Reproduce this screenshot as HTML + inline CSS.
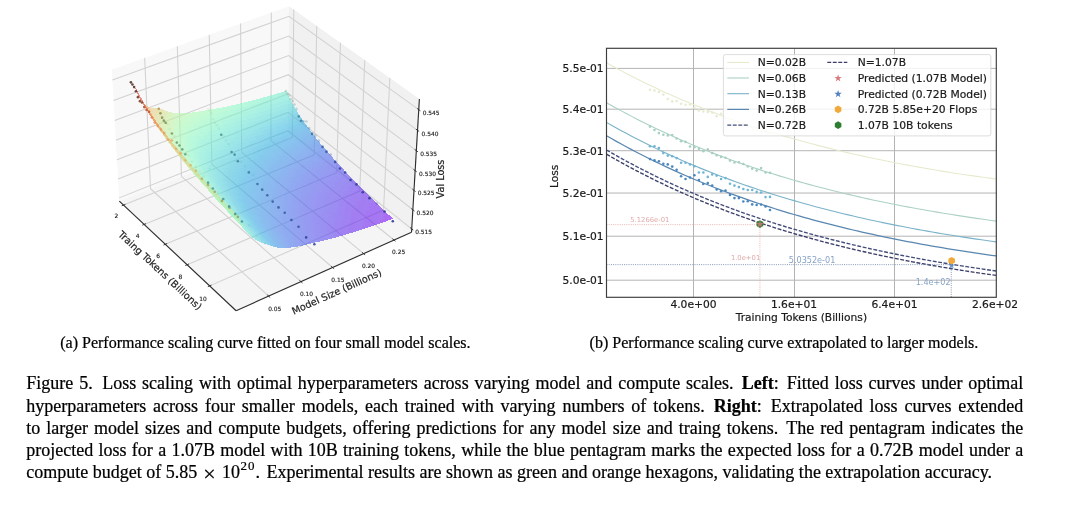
<!DOCTYPE html>
<html lang="en"><head><meta charset="utf-8"><title>Figure 5</title>
<style>
html,body{margin:0;padding:0;background:#fff;}
body{width:1080px;height:506px;position:relative;overflow:hidden;font-family:"Liberation Serif","DejaVu Serif",serif;color:#000;-webkit-text-stroke:0.22px #000;}
svg{position:absolute;left:0;top:0;}
.cap{position:absolute;font-size:16.05px;line-height:20px;white-space:nowrap;}
.main{position:absolute;left:26.3px;top:372.3px;width:997px;font-size:18px;line-height:22.25px;}
.main div{text-align:justify;text-align-last:justify;white-space:nowrap;height:22.25px;}
.main div.last{text-align:left;text-align-last:left;}
.sp{display:inline-block;width:0.12em;}
.spl{display:inline-block;width:0.2em;}
.main sup{font-size:13px;line-height:0;vertical-align:baseline;position:relative;top:-8.6px;letter-spacing:0.9px;margin-left:0.6px;}
.x{display:inline-block;font-size:22px;line-height:0;margin:0 6.3px 0 6px;position:relative;top:2.6px;}
</style></head><body>
<svg width="1080" height="506" viewBox="0 0 1080 506">
<g id="plot3d">
<polygon points="119.31,201.1 236.12,310.75 411.52,232.16 287.87,133.86" fill="#f5f5f5"/>
<polygon points="119.31,201.1 287.87,133.86 289.05,6.16 111.82,69.64" fill="#f8f8f8"/>
<polygon points="287.87,133.86 411.52,232.16 419.38,99.08 289.05,6.16" fill="#f1f1f1"/>
<g fill="none" stroke="#d1d1d1" stroke-width="1.05">
<polyline points="123.57,205.1 292.39,137.46 293.8,9.54"/>
<polyline points="144.14,224.41 314.23,154.82 316.76,25.91"/>
<polyline points="165.32,244.29 336.69,172.68 340.4,42.76"/>
<polyline points="187.14,264.77 359.79,191.04 364.74,60.12"/>
<polyline points="209.63,285.88 383.56,209.94 389.83,78.01"/>
<polyline points="268.69,296.16 150.5,188.66 144.68,57.87"/>
<polyline points="300.98,281.69 181.47,176.31 177.28,46.19"/>
<polyline points="332.61,267.52 211.86,164.18 209.24,34.74"/>
<polyline points="363.6,253.63 241.68,152.29 240.58,23.52"/>
<polyline points="393.98,240.02 270.95,140.61 271.3,12.51"/>
<polyline points="119.13,197.87 287.9,130.72 411.71,228.9"/>
<polyline points="118.05,178.97 288.07,112.31 412.84,209.78"/>
<polyline points="116.96,159.78 288.24,93.65 413.99,190.37"/>
<polyline points="115.85,140.3 288.42,74.71 415.15,170.65"/>
<polyline points="114.72,120.53 288.6,55.51 416.33,150.63"/>
<polyline points="113.57,100.45 288.78,36.02 417.54,130.3"/>
<polyline points="112.41,80.06 288.96,16.25 418.76,109.64"/>
</g>
<filter id="sb" x="-5%" y="-5%" width="110%" height="110%"><feGaussianBlur stdDeviation="0.55"/></filter>
<g id="surf" fill-opacity="0.56" shape-rendering="crispEdges" filter="url(#sb)">
<path d="M283 91.8L285 96L287.9 95.1L285.9 90.9" fill="#73eecf"/>
<path d="M285 96L287.1 99.9L290 99.1L287.9 95.1" fill="#69e8d4"/>
<path d="M287.1 99.9L289.1 103.7L292 102.8L290 99.1" fill="#5ee0d8"/>
<path d="M280.1 92.7L282.1 96.9L285 96L283 91.8" fill="#73eecf"/>
<path d="M289.1 103.7L291.1 107.2L294 106.4L292 102.8" fill="#56d8db"/>
<path d="M282.1 96.9L284.2 100.8L287.1 99.9L285 96" fill="#69e8d4"/>
<path d="M284.2 100.8L286.2 104.6L289.1 103.7L287.1 99.9" fill="#60e1d7"/>
<path d="M291.1 107.2L293.2 110.7L296.1 109.8L294 106.4" fill="#4cd0dd"/>
<path d="M277.2 93.5L279.2 97.7L282.1 96.9L280.1 92.7" fill="#74efcf"/>
<path d="M286.2 104.6L288.2 108.1L291.1 107.2L289.1 103.7" fill="#57dada"/>
<path d="M279.2 97.7L281.3 101.7L284.2 100.8L282.1 96.9" fill="#6ae9d3"/>
<path d="M293.2 110.7L295.2 113.9L298.1 113L296.1 109.8" fill="#45c9e0"/>
<path d="M281.3 101.7L283.3 105.4L286.2 104.6L284.2 100.8" fill="#60e1d7"/>
<path d="M288.2 108.1L290.3 111.5L293.2 110.7L291.1 107.2" fill="#4ed2dd"/>
<path d="M274.3 94.4L276.3 98.6L279.2 97.7L277.2 93.5" fill="#76f0ce"/>
<path d="M295.2 113.9L297.3 117.1L300.2 116.2L298.1 113" fill="#3dc1e2"/>
<path d="M283.3 105.4L285.3 109L288.2 108.1L286.2 104.6" fill="#57dada"/>
<path d="M276.3 98.6L278.4 102.5L281.3 101.7L279.2 97.7" fill="#6cead2"/>
<path d="M290.3 111.5L292.3 114.8L295.2 113.9L293.2 110.7" fill="#47cbdf"/>
<path d="M278.4 102.5L280.4 106.3L283.3 105.4L281.3 101.7" fill="#62e3d6"/>
<path d="M285.3 109L287.4 112.4L290.3 111.5L288.2 108.1" fill="#50d4dc"/>
<path d="M297.3 117.1L299.3 120.2L302.2 119.3L300.2 116.2" fill="#36b9e3"/>
<path d="M271.4 95.2L273.4 99.4L276.3 98.6L274.3 94.4" fill="#76f0ce"/>
<path d="M292.3 114.8L294.4 118L297.3 117.1L295.2 113.9" fill="#3fc3e1"/>
<path d="M280.4 106.3L282.4 109.9L285.3 109L283.3 105.4" fill="#59dcd9"/>
<path d="M273.4 99.4L275.5 103.4L278.4 102.5L276.3 98.6" fill="#6cead2"/>
<path d="M287.4 112.4L289.4 115.7L292.3 114.8L290.3 111.5" fill="#47cbdf"/>
<path d="M299.3 120.2L301.4 123.2L304.3 122.3L302.2 119.3" fill="#30b3e5"/>
<path d="M275.5 103.4L277.5 107.2L280.4 106.3L278.4 102.5" fill="#64e4d6"/>
<path d="M282.4 109.9L284.5 113.3L287.4 112.4L285.3 109" fill="#50d4dc"/>
<path d="M294.4 118L296.4 121.1L299.3 120.2L297.3 117.1" fill="#38bbe3"/>
<path d="M268.5 96.1L270.5 100.3L273.4 99.4L271.4 95.2" fill="#78f1cd"/>
<path d="M289.4 115.7L291.5 118.9L294.4 118L292.3 114.8" fill="#3fc3e1"/>
<path d="M277.5 107.2L279.5 110.7L282.4 109.9L280.4 106.3" fill="#5bddd9"/>
<path d="M270.5 100.3L272.5 104.2L275.5 103.4L273.4 99.4" fill="#6eebd2"/>
<path d="M301.4 123.2L303.4 126.1L306.3 125.2L304.3 122.3" fill="#2face6"/>
<path d="M284.5 113.3L286.5 116.6L289.4 115.7L287.4 112.4" fill="#49cddf"/>
<path d="M296.4 121.1L298.5 124.1L301.4 123.2L299.3 120.2" fill="#30b3e5"/>
<path d="M272.5 104.2L274.6 108L277.5 107.2L275.5 103.4" fill="#64e4d6"/>
<path d="M279.5 110.7L281.6 114.2L284.5 113.3L282.4 109.9" fill="#52d5dc"/>
<path d="M291.5 118.9L293.5 122L296.4 121.1L294.4 118" fill="#3abde3"/>
<path d="M265.5 96.9L267.6 101.1L270.5 100.3L268.5 96.1" fill="#79f2cc"/>
<path d="M286.5 116.6L288.6 119.8L291.5 118.9L289.4 115.7" fill="#41c5e1"/>
<path d="M303.4 126.1L305.5 128.9L308.4 128L306.3 125.2" fill="#31a3e8"/>
<path d="M274.6 108L276.6 111.6L279.5 110.7L277.5 107.2" fill="#5bddd9"/>
<path d="M267.6 101.1L269.6 105.1L272.5 104.2L270.5 100.3" fill="#70ecd1"/>
<path d="M298.5 124.1L300.5 127L303.4 126.1L301.4 123.2" fill="#2face6"/>
<path d="M281.6 114.2L283.6 117.5L286.5 116.6L284.5 113.3" fill="#4bcede"/>
<path d="M293.5 122L295.6 125L298.5 124.1L296.4 121.1" fill="#32b5e4"/>
<path d="M269.6 105.1L271.6 108.9L274.6 108L272.5 104.2" fill="#65e5d5"/>
<path d="M276.6 111.6L278.6 115L281.6 114.2L279.5 110.7" fill="#54d7db"/>
<path d="M288.6 119.8L290.6 122.9L293.5 122L291.5 118.9" fill="#3abde3"/>
<path d="M262.6 97.7L264.6 101.9L267.6 101.1L265.5 96.9" fill="#7bf3cc"/>
<path d="M305.5 128.9L307.6 131.7L310.5 130.8L308.4 128" fill="#329fe8"/>
<path d="M283.6 117.5L285.7 120.7L288.6 119.8L286.5 116.6" fill="#43c7e0"/>
<path d="M300.5 127L302.6 129.9L305.5 128.9L303.4 126.1" fill="#30a6e7"/>
<path d="M271.6 108.9L273.7 112.4L276.6 111.6L274.6 108" fill="#5ddfd8"/>
<path d="M264.6 101.9L266.7 105.9L269.6 105.1L267.6 101.1" fill="#70ecd1"/>
<path d="M295.6 125L297.6 127.9L300.5 127L298.5 124.1" fill="#2eaee6"/>
<path d="M278.6 115L280.7 118.3L283.6 117.5L281.6 114.2" fill="#4bcede"/>
<path d="M290.6 122.9L292.7 125.9L295.6 125L293.5 122" fill="#34b7e4"/>
<path d="M266.7 105.9L268.7 109.7L271.6 108.9L269.6 105.1" fill="#67e7d4"/>
<path d="M285.7 120.7L287.7 123.8L290.6 122.9L288.6 119.8" fill="#3cbfe2"/>
<path d="M273.7 112.4L275.7 115.9L278.6 115L276.6 111.6" fill="#54d7db"/>
<path d="M307.6 131.7L309.7 134.5L312.5 133.5L310.5 130.8" fill="#3498e9"/>
<path d="M259.7 98.5L261.7 102.8L264.6 101.9L262.6 97.7" fill="#7bf3cc"/>
<path d="M302.6 129.9L304.7 132.6L307.6 131.7L305.5 128.9" fill="#329fe8"/>
<path d="M280.7 118.3L282.7 121.5L285.7 120.7L283.6 117.5" fill="#43c7e0"/>
<path d="M297.6 127.9L299.7 130.8L302.6 129.9L300.5 127" fill="#30a8e7"/>
<path d="M268.7 109.7L270.7 113.3L273.7 112.4L271.6 108.9" fill="#5ee0d8"/>
<path d="M261.7 102.8L263.7 106.7L266.7 105.9L264.6 101.9" fill="#71edd0"/>
<path d="M292.7 125.9L294.7 128.8L297.6 127.9L295.6 125" fill="#2eaee6"/>
<path d="M275.7 115.9L277.8 119.2L280.7 118.3L278.6 115" fill="#4cd0dd"/>
<path d="M287.7 123.8L289.8 126.8L292.7 125.9L290.6 122.9" fill="#34b7e4"/>
<path d="M309.7 134.5L311.7 137.1L314.6 136.2L312.5 133.5" fill="#3690ea"/>
<path d="M263.7 106.7L265.8 110.5L268.7 109.7L266.7 105.9" fill="#69e8d4"/>
<path d="M282.7 121.5L284.8 124.6L287.7 123.8L285.7 120.7" fill="#3dc1e2"/>
<path d="M270.7 113.3L272.8 116.7L275.7 115.9L273.7 112.4" fill="#56d8db"/>
<path d="M304.7 132.6L306.8 135.4L309.7 134.5L307.6 131.7" fill="#3498e9"/>
<path d="M299.7 130.8L301.8 133.5L304.7 132.6L302.6 129.9" fill="#32a1e8"/>
<path d="M256.7 99.3L258.7 103.6L261.7 102.8L259.7 98.5" fill="#7df4cb"/>
<path d="M277.8 119.2L279.8 122.4L282.7 121.5L280.7 118.3" fill="#45c9e0"/>
<path d="M294.7 128.8L296.8 131.7L299.7 130.8L297.6 127.9" fill="#30a8e7"/>
<path d="M265.8 110.5L267.8 114.1L270.7 113.3L268.7 109.7" fill="#60e1d7"/>
<path d="M289.8 126.8L291.8 129.7L294.7 128.8L292.7 125.9" fill="#2eb1e5"/>
<path d="M258.7 103.6L260.8 107.5L263.7 106.7L261.7 102.8" fill="#73eecf"/>
<path d="M272.8 116.7L274.8 120L277.8 119.2L275.7 115.9" fill="#4ed2dd"/>
<path d="M284.8 124.6L286.8 127.6L289.8 126.8L287.7 123.8" fill="#36b9e3"/>
<path d="M311.7 137.1L313.8 139.8L316.7 138.8L314.6 136.2" fill="#388beb"/>
<path d="M306.8 135.4L308.8 138.1L311.7 137.1L309.7 134.5" fill="#3693ea"/>
<path d="M260.8 107.5L262.8 111.3L265.8 110.5L263.7 106.7" fill="#69e8d4"/>
<path d="M279.8 122.4L281.9 125.5L284.8 124.6L282.7 121.5" fill="#3dc1e2"/>
<path d="M301.8 133.5L303.9 136.3L306.8 135.4L304.7 132.6" fill="#349ae9"/>
<path d="M267.8 114.1L269.9 117.6L272.8 116.7L270.7 113.3" fill="#57dada"/>
<path d="M296.8 131.7L298.9 134.4L301.8 133.5L299.7 130.8" fill="#32a1e8"/>
<path d="M253.8 100.1L255.8 104.3L258.7 103.6L256.7 99.3" fill="#7ef4ca"/>
<path d="M274.8 120L276.9 123.2L279.8 122.4L277.8 119.2" fill="#47cbdf"/>
<path d="M291.8 129.7L293.9 132.5L296.8 131.7L294.7 128.8" fill="#2faae6"/>
<path d="M262.8 111.3L264.9 114.9L267.8 114.1L265.8 110.5" fill="#60e1d7"/>
<path d="M286.8 127.6L288.9 130.6L291.8 129.7L289.8 126.8" fill="#30b3e5"/>
<path d="M255.8 104.3L257.8 108.3L260.8 107.5L258.7 103.6" fill="#74efcf"/>
<path d="M269.9 117.6L271.9 120.9L274.8 120L272.8 116.7" fill="#50d4dc"/>
<path d="M313.8 139.8L315.9 142.4L318.8 141.4L316.7 138.8" fill="#3a84ec"/>
<path d="M281.9 125.5L283.9 128.5L286.8 127.6L284.8 124.6" fill="#38bbe3"/>
<path d="M308.8 138.1L310.9 140.7L313.8 139.8L311.7 137.1" fill="#388beb"/>
<path d="M303.9 136.3L305.9 139L308.8 138.1L306.8 135.4" fill="#3693ea"/>
<path d="M257.8 108.3L259.9 112.1L262.8 111.3L260.8 107.5" fill="#6ae9d3"/>
<path d="M276.9 123.2L278.9 126.3L281.9 125.5L279.8 122.4" fill="#3fc3e1"/>
<path d="M298.9 134.4L300.9 137.2L303.9 136.3L301.8 133.5" fill="#339ce9"/>
<path d="M264.9 114.9L266.9 118.4L269.9 117.6L267.8 114.1" fill="#59dcd9"/>
<path d="M293.9 132.5L296 135.3L298.9 134.4L296.8 131.7" fill="#31a3e8"/>
<path d="M250.8 100.9L252.8 105.1L255.8 104.3L253.8 100.1" fill="#80f5c9"/>
<path d="M271.9 120.9L273.9 124.1L276.9 123.2L274.8 120" fill="#49cddf"/>
<path d="M288.9 130.6L291 133.4L293.9 132.5L291.8 129.7" fill="#2face6"/>
<path d="M259.9 112.1L261.9 115.7L264.9 114.9L262.8 111.3" fill="#62e3d6"/>
<path d="M283.9 128.5L286 131.4L288.9 130.6L286.8 127.6" fill="#32b5e4"/>
<path d="M252.8 105.1L254.9 109.1L257.8 108.3L255.8 104.3" fill="#76f0ce"/>
<path d="M315.9 142.4L318 144.9L320.9 144L318.8 141.4" fill="#3c7eed"/>
<path d="M266.9 118.4L269 121.7L271.9 120.9L269.9 117.6" fill="#50d4dc"/>
<path d="M310.9 140.7L313 143.3L315.9 142.4L313.8 139.8" fill="#3986ec"/>
<path d="M278.9 126.3L281 129.4L283.9 128.5L281.9 125.5" fill="#3abde3"/>
<path d="M305.9 139L308 141.6L310.9 140.7L308.8 138.1" fill="#378eeb"/>
<path d="M300.9 137.2L303 139.9L305.9 139L303.9 136.3" fill="#3595ea"/>
<path d="M296 135.3L298 138.1L300.9 137.2L298.9 134.4" fill="#339ce9"/>
<path d="M254.9 109.1L256.9 112.9L259.9 112.1L257.8 108.3" fill="#6cead2"/>
<path d="M273.9 124.1L276 127.2L278.9 126.3L276.9 123.2" fill="#41c5e1"/>
<path d="M261.9 115.7L264 119.2L266.9 118.4L264.9 114.9" fill="#5bddd9"/>
<path d="M291 133.4L293 136.2L296 135.3L293.9 132.5" fill="#30a6e7"/>
<path d="M247.8 101.6L249.9 105.9L252.8 105.1L250.8 100.9" fill="#81f6c8"/>
<path d="M286 131.4L288 134.3L291 133.4L288.9 130.6" fill="#2face6"/>
<path d="M269 121.7L271 124.9L273.9 124.1L271.9 120.9" fill="#49cddf"/>
<path d="M256.9 112.9L259 116.5L261.9 115.7L259.9 112.1" fill="#64e4d6"/>
<path d="M281 129.4L283 132.3L286 131.4L283.9 128.5" fill="#32b5e4"/>
<path d="M318 144.9L320.1 147.4L323 146.5L320.9 144" fill="#3e79ed"/>
<path d="M249.9 105.9L251.9 109.9L254.9 109.1L252.8 105.1" fill="#78f1cd"/>
<path d="M313 143.3L315.1 145.8L318 144.9L315.9 142.4" fill="#3b81ec"/>
<path d="M264 119.2L266 122.5L269 121.7L266.9 118.4" fill="#52d5dc"/>
<path d="M308 141.6L310.1 144.2L313 143.3L310.9 140.7" fill="#3989eb"/>
<path d="M276 127.2L278.1 130.2L281 129.4L278.9 126.3" fill="#3abde3"/>
<path d="M303 139.9L305.1 142.5L308 141.6L305.9 139" fill="#3690ea"/>
<path d="M298 138.1L300.1 140.8L303 139.9L300.9 137.2" fill="#3498e9"/>
<path d="M293 136.2L295.1 139L298 138.1L296 135.3" fill="#329fe8"/>
<path d="M271 124.9L273.1 128L276 127.2L273.9 124.1" fill="#43c7e0"/>
<path d="M251.9 109.9L254 113.7L256.9 112.9L254.9 109.1" fill="#6eebd2"/>
<path d="M259 116.5L261 120L264 119.2L261.9 115.7" fill="#5bddd9"/>
<path d="M288 134.3L290.1 137.1L293 136.2L291 133.4" fill="#30a8e7"/>
<path d="M244.9 102.4L246.9 106.6L249.9 105.9L247.8 101.6" fill="#83f6c8"/>
<path d="M283 132.3L285.1 135.2L288 134.3L286 131.4" fill="#2eaee6"/>
<path d="M266 122.5L268.1 125.7L271 124.9L269 121.7" fill="#4bcede"/>
<path d="M278.1 130.2L280.1 133.1L283 132.3L281 129.4" fill="#34b7e4"/>
<path d="M254 113.7L256 117.3L259 116.5L256.9 112.9" fill="#65e5d5"/>
<path d="M320.1 147.4L322.2 149.9L325.1 149L323 146.5" fill="#3f74ee"/>
<path d="M315.1 145.8L317.2 148.4L320.1 147.4L318 144.9" fill="#3e79ed"/>
<path d="M310.1 144.2L312.2 146.8L315.1 145.8L313 143.3" fill="#3b81ec"/>
<path d="M246.9 106.6L248.9 110.6L251.9 109.9L249.9 105.9" fill="#79f2cc"/>
<path d="M305.1 142.5L307.2 145.1L310.1 144.2L308 141.6" fill="#3989eb"/>
<path d="M261 120L263 123.3L266 122.5L264 119.2" fill="#54d7db"/>
<path d="M300.1 140.8L302.2 143.4L305.1 142.5L303 139.9" fill="#3690ea"/>
<path d="M273.1 128L275.1 131L278.1 130.2L276 127.2" fill="#3cbfe2"/>
<path d="M295.1 139L297.2 141.7L300.1 140.8L298 138.1" fill="#3498e9"/>
<path d="M290.1 137.1L292.2 139.9L295.1 139L293 136.2" fill="#32a1e8"/>
<path d="M268.1 125.7L270.1 128.8L273.1 128L271 124.9" fill="#43c7e0"/>
<path d="M248.9 110.6L251 114.4L254 113.7L251.9 109.9" fill="#70ecd1"/>
<path d="M256 117.3L258 120.8L261 120L259 116.5" fill="#5ddfd8"/>
<path d="M285.1 135.2L287.2 138L290.1 137.1L288 134.3" fill="#30a8e7"/>
<path d="M241.9 103.1L243.9 107.4L246.9 106.6L244.9 102.4" fill="#85f7c7"/>
<path d="M280.1 133.1L282.2 136L285.1 135.2L283 132.3" fill="#2eb1e5"/>
<path d="M263 123.3L265.1 126.5L268.1 125.7L266 122.5" fill="#4cd0dd"/>
<path d="M322.2 149.9L324.3 152.4L327.2 151.4L325.1 149" fill="#416fee"/>
<path d="M317.2 148.4L319.3 150.9L322.2 149.9L320.1 147.4" fill="#3f74ee"/>
<path d="M275.1 131L277.2 134L280.1 133.1L278.1 130.2" fill="#36b9e3"/>
<path d="M312.2 146.8L314.3 149.3L317.2 148.4L315.1 145.8" fill="#3d7ced"/>
<path d="M251 114.4L253 118.1L256 117.3L254 113.7" fill="#67e7d4"/>
<path d="M307.2 145.1L309.3 147.7L312.2 146.8L310.1 144.2" fill="#3a84ec"/>
<path d="M243.9 107.4L246 111.4L248.9 110.6L246.9 106.6" fill="#79f2cc"/>
<path d="M302.2 143.4L304.3 146L307.2 145.1L305.1 142.5" fill="#388beb"/>
<path d="M258 120.8L260.1 124.1L263 123.3L261 120" fill="#56d8db"/>
<path d="M297.2 141.7L299.3 144.3L302.2 143.4L300.1 140.8" fill="#3693ea"/>
<path d="M270.1 128.8L272.2 131.9L275.1 131L273.1 128" fill="#3dc1e2"/>
<path d="M292.2 139.9L294.3 142.6L297.2 141.7L295.1 139" fill="#349ae9"/>
<path d="M287.2 138L289.3 140.7L292.2 139.9L290.1 137.1" fill="#32a1e8"/>
<path d="M265.1 126.5L267.1 129.6L270.1 128.8L268.1 125.7" fill="#45c9e0"/>
<path d="M246 111.4L248 115.2L251 114.4L248.9 110.6" fill="#71edd0"/>
<path d="M253 118.1L255.1 121.5L258 120.8L256 117.3" fill="#5ee0d8"/>
<path d="M282.2 136L284.2 138.8L287.2 138L285.1 135.2" fill="#2faae6"/>
<path d="M277.2 134L279.2 136.9L282.2 136L280.1 133.1" fill="#30b3e5"/>
<path d="M238.9 103.8L240.9 108.1L243.9 107.4L241.9 103.1" fill="#86f8c6"/>
<path d="M260.1 124.1L262.1 127.3L265.1 126.5L263 123.3" fill="#4ed2dd"/>
<path d="M324.3 152.4L326.4 154.8L329.3 153.9L327.2 151.4" fill="#4369ee"/>
<path d="M319.3 150.9L321.4 153.3L324.3 152.4L322.2 149.9" fill="#416fee"/>
<path d="M314.3 149.3L316.4 151.8L319.3 150.9L317.2 148.4" fill="#3e77ed"/>
<path d="M309.3 147.7L311.4 150.2L314.3 149.3L312.2 146.8" fill="#3c7eed"/>
<path d="M272.2 131.9L274.2 134.8L277.2 134L275.1 131" fill="#38bbe3"/>
<path d="M304.3 146L306.4 148.6L309.3 147.7L307.2 145.1" fill="#3986ec"/>
<path d="M248 115.2L250 118.8L253 118.1L251 114.4" fill="#69e8d4"/>
<path d="M299.3 144.3L301.4 146.9L304.3 146L302.2 143.4" fill="#378eeb"/>
<path d="M240.9 108.1L243 112.1L246 111.4L243.9 107.4" fill="#7df4cb"/>
<path d="M255.1 121.5L257.1 124.9L260.1 124.1L258 120.8" fill="#57dada"/>
<path d="M294.3 142.6L296.3 145.2L299.3 144.3L297.2 141.7" fill="#3595ea"/>
<path d="M267.1 129.6L269.2 132.7L272.2 131.9L270.1 128.8" fill="#3fc3e1"/>
<path d="M289.3 140.7L291.3 143.4L294.3 142.6L292.2 139.9" fill="#339ce9"/>
<path d="M284.2 138.8L286.3 141.6L289.3 140.7L287.2 138" fill="#31a3e8"/>
<path d="M262.1 127.3L264.2 130.4L267.1 129.6L265.1 126.5" fill="#47cbdf"/>
<path d="M243 112.1L245 115.9L248 115.2L246 111.4" fill="#73eecf"/>
<path d="M279.2 136.9L281.3 139.7L284.2 138.8L282.2 136" fill="#2face6"/>
<path d="M250 118.8L252.1 122.3L255.1 121.5L253 118.1" fill="#60e1d7"/>
<path d="M274.2 134.8L276.3 137.7L279.2 136.9L277.2 134" fill="#32b5e4"/>
<path d="M235.9 104.5L237.9 108.8L240.9 108.1L238.9 103.8" fill="#88f8c5"/>
<path d="M257.1 124.9L259.2 128.1L262.1 127.3L260.1 124.1" fill="#50d4dc"/>
<path d="M321.4 153.3L323.5 155.8L326.4 154.8L324.3 152.4" fill="#426cee"/>
<path d="M326.4 154.8L328.6 157.2L331.5 156.3L329.3 153.9" fill="#4564ef"/>
<path d="M316.4 151.8L318.5 154.3L321.4 153.3L319.3 150.9" fill="#4071ee"/>
<path d="M311.4 150.2L313.5 152.7L316.4 151.8L314.3 149.3" fill="#3e79ed"/>
<path d="M306.4 148.6L308.5 151.1L311.4 150.2L309.3 147.7" fill="#3c7eed"/>
<path d="M269.2 132.7L271.3 135.6L274.2 134.8L272.2 131.9" fill="#3abde3"/>
<path d="M301.4 146.9L303.5 149.5L306.4 148.6L304.3 146" fill="#3986ec"/>
<path d="M245 115.9L247.1 119.5L250 118.8L248 115.2" fill="#6ae9d3"/>
<path d="M296.3 145.2L298.4 147.8L301.4 146.9L299.3 144.3" fill="#378eeb"/>
<path d="M291.3 143.4L293.4 146.1L296.3 145.2L294.3 142.6" fill="#3595ea"/>
<path d="M237.9 108.8L240 112.8L243 112.1L240.9 108.1" fill="#7ef4ca"/>
<path d="M252.1 122.3L254.1 125.6L257.1 124.9L255.1 121.5" fill="#59dcd9"/>
<path d="M264.2 130.4L266.2 133.5L269.2 132.7L267.1 129.6" fill="#41c5e1"/>
<path d="M286.3 141.6L288.4 144.3L291.3 143.4L289.3 140.7" fill="#329fe8"/>
<path d="M281.3 139.7L283.4 142.4L286.3 141.6L284.2 138.8" fill="#30a6e7"/>
<path d="M259.2 128.1L261.2 131.2L264.2 130.4L262.1 127.3" fill="#49cddf"/>
<path d="M276.3 137.7L278.3 140.5L281.3 139.7L279.2 136.9" fill="#2eaee6"/>
<path d="M240 112.8L242 116.6L245 115.9L243 112.1" fill="#74efcf"/>
<path d="M247.1 119.5L249.1 123L252.1 122.3L250 118.8" fill="#62e3d6"/>
<path d="M271.3 135.6L273.3 138.5L276.3 137.7L274.2 134.8" fill="#32b5e4"/>
<path d="M318.5 154.3L320.6 156.7L323.5 155.8L321.4 153.3" fill="#426cee"/>
<path d="M323.5 155.8L325.7 158.2L328.6 157.2L326.4 154.8" fill="#4466ef"/>
<path d="M254.1 125.6L256.2 128.9L259.2 128.1L257.1 124.9" fill="#52d5dc"/>
<path d="M313.5 152.7L315.6 155.2L318.5 154.3L316.4 151.8" fill="#3f74ee"/>
<path d="M328.6 157.2L330.7 159.6L333.6 158.7L331.5 156.3" fill="#475eef"/>
<path d="M232.9 105.2L234.9 109.5L237.9 108.8L235.9 104.5" fill="#89f9c4"/>
<path d="M308.5 151.1L310.6 153.6L313.5 152.7L311.4 150.2" fill="#3e79ed"/>
<path d="M303.5 149.5L305.5 152L308.5 151.1L306.4 148.6" fill="#3b81ec"/>
<path d="M298.4 147.8L300.5 150.4L303.5 149.5L301.4 146.9" fill="#3989eb"/>
<path d="M266.2 133.5L268.3 136.4L271.3 135.6L269.2 132.7" fill="#3abde3"/>
<path d="M293.4 146.1L295.5 148.7L298.4 147.8L296.3 145.2" fill="#3690ea"/>
<path d="M242 116.6L244.1 120.2L247.1 119.5L245 115.9" fill="#6cead2"/>
<path d="M288.4 144.3L290.5 147L293.4 146.1L291.3 143.4" fill="#3498e9"/>
<path d="M234.9 109.5L237 113.5L240 112.8L237.9 108.8" fill="#80f5c9"/>
<path d="M249.1 123L251.2 126.4L254.1 125.6L252.1 122.3" fill="#5bddd9"/>
<path d="M261.2 131.2L263.3 134.3L266.2 133.5L264.2 130.4" fill="#43c7e0"/>
<path d="M283.4 142.4L285.4 145.2L288.4 144.3L286.3 141.6" fill="#329fe8"/>
<path d="M278.3 140.5L280.4 143.3L283.4 142.4L281.3 139.7" fill="#30a8e7"/>
<path d="M256.2 128.9L258.2 132L261.2 131.2L259.2 128.1" fill="#4bcede"/>
<path d="M273.3 138.5L275.4 141.3L278.3 140.5L276.3 137.7" fill="#2eb1e5"/>
<path d="M237 113.5L239 117.3L242 116.6L240 112.8" fill="#76f0ce"/>
<path d="M244.1 120.2L246.1 123.7L249.1 123L247.1 119.5" fill="#64e4d6"/>
<path d="M268.3 136.4L270.4 139.3L273.3 138.5L271.3 135.6" fill="#34b7e4"/>
<path d="M320.6 156.7L322.7 159.1L325.7 158.2L323.5 155.8" fill="#4466ef"/>
<path d="M315.6 155.2L317.7 157.6L320.6 156.7L318.5 154.3" fill="#416fee"/>
<path d="M325.7 158.2L327.8 160.6L330.7 159.6L328.6 157.2" fill="#4661ef"/>
<path d="M310.6 153.6L312.7 156.1L315.6 155.2L313.5 152.7" fill="#3f74ee"/>
<path d="M330.7 159.6L332.8 162L335.7 161L333.6 158.7" fill="#485bef"/>
<path d="M305.5 152L307.6 154.6L310.6 153.6L308.5 151.1" fill="#3d7ced"/>
<path d="M251.2 126.4L253.2 129.6L256.2 128.9L254.1 125.6" fill="#54d7db"/>
<path d="M300.5 150.4L302.6 152.9L305.5 152L303.5 149.5" fill="#3a84ec"/>
<path d="M229.9 105.8L231.9 110.1L234.9 109.5L232.9 105.2" fill="#8bf9c3"/>
<path d="M295.5 148.7L297.6 151.3L300.5 150.4L298.4 147.8" fill="#388beb"/>
<path d="M263.3 134.3L265.3 137.2L268.3 136.4L266.2 133.5" fill="#3cbfe2"/>
<path d="M290.5 147L292.6 149.6L295.5 148.7L293.4 146.1" fill="#3693ea"/>
<path d="M239 117.3L241.1 120.9L244.1 120.2L242 116.6" fill="#6eebd2"/>
<path d="M285.4 145.2L287.5 147.8L290.5 147L288.4 144.3" fill="#349ae9"/>
<path d="M246.1 123.7L248.2 127.1L251.2 126.4L249.1 123" fill="#5ddfd8"/>
<path d="M231.9 110.1L234 114.1L237 113.5L234.9 109.5" fill="#81f6c8"/>
<path d="M258.2 132L260.3 135L263.3 134.3L261.2 131.2" fill="#45c9e0"/>
<path d="M280.4 143.3L282.5 146L285.4 145.2L283.4 142.4" fill="#32a1e8"/>
<path d="M275.4 141.3L277.5 144.1L280.4 143.3L278.3 140.5" fill="#2faae6"/>
<path d="M253.2 129.6L255.3 132.7L258.2 132L256.2 128.9" fill="#4cd0dd"/>
<path d="M270.4 139.3L272.4 142.2L275.4 141.3L273.3 138.5" fill="#2eb1e5"/>
<path d="M234 114.1L236 118L239 117.3L237 113.5" fill="#78f1cd"/>
<path d="M241.1 120.9L243.1 124.4L246.1 123.7L244.1 120.2" fill="#65e5d5"/>
<path d="M317.7 157.6L319.8 160.1L322.7 159.1L320.6 156.7" fill="#4369ee"/>
<path d="M312.7 156.1L314.8 158.6L317.7 157.6L315.6 155.2" fill="#416fee"/>
<path d="M322.7 159.1L324.9 161.5L327.8 160.6L325.7 158.2" fill="#4564ef"/>
<path d="M265.3 137.2L267.4 140.1L270.4 139.3L268.3 136.4" fill="#36b9e3"/>
<path d="M307.6 154.6L309.8 157L312.7 156.1L310.6 153.6" fill="#3e77ed"/>
<path d="M327.8 160.6L329.9 163L332.8 162L330.7 159.6" fill="#485bef"/>
<path d="M302.6 152.9L304.7 155.5L307.6 154.6L305.5 152" fill="#3c7eed"/>
<path d="M332.8 162L334.9 164.3L337.8 163.4L335.7 161" fill="#4a56f0"/>
<path d="M297.6 151.3L299.7 153.8L302.6 152.9L300.5 150.4" fill="#3986ec"/>
<path d="M248.2 127.1L250.2 130.3L253.2 129.6L251.2 126.4" fill="#56d8db"/>
<path d="M292.6 149.6L294.6 152.2L297.6 151.3L295.5 148.7" fill="#378eeb"/>
<path d="M226.9 106.5L228.9 110.8L231.9 110.1L229.9 105.8" fill="#8cf9c2"/>
<path d="M260.3 135L262.4 138L265.3 137.2L263.3 134.3" fill="#3dc1e2"/>
<path d="M287.5 147.8L289.6 150.4L292.6 149.6L290.5 147" fill="#3595ea"/>
<path d="M282.5 146L284.6 148.7L287.5 147.8L285.4 145.2" fill="#339ce9"/>
<path d="M236 118L238.1 121.6L241.1 120.9L239 117.3" fill="#70ecd1"/>
<path d="M277.5 144.1L279.5 146.8L282.5 146L280.4 143.3" fill="#31a3e8"/>
<path d="M255.3 132.7L257.3 135.8L260.3 135L258.2 132" fill="#47cbdf"/>
<path d="M243.1 124.4L245.2 127.8L248.2 127.1L246.1 123.7" fill="#5ee0d8"/>
<path d="M228.9 110.8L231 114.8L234 114.1L231.9 110.1" fill="#83f6c8"/>
<path d="M272.4 142.2L274.5 144.9L277.5 144.1L275.4 141.3" fill="#2face6"/>
<path d="M250.2 130.3L252.3 133.5L255.3 132.7L253.2 129.6" fill="#4ed2dd"/>
<path d="M267.4 140.1L269.5 142.9L272.4 142.2L270.4 139.3" fill="#30b3e5"/>
<path d="M238.1 121.6L240.1 125.1L243.1 124.4L241.1 120.9" fill="#69e8d4"/>
<path d="M231 114.8L233 118.6L236 118L234 114.1" fill="#7bf3cc"/>
<path d="M314.8 158.6L316.9 161L319.8 160.1L317.7 157.6" fill="#426cee"/>
<path d="M319.8 160.1L322 162.5L324.9 161.5L322.7 159.1" fill="#4564ef"/>
<path d="M309.8 157L311.9 159.5L314.8 158.6L312.7 156.1" fill="#4071ee"/>
<path d="M324.9 161.5L327 163.9L329.9 163L327.8 160.6" fill="#475eef"/>
<path d="M304.7 155.5L306.8 157.9L309.8 157L307.6 154.6" fill="#3e79ed"/>
<path d="M329.9 163L332 165.3L334.9 164.3L332.8 162" fill="#4959ef"/>
<path d="M262.4 138L264.4 140.9L267.4 140.1L265.3 137.2" fill="#38bbe3"/>
<path d="M299.7 153.8L301.8 156.4L304.7 155.5L302.6 152.9" fill="#3b81ec"/>
<path d="M334.9 164.3L337.1 166.7L340 165.7L337.8 163.4" fill="#4c50f0"/>
<path d="M294.6 152.2L296.7 154.7L299.7 153.8L297.6 151.3" fill="#3986ec"/>
<path d="M289.6 150.4L291.7 153L294.6 152.2L292.6 149.6" fill="#378eeb"/>
<path d="M245.2 127.8L247.2 131L250.2 130.3L248.2 127.1" fill="#57dada"/>
<path d="M284.6 148.7L286.7 151.3L289.6 150.4L287.5 147.8" fill="#3595ea"/>
<path d="M223.9 107.1L225.9 111.4L228.9 110.8L226.9 106.5" fill="#8ffac1"/>
<path d="M257.3 135.8L259.4 138.7L262.4 138L260.3 135" fill="#3fc3e1"/>
<path d="M279.5 146.8L281.6 149.5L284.6 148.7L282.5 146" fill="#329fe8"/>
<path d="M233 118.6L235.1 122.3L238.1 121.6L236 118" fill="#73eecf"/>
<path d="M274.5 144.9L276.6 147.6L279.5 146.8L277.5 144.1" fill="#30a6e7"/>
<path d="M252.3 133.5L254.3 136.5L257.3 135.8L255.3 132.7" fill="#49cddf"/>
<path d="M240.1 125.1L242.2 128.5L245.2 127.8L243.1 124.4" fill="#60e1d7"/>
<path d="M225.9 111.4L228 115.4L231 114.8L228.9 110.8" fill="#85f7c7"/>
<path d="M269.5 142.9L271.5 145.7L274.5 144.9L272.4 142.2" fill="#2eaee6"/>
<path d="M264.4 140.9L266.5 143.7L269.5 142.9L267.4 140.1" fill="#32b5e4"/>
<path d="M247.2 131L249.3 134.2L252.3 133.5L250.2 130.3" fill="#50d4dc"/>
<path d="M311.9 159.5L314 161.9L316.9 161L314.8 158.6" fill="#426cee"/>
<path d="M316.9 161L319 163.4L322 162.5L319.8 160.1" fill="#4466ef"/>
<path d="M306.8 157.9L308.9 160.4L311.9 159.5L309.8 157" fill="#3f74ee"/>
<path d="M322 162.5L324.1 164.9L327 163.9L324.9 161.5" fill="#475eef"/>
<path d="M301.8 156.4L303.9 158.8L306.8 157.9L304.7 155.5" fill="#3d7ced"/>
<path d="M327 163.9L329.1 166.3L332 165.3L329.9 163" fill="#4959ef"/>
<path d="M235.1 122.3L237.1 125.7L240.1 125.1L238.1 121.6" fill="#6ae9d3"/>
<path d="M296.7 154.7L298.8 157.2L301.8 156.4L299.7 153.8" fill="#3b81ec"/>
<path d="M228 115.4L230 119.2L233 118.6L231 114.8" fill="#7df4cb"/>
<path d="M332 165.3L334.2 167.6L337.1 166.7L334.9 164.3" fill="#4b53f0"/>
<path d="M259.4 138.7L261.4 141.6L264.4 140.9L262.4 138" fill="#3abde3"/>
<path d="M337.1 166.7L339.2 169L342.1 168L340 165.7" fill="#4d4df0"/>
<path d="M291.7 153L293.8 155.6L296.7 154.7L294.6 152.2" fill="#3989eb"/>
<path d="M286.7 151.3L288.7 153.9L291.7 153L289.6 150.4" fill="#3690ea"/>
<path d="M242.2 128.5L244.2 131.7L247.2 131L245.2 127.8" fill="#59dcd9"/>
<path d="M281.6 149.5L283.7 152.1L286.7 151.3L284.6 148.7" fill="#3498e9"/>
<path d="M254.3 136.5L256.4 139.5L259.4 138.7L257.3 135.8" fill="#41c5e1"/>
<path d="M220.8 107.7L222.9 112L225.9 111.4L223.9 107.1" fill="#91fac0"/>
<path d="M276.6 147.6L278.6 150.3L281.6 149.5L279.5 146.8" fill="#32a1e8"/>
<path d="M271.5 145.7L273.6 148.5L276.6 147.6L274.5 144.9" fill="#30a8e7"/>
<path d="M230 119.2L232 122.9L235.1 122.3L233 118.6" fill="#74efcf"/>
<path d="M249.3 134.2L251.3 137.2L254.3 136.5L252.3 133.5" fill="#4bcede"/>
<path d="M237.1 125.7L239.2 129.1L242.2 128.5L240.1 125.1" fill="#64e4d6"/>
<path d="M222.9 112L224.9 116L228 115.4L225.9 111.4" fill="#88f8c5"/>
<path d="M266.5 143.7L268.5 146.5L271.5 145.7L269.5 142.9" fill="#2eb1e5"/>
<path d="M261.4 141.6L263.5 144.5L266.5 143.7L264.4 140.9" fill="#34b7e4"/>
<path d="M244.2 131.7L246.3 134.8L249.3 134.2L247.2 131" fill="#54d7db"/>
<path d="M314 161.9L316.1 164.3L319 163.4L316.9 161" fill="#4369ee"/>
<path d="M308.9 160.4L311 162.8L314 161.9L311.9 159.5" fill="#416fee"/>
<path d="M319 163.4L321.2 165.8L324.1 164.9L322 162.5" fill="#4661ef"/>
<path d="M303.9 158.8L306 161.3L308.9 160.4L306.8 157.9" fill="#3e77ed"/>
<path d="M324.1 164.9L326.2 167.2L329.1 166.3L327 163.9" fill="#485bef"/>
<path d="M298.8 157.2L300.9 159.7L303.9 158.8L301.8 156.4" fill="#3d7ced"/>
<path d="M329.1 166.3L331.3 168.6L334.2 167.6L332 165.3" fill="#4a56f0"/>
<path d="M293.8 155.6L295.9 158.1L298.8 157.2L296.7 154.7" fill="#3a84ec"/>
<path d="M334.2 167.6L336.3 170L339.2 169L337.1 166.7" fill="#4d4df0"/>
<path d="M232 122.9L234.1 126.4L237.1 125.7L235.1 122.3" fill="#6cead2"/>
<path d="M288.7 153.9L290.8 156.4L293.8 155.6L291.7 153" fill="#388beb"/>
<path d="M256.4 139.5L258.4 142.4L261.4 141.6L259.4 138.7" fill="#3cbfe2"/>
<path d="M224.9 116L227 119.8L230 119.2L228 115.4" fill="#7ef4ca"/>
<path d="M339.2 169L341.4 171.3L344.3 170.3L342.1 168" fill="#5048f0"/>
<path d="M283.7 152.1L285.8 154.7L288.7 153.9L286.7 151.3" fill="#3693ea"/>
<path d="M278.6 150.3L280.7 153L283.7 152.1L281.6 149.5" fill="#349ae9"/>
<path d="M239.2 129.1L241.2 132.4L244.2 131.7L242.2 128.5" fill="#5ddfd8"/>
<path d="M251.3 137.2L253.4 140.2L256.4 139.5L254.3 136.5" fill="#45c9e0"/>
<path d="M273.6 148.5L275.7 151.1L278.6 150.3L276.6 147.6" fill="#32a1e8"/>
<path d="M217.8 108.2L219.8 112.5L222.9 112L220.8 107.7" fill="#92fbbf"/>
<path d="M268.5 146.5L270.6 149.2L273.6 148.5L271.5 145.7" fill="#2faae6"/>
<path d="M227 119.8L229 123.5L232 122.9L230 119.2" fill="#76f0ce"/>
<path d="M246.3 134.8L248.3 137.9L251.3 137.2L249.3 134.2" fill="#4cd0dd"/>
<path d="M234.1 126.4L236.1 129.7L239.2 129.1L237.1 125.7" fill="#65e5d5"/>
<path d="M263.5 144.5L265.6 147.3L268.5 146.5L266.5 143.7" fill="#30b3e5"/>
<path d="M219.8 112.5L221.9 116.6L224.9 116L222.9 112" fill="#89f9c4"/>
<path d="M258.4 142.4L260.5 145.2L263.5 144.5L261.4 141.6" fill="#36b9e3"/>
<path d="M311 162.8L313.2 165.2L316.1 164.3L314 161.9" fill="#4369ee"/>
<path d="M306 161.3L308.1 163.7L311 162.8L308.9 160.4" fill="#4071ee"/>
<path d="M316.1 164.3L318.2 166.7L321.2 165.8L319 163.4" fill="#4564ef"/>
<path d="M300.9 159.7L303 162.2L306 161.3L303.9 158.8" fill="#3e77ed"/>
<path d="M321.2 165.8L323.3 168.2L326.2 167.2L324.1 164.9" fill="#475eef"/>
<path d="M295.9 158.1L298 160.6L300.9 159.7L298.8 157.2" fill="#3c7eed"/>
<path d="M241.2 132.4L243.3 135.5L246.3 134.8L244.2 131.7" fill="#56d8db"/>
<path d="M326.2 167.2L328.3 169.6L331.3 168.6L329.1 166.3" fill="#4a56f0"/>
<path d="M331.3 168.6L333.4 170.9L336.3 170L334.2 167.6" fill="#4c50f0"/>
<path d="M290.8 156.4L292.9 159L295.9 158.1L293.8 155.6" fill="#3986ec"/>
<path d="M336.3 170L338.5 172.3L341.4 171.3L339.2 169" fill="#4f4af0"/>
<path d="M285.8 154.7L287.9 157.3L290.8 156.4L288.7 153.9" fill="#378eeb"/>
<path d="M341.4 171.3L343.5 173.6L346.4 172.6L344.3 170.3" fill="#5145f0"/>
<path d="M253.4 140.2L255.4 143.1L258.4 142.4L256.4 139.5" fill="#3fc3e1"/>
<path d="M229 123.5L231.1 127L234.1 126.4L232 122.9" fill="#6eebd2"/>
<path d="M280.7 153L282.8 155.6L285.8 154.7L283.7 152.1" fill="#3595ea"/>
<path d="M221.9 116.6L223.9 120.4L227 119.8L224.9 116" fill="#81f6c8"/>
<path d="M275.7 151.1L277.8 153.8L280.7 153L278.6 150.3" fill="#339ce9"/>
<path d="M236.1 129.7L238.2 133L241.2 132.4L239.2 129.1" fill="#5ee0d8"/>
<path d="M248.3 137.9L250.4 140.9L253.4 140.2L251.3 137.2" fill="#47cbdf"/>
<path d="M270.6 149.2L272.7 151.9L275.7 151.1L273.6 148.5" fill="#31a3e8"/>
<path d="M214.7 108.8L216.8 113.1L219.8 112.5L217.8 108.2" fill="#95fbbd"/>
<path d="M265.6 147.3L267.6 150L270.6 149.2L268.5 146.5" fill="#2face6"/>
<path d="M223.9 120.4L226 124.1L229 123.5L227 119.8" fill="#79f2cc"/>
<path d="M243.3 135.5L245.3 138.6L248.3 137.9L246.3 134.8" fill="#4ed2dd"/>
<path d="M260.5 145.2L262.6 148L265.6 147.3L263.5 144.5" fill="#32b5e4"/>
<path d="M231.1 127L233.1 130.4L236.1 129.7L234.1 126.4" fill="#67e7d4"/>
<path d="M216.8 113.1L218.9 117.1L221.9 116.6L219.8 112.5" fill="#8cf9c2"/>
<path d="M308.1 163.7L310.2 166.2L313.2 165.2L311 162.8" fill="#426cee"/>
<path d="M313.2 165.2L315.3 167.6L318.2 166.7L316.1 164.3" fill="#4466ef"/>
<path d="M303 162.2L305.2 164.6L308.1 163.7L306 161.3" fill="#3f74ee"/>
<path d="M318.2 166.7L320.4 169.1L323.3 168.2L321.2 165.8" fill="#475eef"/>
<path d="M298 160.6L300.1 163.1L303 162.2L300.9 159.7" fill="#3e79ed"/>
<path d="M323.3 168.2L325.4 170.5L328.3 169.6L326.2 167.2" fill="#4959ef"/>
<path d="M255.4 143.1L257.5 145.9L260.5 145.2L258.4 142.4" fill="#3abde3"/>
<path d="M292.9 159L295 161.5L298 160.6L295.9 158.1" fill="#3b81ec"/>
<path d="M328.3 169.6L330.5 171.9L333.4 170.9L331.3 168.6" fill="#4b53f0"/>
<path d="M287.9 157.3L290 159.8L292.9 159L290.8 156.4" fill="#3989eb"/>
<path d="M238.2 133L240.2 136.2L243.3 135.5L241.2 132.4" fill="#57dada"/>
<path d="M333.4 170.9L335.6 173.2L338.5 172.3L336.3 170" fill="#4d4df0"/>
<path d="M282.8 155.6L284.9 158.1L287.9 157.3L285.8 154.7" fill="#3690ea"/>
<path d="M338.5 172.3L340.6 174.6L343.5 173.6L341.4 171.3" fill="#5048f0"/>
<path d="M343.5 173.6L345.7 175.9L348.6 174.9L346.4 172.6" fill="#5242f1"/>
<path d="M277.8 153.8L279.8 156.4L282.8 155.6L280.7 153" fill="#3498e9"/>
<path d="M250.4 140.9L252.4 143.8L255.4 143.1L253.4 140.2" fill="#41c5e1"/>
<path d="M226 124.1L228 127.6L231.1 127L229 123.5" fill="#71edd0"/>
<path d="M218.9 117.1L220.9 121L223.9 120.4L221.9 116.6" fill="#83f6c8"/>
<path d="M272.7 151.9L274.8 154.6L277.8 153.8L275.7 151.1" fill="#329fe8"/>
<path d="M233.1 130.4L235.2 133.6L238.2 133L236.1 129.7" fill="#60e1d7"/>
<path d="M267.6 150L269.7 152.7L272.7 151.9L270.6 149.2" fill="#30a6e7"/>
<path d="M245.3 138.6L247.4 141.6L250.4 140.9L248.3 137.9" fill="#49cddf"/>
<path d="M262.6 148L264.6 150.8L267.6 150L265.6 147.3" fill="#2eaee6"/>
<path d="M211.7 109.3L213.8 113.6L216.8 113.1L214.7 108.8" fill="#97fbbc"/>
<path d="M240.2 136.2L242.3 139.2L245.3 138.6L243.3 135.5" fill="#52d5dc"/>
<path d="M220.9 121L222.9 124.6L226 124.1L223.9 120.4" fill="#7bf3cc"/>
<path d="M257.5 145.9L259.6 148.7L262.6 148L260.5 145.2" fill="#34b7e4"/>
<path d="M228 127.6L230.1 131L233.1 130.4L231.1 127" fill="#6ae9d3"/>
<path d="M305.2 164.6L307.3 167.1L310.2 166.2L308.1 163.7" fill="#416fee"/>
<path d="M310.2 166.2L312.4 168.5L315.3 167.6L313.2 165.2" fill="#4466ef"/>
<path d="M300.1 163.1L302.2 165.5L305.2 164.6L303 162.2" fill="#3f74ee"/>
<path d="M315.3 167.6L317.4 170L320.4 169.1L318.2 166.7" fill="#4661ef"/>
<path d="M320.4 169.1L322.5 171.4L325.4 170.5L323.3 168.2" fill="#485bef"/>
<path d="M295 161.5L297.1 163.9L300.1 163.1L298 160.6" fill="#3d7ced"/>
<path d="M213.8 113.6L215.8 117.6L218.9 117.1L216.8 113.1" fill="#8efac2"/>
<path d="M325.4 170.5L327.6 172.8L330.5 171.9L328.3 169.6" fill="#4b53f0"/>
<path d="M290 159.8L292.1 162.3L295 161.5L292.9 159" fill="#3a84ec"/>
<path d="M252.4 143.8L254.5 146.7L257.5 145.9L255.4 143.1" fill="#3cbfe2"/>
<path d="M330.5 171.9L332.6 174.2L335.6 173.2L333.4 170.9" fill="#4d4df0"/>
<path d="M284.9 158.1L287 160.7L290 159.8L287.9 157.3" fill="#388beb"/>
<path d="M335.6 173.2L337.7 175.5L340.6 174.6L338.5 172.3" fill="#5048f0"/>
<path d="M279.8 156.4L281.9 158.9L284.9 158.1L282.8 155.6" fill="#3693ea"/>
<path d="M235.2 133.6L237.2 136.8L240.2 136.2L238.2 133" fill="#59dcd9"/>
<path d="M340.6 174.6L342.8 176.9L345.7 175.9L343.5 173.6" fill="#5242f1"/>
<path d="M274.8 154.6L276.9 157.2L279.8 156.4L277.8 153.8" fill="#349ae9"/>
<path d="M345.7 175.9L347.9 178.1L350.8 177.2L348.6 174.9" fill="#543cf1"/>
<path d="M247.4 141.6L249.4 144.5L252.4 143.8L250.4 140.9" fill="#43c7e0"/>
<path d="M269.7 152.7L271.8 155.3L274.8 154.6L272.7 151.9" fill="#32a1e8"/>
<path d="M222.9 124.6L225 128.1L228 127.6L226 124.1" fill="#73eecf"/>
<path d="M215.8 117.6L217.9 121.5L220.9 121L218.9 117.1" fill="#86f8c6"/>
<path d="M264.6 150.8L266.7 153.4L269.7 152.7L267.6 150" fill="#2faae6"/>
<path d="M230.1 131L232.1 134.2L235.2 133.6L233.1 130.4" fill="#64e4d6"/>
<path d="M242.3 139.2L244.4 142.2L247.4 141.6L245.3 138.6" fill="#4bcede"/>
<path d="M259.6 148.7L261.6 151.5L264.6 150.8L262.6 148" fill="#2eb1e5"/>
<path d="M208.6 109.8L210.7 114.1L213.8 113.6L211.7 109.3" fill="#9afcba"/>
<path d="M254.5 146.7L256.6 149.4L259.6 148.7L257.5 145.9" fill="#36b9e3"/>
<path d="M237.2 136.8L239.3 139.9L242.3 139.2L240.2 136.2" fill="#54d7db"/>
<path d="M217.9 121.5L219.9 125.2L222.9 124.6L220.9 121" fill="#7ef4ca"/>
<path d="M307.3 167.1L309.4 169.4L312.4 168.5L310.2 166.2" fill="#4369ee"/>
<path d="M302.2 165.5L304.3 167.9L307.3 167.1L305.2 164.6" fill="#4071ee"/>
<path d="M312.4 168.5L314.5 170.9L317.4 170L315.3 167.6" fill="#4564ef"/>
<path d="M297.1 163.9L299.3 166.4L302.2 165.5L300.1 163.1" fill="#3e77ed"/>
<path d="M317.4 170L319.6 172.4L322.5 171.4L320.4 169.1" fill="#485bef"/>
<path d="M292.1 162.3L294.2 164.8L297.1 163.9L295 161.5" fill="#3c7eed"/>
<path d="M225 128.1L227 131.5L230.1 131L228 127.6" fill="#6cead2"/>
<path d="M322.5 171.4L324.6 173.8L327.6 172.8L325.4 170.5" fill="#4a56f0"/>
<path d="M287 160.7L289.1 163.2L292.1 162.3L290 159.8" fill="#3986ec"/>
<path d="M327.6 172.8L329.7 175.2L332.6 174.2L330.5 171.9" fill="#4c50f0"/>
<path d="M332.6 174.2L334.8 176.5L337.7 175.5L335.6 173.2" fill="#4f4af0"/>
<path d="M281.9 158.9L284 161.5L287 160.7L284.9 158.1" fill="#378eeb"/>
<path d="M249.4 144.5L251.5 147.3L254.5 146.7L252.4 143.8" fill="#3dc1e2"/>
<path d="M210.7 114.1L212.7 118.1L215.8 117.6L213.8 113.6" fill="#91fac0"/>
<path d="M337.7 175.5L339.9 177.8L342.8 176.9L340.6 174.6" fill="#5145f0"/>
<path d="M276.9 157.2L279 159.7L281.9 158.9L279.8 156.4" fill="#3595ea"/>
<path d="M342.8 176.9L345 179.1L347.9 178.1L345.7 175.9" fill="#533ff1"/>
<path d="M232.1 134.2L234.2 137.4L237.2 136.8L235.2 133.6" fill="#5ddfd8"/>
<path d="M271.8 155.3L273.9 157.9L276.9 157.2L274.8 154.6" fill="#339ce9"/>
<path d="M347.9 178.1L350 180.4L353 179.4L350.8 177.2" fill="#5639f1"/>
<path d="M244.4 142.2L246.4 145.1L249.4 144.5L247.4 141.6" fill="#45c9e0"/>
<path d="M266.7 153.4L268.8 156.1L271.8 155.3L269.7 152.7" fill="#31a3e8"/>
<path d="M219.9 125.2L222 128.7L225 128.1L222.9 124.6" fill="#76f0ce"/>
<path d="M212.7 118.1L214.8 122L217.9 121.5L215.8 117.6" fill="#88f8c5"/>
<path d="M261.6 151.5L263.7 154.2L266.7 153.4L264.6 150.8" fill="#2face6"/>
<path d="M227 131.5L229.1 134.8L232.1 134.2L230.1 131" fill="#65e5d5"/>
<path d="M239.3 139.9L241.3 142.8L244.4 142.2L242.3 139.2" fill="#4ed2dd"/>
<path d="M256.6 149.4L258.6 152.2L261.6 151.5L259.6 148.7" fill="#30b3e5"/>
<path d="M205.6 110.3L207.6 114.6L210.7 114.1L208.6 109.8" fill="#9dfcb8"/>
<path d="M304.3 167.9L306.5 170.3L309.4 169.4L307.3 167.1" fill="#426cee"/>
<path d="M309.4 169.4L311.5 171.8L314.5 170.9L312.4 168.5" fill="#4564ef"/>
<path d="M299.3 166.4L301.4 168.8L304.3 167.9L302.2 165.5" fill="#4071ee"/>
<path d="M251.5 147.3L253.6 150.1L256.6 149.4L254.5 146.7" fill="#38bbe3"/>
<path d="M314.5 170.9L316.6 173.3L319.6 172.4L317.4 170" fill="#475eef"/>
<path d="M294.2 164.8L296.3 167.2L299.3 166.4L297.1 163.9" fill="#3e79ed"/>
<path d="M234.2 137.4L236.2 140.5L239.3 139.9L237.2 136.8" fill="#56d8db"/>
<path d="M319.6 172.4L321.7 174.7L324.6 173.8L322.5 171.4" fill="#4959ef"/>
<path d="M289.1 163.2L291.2 165.6L294.2 164.8L292.1 162.3" fill="#3b81ec"/>
<path d="M324.6 173.8L326.8 176.1L329.7 175.2L327.6 172.8" fill="#4b53f0"/>
<path d="M214.8 122L216.8 125.7L219.9 125.2L217.9 121.5" fill="#80f5c9"/>
<path d="M284 161.5L286.1 164L289.1 163.2L287 160.7" fill="#3989eb"/>
<path d="M329.7 175.2L331.9 177.5L334.8 176.5L332.6 174.2" fill="#4d4df0"/>
<path d="M222 128.7L224 132.1L227 131.5L225 128.1" fill="#70ecd1"/>
<path d="M279 159.7L281 162.3L284 161.5L281.9 158.9" fill="#3690ea"/>
<path d="M334.8 176.5L337 178.8L339.9 177.8L337.7 175.5" fill="#5145f0"/>
<path d="M246.4 145.1L248.5 148L251.5 147.3L249.4 144.5" fill="#3fc3e1"/>
<path d="M339.9 177.8L342 180.1L345 179.1L342.8 176.9" fill="#533ff1"/>
<path d="M273.9 157.9L276 160.5L279 159.7L276.9 157.2" fill="#3498e9"/>
<path d="M207.6 114.6L209.7 118.7L212.7 118.1L210.7 114.1" fill="#92fbbf"/>
<path d="M345 179.1L347.1 181.4L350 180.4L347.9 178.1" fill="#543cf1"/>
<path d="M268.8 156.1L270.9 158.7L273.9 157.9L271.8 155.3" fill="#329fe8"/>
<path d="M229.1 134.8L231.2 138L234.2 137.4L232.1 134.2" fill="#5ee0d8"/>
<path d="M350 180.4L352.2 182.6L355.1 181.7L353 179.4" fill="#5737f1"/>
<path d="M241.3 142.8L243.4 145.8L246.4 145.1L244.4 142.2" fill="#49cddf"/>
<path d="M263.7 154.2L265.8 156.8L268.8 156.1L266.7 153.4" fill="#30a6e7"/>
<path d="M216.8 125.7L218.9 129.2L222 128.7L219.9 125.2" fill="#79f2cc"/>
<path d="M258.6 152.2L260.7 154.9L263.7 154.2L261.6 151.5" fill="#2eaee6"/>
<path d="M209.7 118.7L211.7 122.5L214.8 122L212.7 118.1" fill="#8bf9c3"/>
<path d="M236.2 140.5L238.3 143.5L241.3 142.8L239.3 139.9" fill="#50d4dc"/>
<path d="M224 132.1L226.1 135.3L229.1 134.8L227 131.5" fill="#69e8d4"/>
<path d="M253.6 150.1L255.6 152.9L258.6 152.2L256.6 149.4" fill="#34b7e4"/>
<path d="M301.4 168.8L303.5 171.2L306.5 170.3L304.3 167.9" fill="#416fee"/>
<path d="M306.5 170.3L308.6 172.7L311.5 171.8L309.4 169.4" fill="#4466ef"/>
<path d="M296.3 167.2L298.4 169.7L301.4 168.8L299.3 166.4" fill="#3f74ee"/>
<path d="M311.5 171.8L313.7 174.2L316.6 173.3L314.5 170.9" fill="#4661ef"/>
<path d="M316.6 173.3L318.8 175.6L321.7 174.7L319.6 172.4" fill="#485bef"/>
<path d="M291.2 165.6L293.3 168.1L296.3 167.2L294.2 164.8" fill="#3d7ced"/>
<path d="M202.5 110.9L204.6 115.2L207.6 114.6L205.6 110.3" fill="#9efcb7"/>
<path d="M321.7 174.7L323.8 177L326.8 176.1L324.6 173.8" fill="#4b53f0"/>
<path d="M286.1 164L288.2 166.5L291.2 165.6L289.1 163.2" fill="#3a84ec"/>
<path d="M248.5 148L250.5 150.8L253.6 150.1L251.5 147.3" fill="#3cbfe2"/>
<path d="M326.8 176.1L328.9 178.4L331.9 177.5L329.7 175.2" fill="#4d4df0"/>
<path d="M231.2 138L233.2 141L236.2 140.5L234.2 137.4" fill="#59dcd9"/>
<path d="M281 162.3L283.1 164.8L286.1 164L284 161.5" fill="#388beb"/>
<path d="M331.9 177.5L334 179.8L337 178.8L334.8 176.5" fill="#5048f0"/>
<path d="M211.7 122.5L213.8 126.2L216.8 125.7L214.8 122" fill="#83f6c8"/>
<path d="M276 160.5L278.1 163.1L281 162.3L279 159.7" fill="#3693ea"/>
<path d="M337 178.8L339.1 181.1L342 180.1L339.9 177.8" fill="#5242f1"/>
<path d="M218.9 129.2L220.9 132.6L224 132.1L222 128.7" fill="#71edd0"/>
<path d="M270.9 158.7L273 161.3L276 160.5L273.9 157.9" fill="#349ae9"/>
<path d="M342 180.1L344.2 182.4L347.1 181.4L345 179.1" fill="#543cf1"/>
<path d="M243.4 145.8L245.5 148.6L248.5 148L246.4 145.1" fill="#43c7e0"/>
<path d="M204.6 115.2L206.6 119.3L209.7 118.7L207.6 114.6" fill="#95fbbd"/>
<path d="M347.1 181.4L349.3 183.6L352.2 182.6L350 180.4" fill="#5737f1"/>
<path d="M265.8 156.8L267.9 159.4L270.9 158.7L268.8 156.1" fill="#32a1e8"/>
<path d="M352.2 182.6L354.4 184.9L357.3 183.9L355.1 181.7" fill="#5931f1"/>
<path d="M226.1 135.3L228.1 138.5L231.2 138L229.1 134.8" fill="#62e3d6"/>
<path d="M260.7 154.9L262.8 157.5L265.8 156.8L263.7 154.2" fill="#2faae6"/>
<path d="M238.3 143.5L240.4 146.4L243.4 145.8L241.3 142.8" fill="#4bcede"/>
<path d="M255.6 152.9L257.7 155.6L260.7 154.9L258.6 152.2" fill="#2eb1e5"/>
<path d="M213.8 126.2L215.8 129.7L218.9 129.2L216.8 125.7" fill="#7bf3cc"/>
<path d="M206.6 119.3L208.7 123.1L211.7 122.5L209.7 118.7" fill="#8cf9c2"/>
<path d="M233.2 141L235.3 144L238.3 143.5L236.2 140.5" fill="#54d7db"/>
<path d="M220.9 132.6L223 135.8L226.1 135.3L224 132.1" fill="#6ae9d3"/>
<path d="M250.5 150.8L252.6 153.5L255.6 152.9L253.6 150.1" fill="#36b9e3"/>
<path d="M303.5 171.2L305.6 173.6L308.6 172.7L306.5 170.3" fill="#4369ee"/>
<path d="M298.4 169.7L300.5 172.1L303.5 171.2L301.4 168.8" fill="#4071ee"/>
<path d="M308.6 172.7L310.7 175.1L313.7 174.2L311.5 171.8" fill="#4564ef"/>
<path d="M293.3 168.1L295.4 170.5L298.4 169.7L296.3 167.2" fill="#3e77ed"/>
<path d="M313.7 174.2L315.8 176.5L318.8 175.6L316.6 173.3" fill="#485bef"/>
<path d="M288.2 166.5L290.3 168.9L293.3 168.1L291.2 165.6" fill="#3c7eed"/>
<path d="M318.8 175.6L320.9 178L323.8 177L321.7 174.7" fill="#4a56f0"/>
<path d="M323.8 177L326 179.3L328.9 178.4L326.8 176.1" fill="#4c50f0"/>
<path d="M283.1 164.8L285.3 167.3L288.2 166.5L286.1 164" fill="#3986ec"/>
<path d="M199.4 111.4L201.5 115.7L204.6 115.2L202.5 110.9" fill="#a0fbb6"/>
<path d="M328.9 178.4L331.1 180.7L334 179.8L331.9 177.5" fill="#4f4af0"/>
<path d="M245.5 148.6L247.5 151.4L250.5 150.8L248.5 148" fill="#3dc1e2"/>
<path d="M278.1 163.1L280.2 165.6L283.1 164.8L281 162.3" fill="#378eeb"/>
<path d="M334 179.8L336.2 182L339.1 181.1L337 178.8" fill="#5145f0"/>
<path d="M228.1 138.5L230.2 141.6L233.2 141L231.2 138" fill="#5bddd9"/>
<path d="M273 161.3L275.1 163.8L278.1 163.1L276 160.5" fill="#3595ea"/>
<path d="M339.1 181.1L341.3 183.3L344.2 182.4L342 180.1" fill="#533ff1"/>
<path d="M208.7 123.1L210.7 126.8L213.8 126.2L211.7 122.5" fill="#85f7c7"/>
<path d="M267.9 159.4L270 162L273 161.3L270.9 158.7" fill="#339ce9"/>
<path d="M344.2 182.4L346.4 184.6L349.3 183.6L347.1 181.4" fill="#5639f1"/>
<path d="M215.8 129.7L217.9 133.1L220.9 132.6L218.9 129.2" fill="#74efcf"/>
<path d="M240.4 146.4L242.4 149.2L245.5 148.6L243.4 145.8" fill="#45c9e0"/>
<path d="M349.3 183.6L351.5 185.9L354.4 184.9L352.2 182.6" fill="#5834f1"/>
<path d="M201.5 115.7L203.5 119.8L206.6 119.3L204.6 115.2" fill="#97fbbc"/>
<path d="M262.8 157.5L264.9 160.2L267.9 159.4L265.8 156.8" fill="#31a3e8"/>
<path d="M354.4 184.9L356.6 187.1L359.5 186.1L357.3 183.9" fill="#5b2ef1"/>
<path d="M223 135.8L225 139L228.1 138.5L226.1 135.3" fill="#64e4d6"/>
<path d="M257.7 155.6L259.8 158.2L262.8 157.5L260.7 154.9" fill="#2face6"/>
<path d="M235.3 144L237.3 147L240.4 146.4L238.3 143.5" fill="#4cd0dd"/>
<path d="M252.6 153.5L254.7 156.3L257.7 155.6L255.6 152.9" fill="#30b3e5"/>
<path d="M210.7 126.8L212.8 130.3L215.8 129.7L213.8 126.2" fill="#7ef4ca"/>
<path d="M203.5 119.8L205.6 123.7L208.7 123.1L206.6 119.3" fill="#8ffac1"/>
<path d="M300.5 172.1L302.7 174.5L305.6 173.6L303.5 171.2" fill="#426cee"/>
<path d="M230.2 141.6L232.2 144.6L235.3 144L233.2 141" fill="#56d8db"/>
<path d="M305.6 173.6L307.7 176L310.7 175.1L308.6 172.7" fill="#4564ef"/>
<path d="M295.4 170.5L297.6 172.9L300.5 172.1L298.4 169.7" fill="#4071ee"/>
<path d="M247.5 151.4L249.6 154.2L252.6 153.5L250.5 150.8" fill="#38bbe3"/>
<path d="M310.7 175.1L312.8 177.4L315.8 176.5L313.7 174.2" fill="#475eef"/>
<path d="M290.3 168.9L292.5 171.4L295.4 170.5L293.3 168.1" fill="#3e79ed"/>
<path d="M217.9 133.1L219.9 136.4L223 135.8L220.9 132.6" fill="#6eebd2"/>
<path d="M315.8 176.5L317.9 178.9L320.9 178L318.8 175.6" fill="#4959ef"/>
<path d="M285.3 167.3L287.4 169.7L290.3 168.9L288.2 166.5" fill="#3b81ec"/>
<path d="M320.9 178L323 180.3L326 179.3L323.8 177" fill="#4b53f0"/>
<path d="M280.2 165.6L282.3 168.1L285.3 167.3L283.1 164.8" fill="#3989eb"/>
<path d="M326 179.3L328.1 181.6L331.1 180.7L328.9 178.4" fill="#4d4df0"/>
<path d="M331.1 180.7L333.3 183L336.2 182L334 179.8" fill="#5145f0"/>
<path d="M275.1 163.8L277.2 166.4L280.2 165.6L278.1 163.1" fill="#3690ea"/>
<path d="M196.3 111.9L198.4 116.3L201.5 115.7L199.4 111.4" fill="#a3fbb4"/>
<path d="M242.4 149.2L244.5 152.1L247.5 151.4L245.5 148.6" fill="#3fc3e1"/>
<path d="M336.2 182L338.4 184.3L341.3 183.3L339.1 181.1" fill="#533ff1"/>
<path d="M270 162L272.1 164.6L275.1 163.8L273 161.3" fill="#3498e9"/>
<path d="M341.3 183.3L343.5 185.6L346.4 184.6L344.2 182.4" fill="#543cf1"/>
<path d="M225 139L227.1 142.1L230.2 141.6L228.1 138.5" fill="#5ee0d8"/>
<path d="M205.6 123.7L207.6 127.4L210.7 126.8L208.7 123.1" fill="#88f8c5"/>
<path d="M264.9 160.2L267 162.8L270 162L267.9 159.4" fill="#329fe8"/>
<path d="M346.4 184.6L348.6 186.9L351.5 185.9L349.3 183.6" fill="#5737f1"/>
<path d="M212.8 130.3L214.8 133.7L217.9 133.1L215.8 129.7" fill="#76f0ce"/>
<path d="M237.3 147L239.4 149.8L242.4 149.2L240.4 146.4" fill="#49cddf"/>
<path d="M351.5 185.9L353.7 188.1L356.6 187.1L354.4 184.9" fill="#5931f1"/>
<path d="M259.8 158.2L261.9 160.9L264.9 160.2L262.8 157.5" fill="#30a6e7"/>
<path d="M198.4 116.3L200.4 120.4L203.5 119.8L201.5 115.7" fill="#9afcba"/>
<path d="M356.6 187.1L358.8 189.3L361.7 188.3L359.5 186.1" fill="#5c2bf1"/>
<path d="M254.7 156.3L256.8 158.9L259.8 158.2L257.7 155.6" fill="#2eaee6"/>
<path d="M219.9 136.4L222 139.6L225 139L223 135.8" fill="#67e7d4"/>
<path d="M232.2 144.6L234.3 147.5L237.3 147L235.3 144" fill="#50d4dc"/>
<path d="M249.6 154.2L251.7 156.9L254.7 156.3L252.6 153.5" fill="#34b7e4"/>
<path d="M207.6 127.4L209.7 130.9L212.8 130.3L210.7 126.8" fill="#80f5c9"/>
<path d="M200.4 120.4L202.5 124.2L205.6 123.7L203.5 119.8" fill="#91fac0"/>
<path d="M302.7 174.5L304.8 176.9L307.7 176L305.6 173.6" fill="#4466ef"/>
<path d="M297.6 172.9L299.7 175.3L302.7 174.5L300.5 172.1" fill="#416fee"/>
<path d="M307.7 176L309.9 178.3L312.8 177.4L310.7 175.1" fill="#4661ef"/>
<path d="M292.5 171.4L294.6 173.8L297.6 172.9L295.4 170.5" fill="#3f74ee"/>
<path d="M312.8 177.4L315 179.8L317.9 178.9L315.8 176.5" fill="#485bef"/>
<path d="M287.4 169.7L289.5 172.2L292.5 171.4L290.3 168.9" fill="#3d7ced"/>
<path d="M317.9 178.9L320.1 181.2L323 180.3L320.9 178" fill="#4b53f0"/>
<path d="M244.5 152.1L246.6 154.8L249.6 154.2L247.5 151.4" fill="#3cbfe2"/>
<path d="M282.3 168.1L284.4 170.5L287.4 169.7L285.3 167.3" fill="#3a84ec"/>
<path d="M227.1 142.1L229.2 145.1L232.2 144.6L230.2 141.6" fill="#59dcd9"/>
<path d="M323 180.3L325.2 182.6L328.1 181.6L326 179.3" fill="#4d4df0"/>
<path d="M214.8 133.7L216.9 137L219.9 136.4L217.9 133.1" fill="#70ecd1"/>
<path d="M277.2 166.4L279.3 168.8L282.3 168.1L280.2 165.6" fill="#388beb"/>
<path d="M328.1 181.6L330.3 183.9L333.3 183L331.1 180.7" fill="#5048f0"/>
<path d="M333.3 183L335.4 185.3L338.4 184.3L336.2 182" fill="#5242f1"/>
<path d="M272.1 164.6L274.2 167.1L277.2 166.4L275.1 163.8" fill="#3693ea"/>
<path d="M338.4 184.3L340.5 186.6L343.5 185.6L341.3 183.3" fill="#543cf1"/>
<path d="M239.4 149.8L241.4 152.7L244.5 152.1L242.4 149.2" fill="#43c7e0"/>
<path d="M193.2 112.4L195.3 116.7L198.4 116.3L196.3 111.9" fill="#a6fbb2"/>
<path d="M267 162.8L269.1 165.3L272.1 164.6L270 162" fill="#349ae9"/>
<path d="M343.5 185.6L345.6 187.8L348.6 186.9L346.4 184.6" fill="#5737f1"/>
<path d="M222 139.6L224 142.7L227.1 142.1L225 139" fill="#62e3d6"/>
<path d="M261.9 160.9L264 163.5L267 162.8L264.9 160.2" fill="#32a1e8"/>
<path d="M348.6 186.9L350.8 189.1L353.7 188.1L351.5 185.9" fill="#5931f1"/>
<path d="M202.5 124.2L204.6 127.9L207.6 127.4L205.6 123.7" fill="#89f9c4"/>
<path d="M209.7 130.9L211.7 134.3L214.8 133.7L212.8 130.3" fill="#79f2cc"/>
<path d="M353.7 188.1L355.9 190.3L358.8 189.3L356.6 187.1" fill="#5b2ef1"/>
<path d="M234.3 147.5L236.3 150.4L239.4 149.8L237.3 147" fill="#4bcede"/>
<path d="M256.8 158.9L258.8 161.6L261.9 160.9L259.8 158.2" fill="#2faae6"/>
<path d="M195.3 116.7L197.4 120.8L200.4 120.4L198.4 116.3" fill="#9bfcb9"/>
<path d="M358.8 189.3L361 191.6L363.9 190.5L361.7 188.3" fill="#5d28f1"/>
<path d="M251.7 156.9L253.7 159.6L256.8 158.9L254.7 156.3" fill="#2eb1e5"/>
<path d="M216.9 137L218.9 140.2L222 139.6L219.9 136.4" fill="#69e8d4"/>
<path d="M229.2 145.1L231.2 148.1L234.3 147.5L232.2 144.6" fill="#54d7db"/>
<path d="M246.6 154.8L248.6 157.5L251.7 156.9L249.6 154.2" fill="#36b9e3"/>
<path d="M299.7 175.3L301.8 177.7L304.8 176.9L302.7 174.5" fill="#4369ee"/>
<path d="M304.8 176.9L306.9 179.2L309.9 178.3L307.7 176" fill="#4564ef"/>
<path d="M294.6 173.8L296.7 176.2L299.7 175.3L297.6 172.9" fill="#4071ee"/>
<path d="M309.9 178.3L312 180.7L315 179.8L312.8 177.4" fill="#485bef"/>
<path d="M289.5 172.2L291.6 174.6L294.6 173.8L292.5 171.4" fill="#3e77ed"/>
<path d="M204.6 127.9L206.6 131.5L209.7 130.9L207.6 127.4" fill="#83f6c8"/>
<path d="M315 179.8L317.1 182.1L320.1 181.2L317.9 178.9" fill="#4a56f0"/>
<path d="M284.4 170.5L286.5 173L289.5 172.2L287.4 169.7" fill="#3c7eed"/>
<path d="M320.1 181.2L322.2 183.5L325.2 182.6L323 180.3" fill="#4c50f0"/>
<path d="M197.4 120.8L199.4 124.7L202.5 124.2L200.4 120.4" fill="#94fbbe"/>
<path d="M279.3 168.8L281.4 171.3L284.4 170.5L282.3 168.1" fill="#3986ec"/>
<path d="M325.2 182.6L327.4 184.9L330.3 183.9L328.1 181.6" fill="#4f4af0"/>
<path d="M241.4 152.7L243.5 155.4L246.6 154.8L244.5 152.1" fill="#3dc1e2"/>
<path d="M274.2 167.1L276.3 169.6L279.3 168.8L277.2 166.4" fill="#378eeb"/>
<path d="M224 142.7L226.1 145.7L229.2 145.1L227.1 142.1" fill="#5bddd9"/>
<path d="M211.7 134.3L213.8 137.6L216.9 137L214.8 133.7" fill="#73eecf"/>
<path d="M330.3 183.9L332.5 186.2L335.4 185.3L333.3 183" fill="#5145f0"/>
<path d="M269.1 165.3L271.2 167.8L274.2 167.1L272.1 164.6" fill="#3595ea"/>
<path d="M335.4 185.3L337.6 187.5L340.5 186.6L338.4 184.3" fill="#533ff1"/>
<path d="M340.5 186.6L342.7 188.8L345.6 187.8L343.5 185.6" fill="#5639f1"/>
<path d="M264 163.5L266 166L269.1 165.3L267 162.8" fill="#339ce9"/>
<path d="M236.3 150.4L238.4 153.2L241.4 152.7L239.4 149.8" fill="#45c9e0"/>
<path d="M345.6 187.8L347.8 190.1L350.8 189.1L348.6 186.9" fill="#5834f1"/>
<path d="M190.1 112.8L192.2 117.1L195.3 116.7L193.2 112.4" fill="#a7fbb1"/>
<path d="M258.8 161.6L260.9 164.1L264 163.5L261.9 160.9" fill="#30a6e7"/>
<path d="M218.9 140.2L221 143.3L224 142.7L222 139.6" fill="#64e4d6"/>
<path d="M350.8 189.1L352.9 191.3L355.9 190.3L353.7 188.1" fill="#5b2ef1"/>
<path d="M199.4 124.7L201.5 128.4L204.6 127.9L202.5 124.2" fill="#8cf9c2"/>
<path d="M206.6 131.5L208.7 134.9L211.7 134.3L209.7 130.9" fill="#7bf3cc"/>
<path d="M355.9 190.3L358.1 192.6L361 191.6L358.8 189.3" fill="#5c2bf1"/>
<path d="M253.7 159.6L255.8 162.2L258.8 161.6L256.8 158.9" fill="#2face6"/>
<path d="M231.2 148.1L233.3 150.9L236.3 150.4L234.3 147.5" fill="#4ed2dd"/>
<path d="M361 191.6L363.2 193.8L366.1 192.7L363.9 190.5" fill="#5f25f1"/>
<path d="M192.2 117.1L194.2 121.2L197.4 120.8L195.3 116.7" fill="#9efcb7"/>
<path d="M248.6 157.5L250.7 160.2L253.7 159.6L251.7 156.9" fill="#32b5e4"/>
<path d="M213.8 137.6L215.8 140.8L218.9 140.2L216.9 137" fill="#6cead2"/>
<path d="M226.1 145.7L228.2 148.7L231.2 148.1L229.2 145.1" fill="#56d8db"/>
<path d="M296.7 176.2L298.8 178.6L301.8 177.7L299.7 175.3" fill="#426cee"/>
<path d="M301.8 177.7L303.9 180.1L306.9 179.2L304.8 176.9" fill="#4466ef"/>
<path d="M291.6 174.6L293.7 177L296.7 176.2L294.6 173.8" fill="#3f74ee"/>
<path d="M306.9 179.2L309.1 181.6L312 180.7L309.9 178.3" fill="#475eef"/>
<path d="M243.5 155.4L245.6 158.1L248.6 157.5L246.6 154.8" fill="#3abde3"/>
<path d="M312 180.7L314.2 183L317.1 182.1L315 179.8" fill="#4959ef"/>
<path d="M286.5 173L288.6 175.4L291.6 174.6L289.5 172.2" fill="#3e79ed"/>
<path d="M317.1 182.1L319.3 184.4L322.2 183.5L320.1 181.2" fill="#4b53f0"/>
<path d="M281.4 171.3L283.5 173.8L286.5 173L284.4 170.5" fill="#3b81ec"/>
<path d="M322.2 183.5L324.4 185.8L327.4 184.9L325.2 182.6" fill="#4d4df0"/>
<path d="M201.5 128.4L203.5 132L206.6 131.5L204.6 127.9" fill="#85f7c7"/>
<path d="M276.3 169.6L278.4 172.1L281.4 171.3L279.3 168.8" fill="#3989eb"/>
<path d="M327.4 184.9L329.5 187.2L332.5 186.2L330.3 183.9" fill="#5048f0"/>
<path d="M194.2 121.2L196.3 125.1L199.4 124.7L197.4 120.8" fill="#97fbbc"/>
<path d="M271.2 167.8L273.3 170.3L276.3 169.6L274.2 167.1" fill="#3690ea"/>
<path d="M332.5 186.2L334.6 188.5L337.6 187.5L335.4 185.3" fill="#5242f1"/>
<path d="M238.4 153.2L240.5 156L243.5 155.4L241.4 152.7" fill="#41c5e1"/>
<path d="M221 143.3L223 146.3L226.1 145.7L224 142.7" fill="#5ee0d8"/>
<path d="M208.7 134.9L210.7 138.2L213.8 137.6L211.7 134.3" fill="#74efcf"/>
<path d="M266 166L268.1 168.6L271.2 167.8L269.1 165.3" fill="#3498e9"/>
<path d="M337.6 187.5L339.8 189.8L342.7 188.8L340.5 186.6" fill="#543cf1"/>
<path d="M342.7 188.8L344.9 191.1L347.8 190.1L345.6 187.8" fill="#5737f1"/>
<path d="M260.9 164.1L263 166.7L266 166L264 163.5" fill="#32a1e8"/>
<path d="M347.8 190.1L350 192.3L352.9 191.3L350.8 189.1" fill="#5931f1"/>
<path d="M233.3 150.9L235.3 153.8L238.4 153.2L236.3 150.4" fill="#49cddf"/>
<path d="M255.8 162.2L257.9 164.8L260.9 164.1L258.8 161.6" fill="#30a8e7"/>
<path d="M352.9 191.3L355.1 193.6L358.1 192.6L355.9 190.3" fill="#5c2bf1"/>
<path d="M215.8 140.8L217.9 143.9L221 143.3L218.9 140.2" fill="#65e5d5"/>
<path d="M187 113.1L189.1 117.5L192.2 117.1L190.1 112.8" fill="#aafaaf"/>
<path d="M358.1 192.6L360.3 194.8L363.2 193.8L361 191.6" fill="#5f25f1"/>
<path d="M196.3 125.1L198.4 128.8L201.5 128.4L199.4 124.7" fill="#8ffac1"/>
<path d="M250.7 160.2L252.8 162.8L255.8 162.2L253.7 159.6" fill="#2eb1e5"/>
<path d="M203.5 132L205.6 135.4L208.7 134.9L206.6 131.5" fill="#7ef4ca"/>
<path d="M228.2 148.7L230.2 151.5L233.3 150.9L231.2 148.1" fill="#50d4dc"/>
<path d="M363.2 193.8L365.4 196L368.3 194.9L366.1 192.7" fill="#6022f1"/>
<path d="M245.6 158.1L247.7 160.8L250.7 160.2L248.6 157.5" fill="#34b7e4"/>
<path d="M189.1 117.5L191.1 121.5L194.2 121.2L192.2 117.1" fill="#a1fbb5"/>
<path d="M210.7 138.2L212.8 141.4L215.8 140.8L213.8 137.6" fill="#6eebd2"/>
<path d="M298.8 178.6L301 180.9L303.9 180.1L301.8 177.7" fill="#4369ee"/>
<path d="M293.7 177L295.8 179.4L298.8 178.6L296.7 176.2" fill="#416fee"/>
<path d="M303.9 180.1L306.1 182.4L309.1 181.6L306.9 179.2" fill="#4661ef"/>
<path d="M288.6 175.4L290.7 177.8L293.7 177L291.6 174.6" fill="#3e77ed"/>
<path d="M309.1 181.6L311.2 183.9L314.2 183L312 180.7" fill="#485bef"/>
<path d="M223 146.3L225.1 149.3L228.2 148.7L226.1 145.7" fill="#59dcd9"/>
<path d="M314.2 183L316.3 185.3L319.3 184.4L317.1 182.1" fill="#4a56f0"/>
<path d="M283.5 173.8L285.6 176.2L288.6 175.4L286.5 173" fill="#3c7eed"/>
<path d="M319.3 184.4L321.4 186.7L324.4 185.8L322.2 183.5" fill="#4d4df0"/>
<path d="M278.4 172.1L280.5 174.5L283.5 173.8L281.4 171.3" fill="#3a84ec"/>
<path d="M240.5 156L242.5 158.7L245.6 158.1L243.5 155.4" fill="#3cbfe2"/>
<path d="M324.4 185.8L326.6 188.1L329.5 187.2L327.4 184.9" fill="#5048f0"/>
<path d="M273.3 170.3L275.4 172.8L278.4 172.1L276.3 169.6" fill="#388beb"/>
<path d="M329.5 187.2L331.7 189.4L334.6 188.5L332.5 186.2" fill="#5242f1"/>
<path d="M198.4 128.8L200.4 132.4L203.5 132L201.5 128.4" fill="#88f8c5"/>
<path d="M268.1 168.6L270.2 171.1L273.3 170.3L271.2 167.8" fill="#3693ea"/>
<path d="M334.6 188.5L336.8 190.7L339.8 189.8L337.6 187.5" fill="#543cf1"/>
<path d="M235.3 153.8L237.4 156.5L240.5 156L238.4 153.2" fill="#43c7e0"/>
<path d="M217.9 143.9L220 146.9L223 146.3L221 143.3" fill="#60e1d7"/>
<path d="M263 166.7L265.1 169.2L268.1 168.6L266 166" fill="#339ce9"/>
<path d="M191.1 121.5L193.2 125.4L196.3 125.1L194.2 121.2" fill="#9afcba"/>
<path d="M339.8 189.8L342 192L344.9 191.1L342.7 188.8" fill="#5737f1"/>
<path d="M205.6 135.4L207.6 138.7L210.7 138.2L208.7 134.9" fill="#78f1cd"/>
<path d="M344.9 191.1L347.1 193.3L350 192.3L347.8 190.1" fill="#5834f1"/>
<path d="M257.9 164.8L260 167.4L263 166.7L260.9 164.1" fill="#31a3e8"/>
<path d="M350 192.3L352.2 194.5L355.1 193.6L352.9 191.3" fill="#5b2ef1"/>
<path d="M230.2 151.5L232.3 154.4L235.3 153.8L233.3 150.9" fill="#4bcede"/>
<path d="M252.8 162.8L254.9 165.4L257.9 164.8L255.8 162.2" fill="#2faae6"/>
<path d="M355.1 193.6L357.4 195.8L360.3 194.8L358.1 192.6" fill="#5d28f1"/>
<path d="M212.8 141.4L214.8 144.5L217.9 143.9L215.8 140.8" fill="#69e8d4"/>
<path d="M360.3 194.8L362.5 197L365.4 196L363.2 193.8" fill="#6022f1"/>
<path d="M183.9 113.3L185.9 117.6L189.1 117.5L187 113.1" fill="#aef9ac"/>
<path d="M247.7 160.8L249.7 163.5L252.8 162.8L250.7 160.2" fill="#30b3e5"/>
<path d="M225.1 149.3L227.2 152.2L230.2 151.5L228.2 148.7" fill="#54d7db"/>
<path d="M200.4 132.4L202.5 135.8L205.6 135.4L203.5 132" fill="#81f6c8"/>
<path d="M193.2 125.4L195.2 129.1L198.4 128.8L196.3 125.1" fill="#92fbbf"/>
<path d="M365.4 196L367.6 198.2L370.5 197.1L368.3 194.9" fill="#6120f1"/>
<path d="M242.5 158.7L244.6 161.4L247.7 160.8L245.6 158.1" fill="#38bbe3"/>
<path d="M295.8 179.4L298 181.8L301 180.9L298.8 178.6" fill="#426cee"/>
<path d="M301 180.9L303.1 183.3L306.1 182.4L303.9 180.1" fill="#4564ef"/>
<path d="M290.7 177.8L292.8 180.2L295.8 179.4L293.7 177" fill="#4071ee"/>
<path d="M306.1 182.4L308.2 184.8L311.2 183.9L309.1 181.6" fill="#475eef"/>
<path d="M285.6 176.2L287.7 178.6L290.7 177.8L288.6 175.4" fill="#3e79ed"/>
<path d="M311.2 183.9L313.4 186.2L316.3 185.3L314.2 183" fill="#4959ef"/>
<path d="M207.6 138.7L209.7 141.9L212.8 141.4L210.7 138.2" fill="#71edd0"/>
<path d="M316.3 185.3L318.5 187.6L321.4 186.7L319.3 184.4" fill="#4c50f0"/>
<path d="M280.5 174.5L282.6 177L285.6 176.2L283.5 173.8" fill="#3b81ec"/>
<path d="M220 146.9L222 149.9L225.1 149.3L223 146.3" fill="#5bddd9"/>
<path d="M321.4 186.7L323.6 189L326.6 188.1L324.4 185.8" fill="#4f4af0"/>
<path d="M185.9 117.6L188 121.7L191.1 121.5L189.1 117.5" fill="#a4fbb3"/>
<path d="M275.4 172.8L277.5 175.3L280.5 174.5L278.4 172.1" fill="#3989eb"/>
<path d="M326.6 188.1L328.7 190.4L331.7 189.4L329.5 187.2" fill="#5145f0"/>
<path d="M237.4 156.5L239.5 159.3L242.5 158.7L240.5 156" fill="#3fc3e1"/>
<path d="M270.2 171.1L272.3 173.5L275.4 172.8L273.3 170.3" fill="#3690ea"/>
<path d="M331.7 189.4L333.9 191.7L336.8 190.7L334.6 188.5" fill="#533ff1"/>
<path d="M265.1 169.2L267.2 171.8L270.2 171.1L268.1 168.6" fill="#3498e9"/>
<path d="M336.8 190.7L339 193L342 192L339.8 189.8" fill="#5639f1"/>
<path d="M195.2 129.1L197.3 132.7L200.4 132.4L198.4 128.8" fill="#8bf9c3"/>
<path d="M342 192L344.1 194.3L347.1 193.3L344.9 191.1" fill="#5834f1"/>
<path d="M260 167.4L262.1 169.9L265.1 169.2L263 166.7" fill="#329fe8"/>
<path d="M214.8 144.5L216.9 147.5L220 146.9L217.9 143.9" fill="#64e4d6"/>
<path d="M232.3 154.4L234.4 157.1L237.4 156.5L235.3 153.8" fill="#47cbdf"/>
<path d="M202.5 135.8L204.5 139.1L207.6 138.7L205.6 135.4" fill="#7bf3cc"/>
<path d="M347.1 193.3L349.3 195.5L352.2 194.5L350 192.3" fill="#5b2ef1"/>
<path d="M188 121.7L190.1 125.6L193.2 125.4L191.1 121.5" fill="#9dfcb8"/>
<path d="M254.9 165.4L257 168L260 167.4L257.9 164.8" fill="#30a6e7"/>
<path d="M352.2 194.5L354.4 196.8L357.4 195.8L355.1 193.6" fill="#5c2bf1"/>
<path d="M227.2 152.2L229.2 155L232.3 154.4L230.2 151.5" fill="#4ed2dd"/>
<path d="M249.7 163.5L251.8 166.1L254.9 165.4L252.8 162.8" fill="#2eaee6"/>
<path d="M357.4 195.8L359.6 198L362.5 197L360.3 194.8" fill="#5f25f1"/>
<path d="M209.7 141.9L211.7 145L214.8 144.5L212.8 141.4" fill="#6cead2"/>
<path d="M362.5 197L364.7 199.2L367.6 198.2L365.4 196" fill="#6120f1"/>
<path d="M244.6 161.4L246.7 164L249.7 163.5L247.7 160.8" fill="#34b7e4"/>
<path d="M222 149.9L224.1 152.8L227.2 152.2L225.1 149.3" fill="#56d8db"/>
<path d="M367.6 198.2L369.8 200.4L372.8 199.3L370.5 197.1" fill="#631df1"/>
<path d="M197.3 132.7L199.4 136.1L202.5 135.8L200.4 132.4" fill="#85f7c7"/>
<path d="M298 181.8L300.1 184.1L303.1 183.3L301 180.9" fill="#4466ef"/>
<path d="M292.8 180.2L295 182.6L298 181.8L295.8 179.4" fill="#416fee"/>
<path d="M303.1 183.3L305.2 185.6L308.2 184.8L306.1 182.4" fill="#4661ef"/>
<path d="M180.7 113.3L182.8 117.7L185.9 117.6L183.9 113.3" fill="#b1f8aa"/>
<path d="M287.7 178.6L289.8 181L292.8 180.2L290.7 177.8" fill="#3f74ee"/>
<path d="M308.2 184.8L310.4 187.1L313.4 186.2L311.2 183.9" fill="#4959ef"/>
<path d="M190.1 125.6L192.1 129.3L195.2 129.1L193.2 125.4" fill="#95fbbd"/>
<path d="M282.6 177L284.7 179.4L287.7 178.6L285.6 176.2" fill="#3d7ced"/>
<path d="M313.4 186.2L315.5 188.5L318.5 187.6L316.3 185.3" fill="#4b53f0"/>
<path d="M239.5 159.3L241.6 161.9L244.6 161.4L242.5 158.7" fill="#3abde3"/>
<path d="M318.5 187.6L320.6 189.9L323.6 189L321.4 186.7" fill="#4d4df0"/>
<path d="M277.5 175.3L279.6 177.7L282.6 177L280.5 174.5" fill="#3a84ec"/>
<path d="M323.6 189L325.8 191.3L328.7 190.4L326.6 188.1" fill="#5048f0"/>
<path d="M204.5 139.1L206.6 142.3L209.7 141.9L207.6 138.7" fill="#74efcf"/>
<path d="M272.3 173.5L274.5 176L277.5 175.3L275.4 172.8" fill="#388beb"/>
<path d="M216.9 147.5L218.9 150.4L222 149.9L220 146.9" fill="#5ee0d8"/>
<path d="M328.7 190.4L330.9 192.6L333.9 191.7L331.7 189.4" fill="#5242f1"/>
<path d="M267.2 171.8L269.3 174.2L272.3 173.5L270.2 171.1" fill="#3693ea"/>
<path d="M234.4 157.1L236.4 159.9L239.5 159.3L237.4 156.5" fill="#41c5e1"/>
<path d="M333.9 191.7L336.1 193.9L339 193L336.8 190.7" fill="#543cf1"/>
<path d="M182.8 117.7L184.9 121.8L188 121.7L185.9 117.6" fill="#a9fab0"/>
<path d="M262.1 169.9L264.2 172.4L267.2 171.8L265.1 169.2" fill="#349ae9"/>
<path d="M339 193L341.2 195.2L344.1 194.3L342 192" fill="#5737f1"/>
<path d="M344.1 194.3L346.3 196.5L349.3 195.5L347.1 193.3" fill="#5931f1"/>
<path d="M257 168L259.1 170.6L262.1 169.9L260 167.4" fill="#32a1e8"/>
<path d="M229.2 155L231.3 157.8L234.4 157.1L232.3 154.4" fill="#49cddf"/>
<path d="M211.7 145L213.8 148L216.9 147.5L214.8 144.5" fill="#65e5d5"/>
<path d="M349.3 195.5L351.5 197.7L354.4 196.8L352.2 194.5" fill="#5c2bf1"/>
<path d="M192.1 129.3L194.2 132.9L197.3 132.7L195.2 129.1" fill="#8efac2"/>
<path d="M251.8 166.1L253.9 168.6L257 168L254.9 165.4" fill="#2faae6"/>
<path d="M199.4 136.1L201.4 139.4L204.5 139.1L202.5 135.8" fill="#7ef4ca"/>
<path d="M354.4 196.8L356.6 199L359.6 198L357.4 195.8" fill="#5d28f1"/>
<path d="M224.1 152.8L226.1 155.6L229.2 155L227.2 152.2" fill="#50d4dc"/>
<path d="M184.9 121.8L186.9 125.7L190.1 125.6L188 121.7" fill="#a0fbb6"/>
<path d="M359.6 198L361.8 200.2L364.7 199.2L362.5 197" fill="#6022f1"/>
<path d="M246.7 164L248.8 166.6L251.8 166.1L249.7 163.5" fill="#2eb1e5"/>
<path d="M206.6 142.3L208.6 145.4L211.7 145L209.7 141.9" fill="#6eebd2"/>
<path d="M364.7 199.2L366.9 201.4L369.8 200.4L367.6 198.2" fill="#631df1"/>
<path d="M241.6 161.9L243.6 164.6L246.7 164L244.6 161.4" fill="#36b9e3"/>
<path d="M218.9 150.4L221 153.3L224.1 152.8L222 149.9" fill="#59dcd9"/>
<path d="M295 182.6L297.1 184.9L300.1 184.1L298 181.8" fill="#4369ee"/>
<path d="M300.1 184.1L302.3 186.5L305.2 185.6L303.1 183.3" fill="#4564ef"/>
<path d="M289.8 181L292 183.4L295 182.6L292.8 180.2" fill="#4071ee"/>
<path d="M305.2 185.6L307.4 187.9L310.4 187.1L308.2 184.8" fill="#485bef"/>
<path d="M369.8 200.4L372.1 202.5L375 201.5L372.8 199.3" fill="#641af1"/>
<path d="M284.7 179.4L286.8 181.8L289.8 181L287.7 178.6" fill="#3e77ed"/>
<path d="M310.4 187.1L312.5 189.4L315.5 188.5L313.4 186.2" fill="#4a56f0"/>
<path d="M279.6 177.7L281.7 180.1L284.7 179.4L282.6 177" fill="#3c7eed"/>
<path d="M315.5 188.5L317.7 190.8L320.6 189.9L318.5 187.6" fill="#4c50f0"/>
<path d="M320.6 189.9L322.8 192.2L325.8 191.3L323.6 189" fill="#4f4af0"/>
<path d="M274.5 176L276.6 178.4L279.6 177.7L277.5 175.3" fill="#3986ec"/>
<path d="M236.4 159.9L238.5 162.6L241.6 161.9L239.5 159.3" fill="#3dc1e2"/>
<path d="M194.2 132.9L196.2 136.3L199.4 136.1L197.3 132.7" fill="#88f8c5"/>
<path d="M325.8 191.3L328 193.5L330.9 192.6L328.7 190.4" fill="#5145f0"/>
<path d="M269.3 174.2L271.4 176.7L274.5 176L272.3 173.5" fill="#378eeb"/>
<path d="M186.9 125.7L189 129.4L192.1 129.3L190.1 125.6" fill="#98fbbb"/>
<path d="M330.9 192.6L333.1 194.9L336.1 193.9L333.9 191.7" fill="#533ff1"/>
<path d="M213.8 148L215.8 151L218.9 150.4L216.9 147.5" fill="#60e1d7"/>
<path d="M177.6 113.1L179.6 117.5L182.8 117.7L180.7 113.3" fill="#b5f6a6"/>
<path d="M264.2 172.4L266.3 174.9L269.3 174.2L267.2 171.8" fill="#3595ea"/>
<path d="M201.4 139.4L203.5 142.6L206.6 142.3L204.5 139.1" fill="#78f1cd"/>
<path d="M336.1 193.9L338.2 196.2L341.2 195.2L339 193" fill="#5639f1"/>
<path d="M231.3 157.8L233.4 160.5L236.4 159.9L234.4 157.1" fill="#45c9e0"/>
<path d="M259.1 170.6L261.2 173.1L264.2 172.4L262.1 169.9" fill="#339ce9"/>
<path d="M341.2 195.2L343.4 197.5L346.3 196.5L344.1 194.3" fill="#5834f1"/>
<path d="M346.3 196.5L348.5 198.7L351.5 197.7L349.3 195.5" fill="#5b2ef1"/>
<path d="M253.9 168.6L256 171.2L259.1 170.6L257 168" fill="#30a6e7"/>
<path d="M226.1 155.6L228.2 158.4L231.3 157.8L229.2 155" fill="#4cd0dd"/>
<path d="M351.5 197.7L353.7 200L356.6 199L354.4 196.8" fill="#5d28f1"/>
<path d="M208.6 145.4L210.7 148.4L213.8 148L211.7 145" fill="#69e8d4"/>
<path d="M179.6 117.5L181.7 121.6L184.9 121.8L182.8 117.7" fill="#adf9ad"/>
<path d="M248.8 166.6L250.9 169.2L253.9 168.6L251.8 166.1" fill="#2face6"/>
<path d="M356.6 199L358.8 201.2L361.8 200.2L359.6 198" fill="#5f25f1"/>
<path d="M189 129.4L191 133L194.2 132.9L192.1 129.3" fill="#92fbbf"/>
<path d="M221 153.3L223.1 156.2L226.1 155.6L224.1 152.8" fill="#54d7db"/>
<path d="M196.2 136.3L198.3 139.6L201.4 139.4L199.4 136.1" fill="#81f6c8"/>
<path d="M361.8 200.2L364 202.4L366.9 201.4L364.7 199.2" fill="#6120f1"/>
<path d="M243.6 164.6L245.7 167.2L248.8 166.6L246.7 164" fill="#32b5e4"/>
<path d="M366.9 201.4L369.2 203.6L372.1 202.5L369.8 200.4" fill="#641af1"/>
<path d="M297.1 184.9L299.3 187.3L302.3 186.5L300.1 184.1" fill="#4466ef"/>
<path d="M292 183.4L294.1 185.7L297.1 184.9L295 182.6" fill="#426cee"/>
<path d="M302.3 186.5L304.4 188.8L307.4 187.9L305.2 185.6" fill="#475eef"/>
<path d="M203.5 142.6L205.5 145.8L208.6 145.4L206.6 142.3" fill="#71edd0"/>
<path d="M286.8 181.8L289 184.1L292 183.4L289.8 181" fill="#3f74ee"/>
<path d="M307.4 187.9L309.5 190.3L312.5 189.4L310.4 187.1" fill="#4959ef"/>
<path d="M238.5 162.6L240.6 165.2L243.6 164.6L241.6 161.9" fill="#3abde3"/>
<path d="M181.7 121.6L183.8 125.5L186.9 125.7L184.9 121.8" fill="#a4fbb3"/>
<path d="M281.7 180.1L283.8 182.5L286.8 181.8L284.7 179.4" fill="#3d7ced"/>
<path d="M312.5 189.4L314.7 191.7L317.7 190.8L315.5 188.5" fill="#4b53f0"/>
<path d="M215.8 151L217.9 153.9L221 153.3L218.9 150.4" fill="#5bddd9"/>
<path d="M372.1 202.5L374.3 204.7L377.2 203.7L375 201.5" fill="#6517f1"/>
<path d="M317.7 190.8L319.8 193.1L322.8 192.2L320.6 189.9" fill="#4d4df0"/>
<path d="M276.6 178.4L278.7 180.9L281.7 180.1L279.6 177.7" fill="#3b81ec"/>
<path d="M322.8 192.2L325 194.5L328 193.5L325.8 191.3" fill="#5048f0"/>
<path d="M271.4 176.7L273.5 179.1L276.6 178.4L274.5 176" fill="#3989eb"/>
<path d="M233.4 160.5L235.4 163.2L238.5 162.6L236.4 159.9" fill="#3fc3e1"/>
<path d="M328 193.5L330.1 195.8L333.1 194.9L330.9 192.6" fill="#533ff1"/>
<path d="M266.3 174.9L268.4 177.4L271.4 176.7L269.3 174.2" fill="#3690ea"/>
<path d="M333.1 194.9L335.3 197.1L338.2 196.2L336.1 193.9" fill="#543cf1"/>
<path d="M261.2 173.1L263.3 175.6L266.3 174.9L264.2 172.4" fill="#349ae9"/>
<path d="M338.2 196.2L340.4 198.4L343.4 197.5L341.2 195.2" fill="#5737f1"/>
<path d="M210.7 148.4L212.7 151.4L215.8 151L213.8 148" fill="#64e4d6"/>
<path d="M191 133L193.1 136.4L196.2 136.3L194.2 132.9" fill="#8bf9c3"/>
<path d="M228.2 158.4L230.3 161.1L233.4 160.5L231.3 157.8" fill="#47cbdf"/>
<path d="M343.4 197.5L345.6 199.7L348.5 198.7L346.3 196.5" fill="#5931f1"/>
<path d="M256 171.2L258.1 173.7L261.2 173.1L259.1 170.6" fill="#32a1e8"/>
<path d="M198.3 139.6L200.3 142.9L203.5 142.6L201.4 139.4" fill="#7bf3cc"/>
<path d="M183.8 125.5L185.8 129.2L189 129.4L186.9 125.7" fill="#9dfcb8"/>
<path d="M348.5 198.7L350.7 200.9L353.7 200L351.5 197.7" fill="#5c2bf1"/>
<path d="M250.9 169.2L253 171.8L256 171.2L253.9 168.6" fill="#30a8e7"/>
<path d="M223.1 156.2L225.1 159L228.2 158.4L226.1 155.6" fill="#4ed2dd"/>
<path d="M174.4 112.8L176.5 117.2L179.6 117.5L177.6 113.1" fill="#bbf3a2"/>
<path d="M353.7 200L355.9 202.2L358.8 201.2L356.6 199" fill="#5f25f1"/>
<path d="M205.5 145.8L207.6 148.8L210.7 148.4L208.6 145.4" fill="#6cead2"/>
<path d="M245.7 167.2L247.8 169.8L250.9 169.2L248.8 166.6" fill="#2eb1e5"/>
<path d="M358.8 201.2L361.1 203.4L364 202.4L361.8 200.2" fill="#6022f1"/>
<path d="M217.9 153.9L220 156.7L223.1 156.2L221 153.3" fill="#57dada"/>
<path d="M364 202.4L366.2 204.6L369.2 203.6L366.9 201.4" fill="#631df1"/>
<path d="M240.6 165.2L242.7 167.8L245.7 167.2L243.6 164.6" fill="#36b9e3"/>
<path d="M176.5 117.2L178.5 121.3L181.7 121.6L179.6 117.5" fill="#b1f8aa"/>
<path d="M294.1 185.7L296.3 188.1L299.3 187.3L297.1 184.9" fill="#4369ee"/>
<path d="M299.3 187.3L301.4 189.6L304.4 188.8L302.3 186.5" fill="#4661ef"/>
<path d="M289 184.1L291.1 186.5L294.1 185.7L292 183.4" fill="#416fee"/>
<path d="M369.2 203.6L371.4 205.7L374.3 204.7L372.1 202.5" fill="#6517f1"/>
<path d="M193.1 136.4L195.1 139.7L198.3 139.6L196.2 136.3" fill="#85f7c7"/>
<path d="M304.4 188.8L306.6 191.1L309.5 190.3L307.4 187.9" fill="#485bef"/>
<path d="M283.8 182.5L286 184.9L289 184.1L286.8 181.8" fill="#3e77ed"/>
<path d="M309.5 190.3L311.7 192.6L314.7 191.7L312.5 189.4" fill="#4a56f0"/>
<path d="M185.8 129.2L187.9 132.8L191 133L189 129.4" fill="#97fbbc"/>
<path d="M314.7 191.7L316.9 194L319.8 193.1L317.7 190.8" fill="#4c50f0"/>
<path d="M278.7 180.9L280.8 183.3L283.8 182.5L281.7 180.1" fill="#3c7eed"/>
<path d="M235.4 163.2L237.5 165.8L240.6 165.2L238.5 162.6" fill="#3cbfe2"/>
<path d="M319.8 193.1L322 195.4L325 194.5L322.8 192.2" fill="#5048f0"/>
<path d="M273.5 179.1L275.7 181.6L278.7 180.9L276.6 178.4" fill="#3986ec"/>
<path d="M374.3 204.7L376.6 206.9L379.5 205.9L377.2 203.7" fill="#6714f1"/>
<path d="M212.7 151.4L214.8 154.3L217.9 153.9L215.8 151" fill="#5ee0d8"/>
<path d="M200.3 142.9L202.4 146L205.5 145.8L203.5 142.6" fill="#76f0ce"/>
<path d="M325 194.5L327.2 196.7L330.1 195.8L328 193.5" fill="#5242f1"/>
<path d="M268.4 177.4L270.5 179.8L273.5 179.1L271.4 176.7" fill="#378eeb"/>
<path d="M330.1 195.8L332.3 198.1L335.3 197.1L333.1 194.9" fill="#543cf1"/>
<path d="M230.3 161.1L232.4 163.8L235.4 163.2L233.4 160.5" fill="#43c7e0"/>
<path d="M263.3 175.6L265.4 178L268.4 177.4L266.3 174.9" fill="#3595ea"/>
<path d="M335.3 197.1L337.5 199.4L340.4 198.4L338.2 196.2" fill="#5737f1"/>
<path d="M178.5 121.3L180.6 125.2L183.8 125.5L181.7 121.6" fill="#aafaaf"/>
<path d="M258.1 173.7L260.2 176.2L263.3 175.6L261.2 173.1" fill="#339ce9"/>
<path d="M340.4 198.4L342.6 200.7L345.6 199.7L343.4 197.5" fill="#5834f1"/>
<path d="M225.1 159L227.2 161.7L230.3 161.1L228.2 158.4" fill="#4bcede"/>
<path d="M207.6 148.8L209.6 151.8L212.7 151.4L210.7 148.4" fill="#67e7d4"/>
<path d="M345.6 199.7L347.8 201.9L350.7 200.9L348.5 198.7" fill="#5b2ef1"/>
<path d="M253 171.8L255.1 174.3L258.1 173.7L256 171.2" fill="#31a3e8"/>
<path d="M350.7 200.9L353 203.2L355.9 202.2L353.7 200" fill="#5d28f1"/>
<path d="M187.9 132.8L189.9 136.2L193.1 136.4L191 133" fill="#8ffac1"/>
<path d="M247.8 169.8L249.9 172.3L253 171.8L250.9 169.2" fill="#2face6"/>
<path d="M195.1 139.7L197.2 142.9L200.3 142.9L198.3 139.6" fill="#80f5c9"/>
<path d="M220 156.7L222 159.5L225.1 159L223.1 156.2" fill="#52d5dc"/>
<path d="M355.9 202.2L358.1 204.4L361.1 203.4L358.8 201.2" fill="#6022f1"/>
<path d="M361.1 203.4L363.3 205.6L366.2 204.6L364 202.4" fill="#6120f1"/>
<path d="M242.7 167.8L244.7 170.4L247.8 169.8L245.7 167.2" fill="#30b3e5"/>
<path d="M180.6 125.2L182.7 128.9L185.8 129.2L183.8 125.5" fill="#a3fbb4"/>
<path d="M202.4 146L204.4 149L207.6 148.8L205.5 145.8" fill="#70ecd1"/>
<path d="M366.2 204.6L368.5 206.8L371.4 205.7L369.2 203.6" fill="#641af1"/>
<path d="M214.8 154.3L216.9 157.2L220 156.7L217.9 153.9" fill="#59dcd9"/>
<path d="M237.5 165.8L239.6 168.5L242.7 167.8L240.6 165.2" fill="#38bbe3"/>
<path d="M296.3 188.1L298.4 190.4L301.4 189.6L299.3 187.3" fill="#4564ef"/>
<path d="M291.1 186.5L293.2 188.9L296.3 188.1L294.1 185.7" fill="#426cee"/>
<path d="M301.4 189.6L303.6 191.9L306.6 191.1L304.4 188.8" fill="#475eef"/>
<path d="M171.2 112.3L173.3 116.6L176.5 117.2L174.4 112.8" fill="#bff19e"/>
<path d="M306.6 191.1L308.7 193.4L311.7 192.6L309.5 190.3" fill="#4959ef"/>
<path d="M286 184.9L288.1 187.3L291.1 186.5L289 184.1" fill="#3f74ee"/>
<path d="M311.7 192.6L313.9 194.8L316.9 194L314.7 191.7" fill="#4c50f0"/>
<path d="M280.8 183.3L282.9 185.6L286 184.9L283.8 182.5" fill="#3e79ed"/>
<path d="M371.4 205.7L373.6 207.9L376.6 206.9L374.3 204.7" fill="#6714f1"/>
<path d="M316.9 194L319 196.3L322 195.4L319.8 193.1" fill="#4f4af0"/>
<path d="M275.7 181.6L277.8 184L280.8 183.3L278.7 180.9" fill="#3b81ec"/>
<path d="M232.4 163.8L234.4 166.5L237.5 165.8L235.4 163.2" fill="#3fc3e1"/>
<path d="M322 195.4L324.2 197.6L327.2 196.7L325 194.5" fill="#5145f0"/>
<path d="M270.5 179.8L272.6 182.3L275.7 181.6L273.5 179.1" fill="#3989eb"/>
<path d="M376.6 206.9L378.8 209.1L381.7 208L379.5 205.9" fill="#6811f1"/>
<path d="M327.2 196.7L329.3 199L332.3 198.1L330.1 195.8" fill="#533ff1"/>
<path d="M265.4 178L267.5 180.5L270.5 179.8L268.4 177.4" fill="#3690ea"/>
<path d="M189.9 136.2L192 139.6L195.1 139.7L193.1 136.4" fill="#89f9c4"/>
<path d="M332.3 198.1L334.5 200.3L337.5 199.4L335.3 197.1" fill="#5639f1"/>
<path d="M209.6 151.8L211.7 154.7L214.8 154.3L212.7 151.4" fill="#62e3d6"/>
<path d="M227.2 161.7L229.3 164.4L232.4 163.8L230.3 161.1" fill="#45c9e0"/>
<path d="M260.2 176.2L262.3 178.7L265.4 178L263.3 175.6" fill="#3498e9"/>
<path d="M173.3 116.6L175.4 120.8L178.5 121.3L176.5 117.2" fill="#b7f5a5"/>
<path d="M337.5 199.4L339.7 201.6L342.6 200.7L340.4 198.4" fill="#5834f1"/>
<path d="M197.2 142.9L199.3 146L202.4 146L200.3 142.9" fill="#79f2cc"/>
<path d="M182.7 128.9L184.7 132.5L187.9 132.8L185.8 129.2" fill="#9bfcb9"/>
<path d="M342.6 200.7L344.8 202.9L347.8 201.9L345.6 199.7" fill="#5b2ef1"/>
<path d="M255.1 174.3L257.2 176.8L260.2 176.2L258.1 173.7" fill="#32a1e8"/>
<path d="M222 159.5L224.1 162.2L227.2 161.7L225.1 159" fill="#4cd0dd"/>
<path d="M347.8 201.9L350 204.1L353 203.2L350.7 200.9" fill="#5c2bf1"/>
<path d="M249.9 172.3L252 174.9L255.1 174.3L253 171.8" fill="#30a8e7"/>
<path d="M353 203.2L355.2 205.4L358.1 204.4L355.9 202.2" fill="#5f25f1"/>
<path d="M204.4 149L206.5 152L209.6 151.8L207.6 148.8" fill="#6ae9d3"/>
<path d="M244.7 170.4L246.8 173L249.9 172.3L247.8 169.8" fill="#2eaee6"/>
<path d="M175.4 120.8L177.4 124.7L180.6 125.2L178.5 121.3" fill="#b0f8ab"/>
<path d="M358.1 204.4L360.3 206.6L363.3 205.6L361.1 203.4" fill="#6120f1"/>
<path d="M216.9 157.2L218.9 160L222 159.5L220 156.7" fill="#56d8db"/>
<path d="M239.6 168.5L241.7 171.1L244.7 170.4L242.7 167.8" fill="#34b7e4"/>
<path d="M363.3 205.6L365.5 207.8L368.5 206.8L366.2 204.6" fill="#631df1"/>
<path d="M192 139.6L194.1 142.8L197.2 142.9L195.1 139.7" fill="#85f7c7"/>
<path d="M184.7 132.5L186.8 135.9L189.9 136.2L187.9 132.8" fill="#95fbbd"/>
<path d="M298.4 190.4L300.6 192.7L303.6 191.9L301.4 189.6" fill="#4661ef"/>
<path d="M293.2 188.9L295.4 191.2L298.4 190.4L296.3 188.1" fill="#4369ee"/>
<path d="M368.5 206.8L370.7 209L373.6 207.9L371.4 205.7" fill="#6517f1"/>
<path d="M303.6 191.9L305.7 194.2L308.7 193.4L306.6 191.1" fill="#485bef"/>
<path d="M288.1 187.3L290.2 189.6L293.2 188.9L291.1 186.5" fill="#416fee"/>
<path d="M234.4 166.5L236.5 169.1L239.6 168.5L237.5 165.8" fill="#3abde3"/>
<path d="M308.7 193.4L310.9 195.7L313.9 194.8L311.7 192.6" fill="#4b53f0"/>
<path d="M282.9 185.6L285.1 188L288.1 187.3L286 184.9" fill="#3e77ed"/>
<path d="M313.9 194.8L316 197.1L319 196.3L316.9 194" fill="#4d4df0"/>
<path d="M277.8 184L279.9 186.4L282.9 185.6L280.8 183.3" fill="#3c7eed"/>
<path d="M211.7 154.7L213.7 157.5L216.9 157.2L214.8 154.3" fill="#5ddfd8"/>
<path d="M199.3 146L201.3 149.1L204.4 149L202.4 146" fill="#74efcf"/>
<path d="M319 196.3L321.2 198.5L324.2 197.6L322 195.4" fill="#5048f0"/>
<path d="M373.6 207.9L375.9 210.1L378.8 209.1L376.6 206.9" fill="#6811f1"/>
<path d="M272.6 182.3L274.7 184.7L277.8 184L275.7 181.6" fill="#3a84ec"/>
<path d="M324.2 197.6L326.4 199.9L329.3 199L327.2 196.7" fill="#5242f1"/>
<path d="M229.3 164.4L231.3 167.1L234.4 166.5L232.4 163.8" fill="#41c5e1"/>
<path d="M267.5 180.5L269.6 182.9L272.6 182.3L270.5 179.8" fill="#388beb"/>
<path d="M177.4 124.7L179.5 128.4L182.7 128.9L180.6 125.2" fill="#a9fab0"/>
<path d="M329.3 199L331.5 201.2L334.5 200.3L332.3 198.1" fill="#543cf1"/>
<path d="M378.8 209.1L381.1 211.3L384 210.2L381.7 208" fill="#690ef1"/>
<path d="M262.3 178.7L264.4 181.1L267.5 180.5L265.4 178" fill="#3595ea"/>
<path d="M334.5 200.3L336.7 202.6L339.7 201.6L337.5 199.4" fill="#5737f1"/>
<path d="M224.1 162.2L226.2 164.9L229.3 164.4L227.2 161.7" fill="#49cddf"/>
<path d="M339.7 201.6L341.9 203.8L344.8 202.9L342.6 200.7" fill="#5931f1"/>
<path d="M257.2 176.8L259.3 179.3L262.3 178.7L260.2 176.2" fill="#339ce9"/>
<path d="M206.5 152L208.6 154.9L211.7 154.7L209.6 151.8" fill="#65e5d5"/>
<path d="M168 111.5L170.1 115.9L173.3 116.6L171.2 112.3" fill="#c6ec98"/>
<path d="M344.8 202.9L347 205.1L350 204.1L347.8 201.9" fill="#5c2bf1"/>
<path d="M252 174.9L254.1 177.4L257.2 176.8L255.1 174.3" fill="#31a3e8"/>
<path d="M350 204.1L352.2 206.4L355.2 205.4L353 203.2" fill="#5d28f1"/>
<path d="M186.8 135.9L188.8 139.3L192 139.6L189.9 136.2" fill="#8ffac1"/>
<path d="M218.9 160L221 162.7L224.1 162.2L222 159.5" fill="#50d4dc"/>
<path d="M194.1 142.8L196.1 145.9L199.3 146L197.2 142.9" fill="#7ef4ca"/>
<path d="M246.8 173L248.9 175.5L252 174.9L249.9 172.3" fill="#2face6"/>
<path d="M355.2 205.4L357.4 207.6L360.3 206.6L358.1 204.4" fill="#6022f1"/>
<path d="M179.5 128.4L181.5 132L184.7 132.5L182.7 128.9" fill="#a1fbb5"/>
<path d="M241.7 171.1L243.8 173.6L246.8 173L244.7 170.4" fill="#30b3e5"/>
<path d="M170.1 115.9L172.2 120.1L175.4 120.8L173.3 116.6" fill="#bef19f"/>
<path d="M360.3 206.6L362.6 208.8L365.5 207.8L363.3 205.6" fill="#631df1"/>
<path d="M201.3 149.1L203.4 152.1L206.5 152L204.4 149" fill="#70ecd1"/>
<path d="M213.7 157.5L215.8 160.3L218.9 160L216.9 157.2" fill="#59dcd9"/>
<path d="M236.5 169.1L238.6 171.7L241.7 171.1L239.6 168.5" fill="#36b9e3"/>
<path d="M365.5 207.8L367.8 210L370.7 209L368.5 206.8" fill="#641af1"/>
<path d="M295.4 191.2L297.5 193.5L300.6 192.7L298.4 190.4" fill="#4564ef"/>
<path d="M300.6 192.7L302.7 195.1L305.7 194.2L303.6 191.9" fill="#475eef"/>
<path d="M290.2 189.6L292.4 192L295.4 191.2L293.2 188.9" fill="#426cee"/>
<path d="M305.7 194.2L307.9 196.5L310.9 195.7L308.7 193.4" fill="#4a56f0"/>
<path d="M285.1 188L287.2 190.4L290.2 189.6L288.1 187.3" fill="#4071ee"/>
<path d="M310.9 195.7L313 198L316 197.1L313.9 194.8" fill="#4c50f0"/>
<path d="M370.7 209L372.9 211.1L375.9 210.1L373.6 207.9" fill="#6714f1"/>
<path d="M279.9 186.4L282 188.7L285.1 188L282.9 185.6" fill="#3e79ed"/>
<path d="M231.3 167.1L233.4 169.7L236.5 169.1L234.4 166.5" fill="#3dc1e2"/>
<path d="M316 197.1L318.2 199.4L321.2 198.5L319 196.3" fill="#4f4af0"/>
<path d="M274.7 184.7L276.9 187.1L279.9 186.4L277.8 184" fill="#3b81ec"/>
<path d="M321.2 198.5L323.4 200.8L326.4 199.9L324.2 197.6" fill="#5145f0"/>
<path d="M269.6 182.9L271.7 185.3L274.7 184.7L272.6 182.3" fill="#3989eb"/>
<path d="M375.9 210.1L378.1 212.3L381.1 211.3L378.8 209.1" fill="#6811f1"/>
<path d="M172.2 120.1L174.2 124L177.4 124.7L175.4 120.8" fill="#b5f6a6"/>
<path d="M326.4 199.9L328.6 202.2L331.5 201.2L329.3 199" fill="#533ff1"/>
<path d="M208.6 154.9L210.6 157.8L213.7 157.5L211.7 154.7" fill="#62e3d6"/>
<path d="M264.4 181.1L266.5 183.6L269.6 182.9L267.5 180.5" fill="#3690ea"/>
<path d="M226.2 164.9L228.2 167.6L231.3 167.1L229.3 164.4" fill="#45c9e0"/>
<path d="M188.8 139.3L190.9 142.5L194.1 142.8L192 139.6" fill="#89f9c4"/>
<path d="M331.5 201.2L333.7 203.5L336.7 202.6L334.5 200.3" fill="#5639f1"/>
<path d="M381.1 211.3L383.3 213.4L386.2 212.4L384 210.2" fill="#6b0cf1"/>
<path d="M259.3 179.3L261.4 181.7L264.4 181.1L262.3 178.7" fill="#3498e9"/>
<path d="M181.5 132L183.6 135.5L186.8 135.9L184.7 132.5" fill="#9bfcb9"/>
<path d="M336.7 202.6L338.9 204.8L341.9 203.8L339.7 201.6" fill="#5834f1"/>
<path d="M196.1 145.9L198.2 149L201.3 149.1L199.3 146" fill="#79f2cc"/>
<path d="M341.9 203.8L344.1 206.1L347 205.1L344.8 202.9" fill="#5b2ef1"/>
<path d="M254.1 177.4L256.2 179.8L259.3 179.3L257.2 176.8" fill="#329fe8"/>
<path d="M221 162.7L223.1 165.4L226.2 164.9L224.1 162.2" fill="#4cd0dd"/>
<path d="M347 205.1L349.3 207.3L352.2 206.4L350 204.1" fill="#5d28f1"/>
<path d="M248.9 175.5L251 178L254.1 177.4L252 174.9" fill="#30a8e7"/>
<path d="M352.2 206.4L354.4 208.6L357.4 207.6L355.2 205.4" fill="#5f25f1"/>
<path d="M203.4 152.1L205.4 155L208.6 154.9L206.5 152" fill="#6ae9d3"/>
<path d="M174.2 124L176.3 127.7L179.5 128.4L177.4 124.7" fill="#aef9ac"/>
<path d="M243.8 173.6L245.9 176.1L248.9 175.5L246.8 173" fill="#2eaee6"/>
<path d="M215.8 160.3L217.9 163.1L221 162.7L218.9 160" fill="#54d7db"/>
<path d="M357.4 207.6L359.6 209.8L362.6 208.8L360.3 206.6" fill="#6120f1"/>
<path d="M238.6 171.7L240.7 174.2L243.8 173.6L241.7 171.1" fill="#32b5e4"/>
<path d="M362.6 208.8L364.8 211L367.8 210L365.5 207.8" fill="#641af1"/>
<path d="M190.9 142.5L192.9 145.6L196.1 145.9L194.1 142.8" fill="#85f7c7"/>
<path d="M233.4 169.7L235.5 172.3L238.6 171.7L236.5 169.1" fill="#3abde3"/>
<path d="M183.6 135.5L185.7 138.8L188.8 139.3L186.8 135.9" fill="#95fbbd"/>
<path d="M367.8 210L370 212.2L372.9 211.1L370.7 209" fill="#6517f1"/>
<path d="M297.5 193.5L299.7 195.8L302.7 195.1L300.6 192.7" fill="#4661ef"/>
<path d="M292.4 192L294.5 194.3L297.5 193.5L295.4 191.2" fill="#4466ef"/>
<path d="M302.7 195.1L304.9 197.4L307.9 196.5L305.7 194.2" fill="#485bef"/>
<path d="M287.2 190.4L289.4 192.7L292.4 192L290.2 189.6" fill="#416fee"/>
<path d="M164.8 110.3L166.8 114.7L170.1 115.9L168 111.5" fill="#cde692"/>
<path d="M307.9 196.5L310 198.8L313 198L310.9 195.7" fill="#4b53f0"/>
<path d="M282 188.7L284.2 191.1L287.2 190.4L285.1 188" fill="#3e77ed"/>
<path d="M210.6 157.8L212.7 160.6L215.8 160.3L213.7 157.5" fill="#5ddfd8"/>
<path d="M313 198L315.2 200.3L318.2 199.4L316 197.1" fill="#4d4df0"/>
<path d="M276.9 187.1L279 189.4L282 188.7L279.9 186.4" fill="#3d7ced"/>
<path d="M318.2 199.4L320.4 201.7L323.4 200.8L321.2 198.5" fill="#5048f0"/>
<path d="M372.9 211.1L375.2 213.3L378.1 212.3L375.9 210.1" fill="#6811f1"/>
<path d="M198.2 149L200.2 152L203.4 152.1L201.3 149.1" fill="#74efcf"/>
<path d="M228.2 167.6L230.3 170.2L233.4 169.7L231.3 167.1" fill="#41c5e1"/>
<path d="M271.7 185.3L273.8 187.7L276.9 187.1L274.7 184.7" fill="#3a84ec"/>
<path d="M323.4 200.8L325.6 203.1L328.6 202.2L326.4 199.9" fill="#5242f1"/>
<path d="M176.3 127.7L178.3 131.3L181.5 132L179.5 128.4" fill="#a7fbb1"/>
<path d="M266.5 183.6L268.7 186L271.7 185.3L269.6 182.9" fill="#388beb"/>
<path d="M328.6 202.2L330.8 204.4L333.7 203.5L331.5 201.2" fill="#543cf1"/>
<path d="M378.1 212.3L380.4 214.5L383.3 213.4L381.1 211.3" fill="#690ef1"/>
<path d="M261.4 181.7L263.5 184.2L266.5 183.6L264.4 181.1" fill="#3693ea"/>
<path d="M333.7 203.5L335.9 205.7L338.9 204.8L336.7 202.6" fill="#5737f1"/>
<path d="M223.1 165.4L225.1 168.1L228.2 167.6L226.2 164.9" fill="#49cddf"/>
<path d="M166.8 114.7L168.9 118.8L172.2 120.1L170.1 115.9" fill="#c4ed99"/>
<path d="M383.3 213.4L385.6 215.6L388.5 214.5L386.2 212.4" fill="#6c09f1"/>
<path d="M338.9 204.8L341.1 207L344.1 206.1L341.9 203.8" fill="#5931f1"/>
<path d="M256.2 179.8L258.3 182.3L261.4 181.7L259.3 179.3" fill="#339ce9"/>
<path d="M205.4 155L207.5 157.8L210.6 157.8L208.6 154.9" fill="#65e5d5"/>
<path d="M344.1 206.1L346.3 208.3L349.3 207.3L347 205.1" fill="#5c2bf1"/>
<path d="M251 178L253.1 180.5L256.2 179.8L254.1 177.4" fill="#31a3e8"/>
<path d="M349.3 207.3L351.5 209.5L354.4 208.6L352.2 206.4" fill="#5f25f1"/>
<path d="M217.9 163.1L220 165.8L223.1 165.4L221 162.7" fill="#50d4dc"/>
<path d="M245.9 176.1L248 178.7L251 178L248.9 175.5" fill="#2faae6"/>
<path d="M185.7 138.8L187.7 142L190.9 142.5L188.8 139.3" fill="#8ffac1"/>
<path d="M354.4 208.6L356.7 210.8L359.6 209.8L357.4 207.6" fill="#6022f1"/>
<path d="M192.9 145.6L195 148.7L198.2 149L196.1 145.9" fill="#7ef4ca"/>
<path d="M240.7 174.2L242.8 176.8L245.9 176.1L243.8 173.6" fill="#30b3e5"/>
<path d="M168.9 118.8L171 122.8L174.2 124L172.2 120.1" fill="#bcf2a1"/>
<path d="M178.3 131.3L180.4 134.8L183.6 135.5L181.5 132" fill="#a1fbb5"/>
<path d="M359.6 209.8L361.9 212L364.8 211L362.6 208.8" fill="#631df1"/>
<path d="M235.5 172.3L237.6 174.9L240.7 174.2L238.6 171.7" fill="#36b9e3"/>
<path d="M212.7 160.6L214.8 163.3L217.9 163.1L215.8 160.3" fill="#57dada"/>
<path d="M200.2 152L202.3 154.9L205.4 155L203.4 152.1" fill="#70ecd1"/>
<path d="M364.8 211L367.1 213.2L370 212.2L367.8 210" fill="#6517f1"/>
<path d="M294.5 194.3L296.7 196.6L299.7 195.8L297.5 193.5" fill="#4564ef"/>
<path d="M299.7 195.8L301.9 198.2L304.9 197.4L302.7 195.1" fill="#475eef"/>
<path d="M289.4 192.7L291.5 195.1L294.5 194.3L292.4 192" fill="#426cee"/>
<path d="M304.9 197.4L307 199.7L310 198.8L307.9 196.5" fill="#4a56f0"/>
<path d="M284.2 191.1L286.3 193.4L289.4 192.7L287.2 190.4" fill="#4071ee"/>
<path d="M230.3 170.2L232.4 172.8L235.5 172.3L233.4 169.7" fill="#3dc1e2"/>
<path d="M370 212.2L372.2 214.3L375.2 213.3L372.9 211.1" fill="#6714f1"/>
<path d="M310 198.8L312.2 201.1L315.2 200.3L313 198" fill="#4c50f0"/>
<path d="M279 189.4L281.1 191.8L284.2 191.1L282 188.7" fill="#3e79ed"/>
<path d="M315.2 200.3L317.4 202.5L320.4 201.7L318.2 199.4" fill="#4f4af0"/>
<path d="M273.8 187.7L276 190.1L279 189.4L276.9 187.1" fill="#3b81ec"/>
<path d="M320.4 201.7L322.6 203.9L325.6 203.1L323.4 200.8" fill="#5145f0"/>
<path d="M375.2 213.3L377.4 215.5L380.4 214.5L378.1 212.3" fill="#690ef1"/>
<path d="M268.7 186L270.8 188.4L273.8 187.7L271.7 185.3" fill="#3989eb"/>
<path d="M325.6 203.1L327.8 205.3L330.8 204.4L328.6 202.2" fill="#533ff1"/>
<path d="M225.1 168.1L227.2 170.7L230.3 170.2L228.2 167.6" fill="#43c7e0"/>
<path d="M171 122.8L173.1 126.5L176.3 127.7L174.2 124" fill="#b5f6a6"/>
<path d="M207.5 157.8L209.6 160.6L212.7 160.6L210.6 157.8" fill="#60e1d7"/>
<path d="M330.8 204.4L333 206.6L335.9 205.7L333.7 203.5" fill="#5639f1"/>
<path d="M263.5 184.2L265.6 186.6L268.7 186L266.5 183.6" fill="#3690ea"/>
<path d="M380.4 214.5L382.6 216.6L385.6 215.6L383.3 213.4" fill="#6b0cf1"/>
<path d="M187.7 142L189.8 145.2L192.9 145.6L190.9 142.5" fill="#89f9c4"/>
<path d="M335.9 205.7L338.1 208L341.1 207L338.9 204.8" fill="#5834f1"/>
<path d="M258.3 182.3L260.4 184.8L263.5 184.2L261.4 181.7" fill="#3498e9"/>
<path d="M180.4 134.8L182.5 138.1L185.7 138.8L183.6 135.5" fill="#9bfcb9"/>
<path d="M341.1 207L343.3 209.2L346.3 208.3L344.1 206.1" fill="#5b2ef1"/>
<path d="M195 148.7L197.1 151.7L200.2 152L198.2 149" fill="#79f2cc"/>
<path d="M385.6 215.6L387.8 217.8L390.8 216.7L388.5 214.5" fill="#6e06f1"/>
<path d="M220 165.8L222 168.5L225.1 168.1L223.1 165.4" fill="#4cd0dd"/>
<path d="M253.1 180.5L255.2 183L258.3 182.3L256.2 179.8" fill="#329fe8"/>
<path d="M346.3 208.3L348.5 210.5L351.5 209.5L349.3 207.3" fill="#5d28f1"/>
<path d="M248 178.7L250.1 181.1L253.1 180.5L251 178" fill="#30a6e7"/>
<path d="M351.5 209.5L353.7 211.7L356.7 210.8L354.4 208.6" fill="#6022f1"/>
<path d="M242.8 176.8L244.9 179.3L248 178.7L245.9 176.1" fill="#2eaee6"/>
<path d="M161.5 108.9L163.6 113.3L166.8 114.7L164.8 110.3" fill="#d5de8a"/>
<path d="M202.3 154.9L204.3 157.7L207.5 157.8L205.4 155" fill="#6ae9d3"/>
<path d="M356.7 210.8L358.9 213L361.9 212L359.6 209.8" fill="#6120f1"/>
<path d="M214.8 163.3L216.8 166L220 165.8L217.9 163.1" fill="#54d7db"/>
<path d="M173.1 126.5L175.1 130.1L178.3 131.3L176.3 127.7" fill="#aef9ac"/>
<path d="M237.6 174.9L239.7 177.4L242.8 176.8L240.7 174.2" fill="#32b5e4"/>
<path d="M361.9 212L364.1 214.2L367.1 213.2L364.8 211" fill="#641af1"/>
<path d="M232.4 172.8L234.5 175.4L237.6 174.9L235.5 172.3" fill="#3abde3"/>
<path d="M367.1 213.2L369.3 215.4L372.2 214.3L370 212.2" fill="#6714f1"/>
<path d="M296.7 196.6L298.8 198.9L301.9 198.2L299.7 195.8" fill="#4661ef"/>
<path d="M291.5 195.1L293.7 197.4L296.7 196.6L294.5 194.3" fill="#4466ef"/>
<path d="M163.6 113.3L165.7 117.4L168.9 118.8L166.8 114.7" fill="#cde692"/>
<path d="M301.9 198.2L304 200.5L307 199.7L304.9 197.4" fill="#4959ef"/>
<path d="M286.3 193.4L288.5 195.8L291.5 195.1L289.4 192.7" fill="#416fee"/>
<path d="M307 199.7L309.2 201.9L312.2 201.1L310 198.8" fill="#4b53f0"/>
<path d="M189.8 145.2L191.8 148.2L195 148.7L192.9 145.6" fill="#85f7c7"/>
<path d="M281.1 191.8L283.3 194.2L286.3 193.4L284.2 191.1" fill="#3e77ed"/>
<path d="M312.2 201.1L314.4 203.4L317.4 202.5L315.2 200.3" fill="#4d4df0"/>
<path d="M182.5 138.1L184.5 141.3L187.7 142L185.7 138.8" fill="#95fbbd"/>
<path d="M209.6 160.6L211.6 163.4L214.8 163.3L212.7 160.6" fill="#5ddfd8"/>
<path d="M372.2 214.3L374.5 216.5L377.4 215.5L375.2 213.3" fill="#6811f1"/>
<path d="M276 190.1L278.1 192.5L281.1 191.8L279 189.4" fill="#3d7ced"/>
<path d="M317.4 202.5L319.6 204.8L322.6 203.9L320.4 201.7" fill="#5048f0"/>
<path d="M227.2 170.7L229.3 173.3L232.4 172.8L230.3 170.2" fill="#3fc3e1"/>
<path d="M270.8 188.4L272.9 190.8L276 190.1L273.8 187.7" fill="#3a84ec"/>
<path d="M322.6 203.9L324.8 206.2L327.8 205.3L325.6 203.1" fill="#5242f1"/>
<path d="M197.1 151.7L199.1 154.6L202.3 154.9L200.2 152" fill="#74efcf"/>
<path d="M327.8 205.3L330 207.5L333 206.6L330.8 204.4" fill="#543cf1"/>
<path d="M377.4 215.5L379.7 217.7L382.6 216.6L380.4 214.5" fill="#6b0cf1"/>
<path d="M265.6 186.6L267.7 189L270.8 188.4L268.7 186" fill="#388beb"/>
<path d="M333 206.6L335.2 208.9L338.1 208L335.9 205.7" fill="#5737f1"/>
<path d="M260.4 184.8L262.5 187.2L265.6 186.6L263.5 184.2" fill="#3693ea"/>
<path d="M222 168.5L224.1 171.1L227.2 170.7L225.1 168.1" fill="#47cbdf"/>
<path d="M175.1 130.1L177.2 133.5L180.4 134.8L178.3 131.3" fill="#a9fab0"/>
<path d="M382.6 216.6L384.9 218.8L387.8 217.8L385.6 215.6" fill="#6c09f1"/>
<path d="M338.1 208L340.4 210.2L343.3 209.2L341.1 207" fill="#5931f1"/>
<path d="M165.7 117.4L167.7 121.4L171 122.8L168.9 118.8" fill="#c4ed99"/>
<path d="M255.2 183L257.4 185.4L260.4 184.8L258.3 182.3" fill="#339ce9"/>
<path d="M343.3 209.2L345.5 211.5L348.5 210.5L346.3 208.3" fill="#5c2bf1"/>
<path d="M204.3 157.7L206.4 160.5L209.6 160.6L207.5 157.8" fill="#65e5d5"/>
<path d="M250.1 181.1L252.2 183.6L255.2 183L253.1 180.5" fill="#31a3e8"/>
<path d="M387.8 217.8L390.1 219.9L393 218.9L390.8 216.7" fill="#6e06f1"/>
<path d="M348.5 210.5L350.7 212.7L353.7 211.7L351.5 209.5" fill="#5f25f1"/>
<path d="M244.9 179.3L247 181.8L250.1 181.1L248 178.7" fill="#2faae6"/>
<path d="M216.8 166L218.9 168.7L222 168.5L220 165.8" fill="#50d4dc"/>
<path d="M353.7 211.7L355.9 213.9L358.9 213L356.7 210.8" fill="#6120f1"/>
<path d="M239.7 177.4L241.8 179.9L244.9 179.3L242.8 176.8" fill="#2eb1e5"/>
<path d="M184.5 141.3L186.6 144.5L189.8 145.2L187.7 142" fill="#91fac0"/>
<path d="M358.9 213L361.1 215.2L364.1 214.2L361.9 212" fill="#631df1"/>
<path d="M191.8 148.2L193.9 151.2L197.1 151.7L195 148.7" fill="#80f5c9"/>
<path d="M234.5 175.4L236.6 178L239.7 177.4L237.6 174.9" fill="#36b9e3"/>
<path d="M167.7 121.4L169.8 125.1L173.1 126.5L171 122.8" fill="#bef19f"/>
<path d="M364.1 214.2L366.3 216.4L369.3 215.4L367.1 213.2" fill="#6517f1"/>
<path d="M211.6 163.4L213.7 166.1L216.8 166L214.8 163.3" fill="#59dcd9"/>
<path d="M177.2 133.5L179.2 136.9L182.5 138.1L180.4 134.8" fill="#a3fbb4"/>
<path d="M199.1 154.6L201.2 157.4L204.3 157.7L202.3 154.9" fill="#71edd0"/>
<path d="M293.7 197.4L295.8 199.7L298.8 198.9L296.7 196.6" fill="#4564ef"/>
<path d="M298.8 198.9L301 201.2L304 200.5L301.9 198.2" fill="#475eef"/>
<path d="M229.3 173.3L231.4 175.9L234.5 175.4L232.4 172.8" fill="#3cbfe2"/>
<path d="M288.5 195.8L290.6 198.1L293.7 197.4L291.5 195.1" fill="#426cee"/>
<path d="M369.3 215.4L371.6 217.5L374.5 216.5L372.2 214.3" fill="#6714f1"/>
<path d="M304 200.5L306.2 202.7L309.2 201.9L307 199.7" fill="#4a56f0"/>
<path d="M283.3 194.2L285.4 196.5L288.5 195.8L286.3 193.4" fill="#4071ee"/>
<path d="M309.2 201.9L311.4 204.2L314.4 203.4L312.2 201.1" fill="#4c50f0"/>
<path d="M278.1 192.5L280.2 194.8L283.3 194.2L281.1 191.8" fill="#3e79ed"/>
<path d="M314.4 203.4L316.6 205.7L319.6 204.8L317.4 202.5" fill="#4f4af0"/>
<path d="M319.6 204.8L321.8 207.1L324.8 206.2L322.6 203.9" fill="#5145f0"/>
<path d="M272.9 190.8L275 193.1L278.1 192.5L276 190.1" fill="#3b81ec"/>
<path d="M374.5 216.5L376.8 218.7L379.7 217.7L377.4 215.5" fill="#690ef1"/>
<path d="M324.8 206.2L327 208.4L330 207.5L327.8 205.3" fill="#533ff1"/>
<path d="M267.7 189L269.9 191.4L272.9 190.8L270.8 188.4" fill="#3989eb"/>
<path d="M224.1 171.1L226.2 173.7L229.3 173.3L227.2 170.7" fill="#43c7e0"/>
<path d="M330 207.5L332.2 209.8L335.2 208.9L333 206.6" fill="#5639f1"/>
<path d="M158.3 108L160.3 112.4L163.6 113.3L161.5 108.9" fill="#dbd784"/>
<path d="M379.7 217.7L382 219.8L384.9 218.8L382.6 216.6" fill="#6b0cf1"/>
<path d="M262.5 187.2L264.7 189.6L267.7 189L265.6 186.6" fill="#3690ea"/>
<path d="M335.2 208.9L337.4 211.1L340.4 210.2L338.1 208" fill="#5834f1"/>
<path d="M206.4 160.5L208.5 163.3L211.6 163.4L209.6 160.6" fill="#62e3d6"/>
<path d="M257.4 185.4L259.5 187.8L262.5 187.2L260.4 184.8" fill="#3498e9"/>
<path d="M169.8 125.1L171.9 128.7L175.1 130.1L173.1 126.5" fill="#b7f5a5"/>
<path d="M340.4 210.2L342.6 212.4L345.5 211.5L343.3 209.2" fill="#5b2ef1"/>
<path d="M384.9 218.8L387.2 221L390.1 219.9L387.8 217.8" fill="#6e06f1"/>
<path d="M252.2 183.6L254.3 186.1L257.4 185.4L255.2 183" fill="#329fe8"/>
<path d="M218.9 168.7L221 171.4L224.1 171.1L222 168.5" fill="#4cd0dd"/>
<path d="M186.6 144.5L188.6 147.5L191.8 148.2L189.8 145.2" fill="#8bf9c3"/>
<path d="M345.5 211.5L347.8 213.7L350.7 212.7L348.5 210.5" fill="#5d28f1"/>
<path d="M247 181.8L249.1 184.3L252.2 183.6L250.1 181.1" fill="#30a6e7"/>
<path d="M193.9 151.2L195.9 154.1L199.1 154.6L197.1 151.7" fill="#7bf3cc"/>
<path d="M160.3 112.4L162.4 116.5L165.7 117.4L163.6 113.3" fill="#d3df8c"/>
<path d="M350.7 212.7L353 214.9L355.9 213.9L353.7 211.7" fill="#6022f1"/>
<path d="M179.2 136.9L181.3 140.1L184.5 141.3L182.5 138.1" fill="#9dfcb8"/>
<path d="M241.8 179.9L243.9 182.4L247 181.8L244.9 179.3" fill="#2face6"/>
<path d="M355.9 213.9L358.2 216.2L361.1 215.2L358.9 213" fill="#6120f1"/>
<path d="M236.6 178L238.7 180.5L241.8 179.9L239.7 177.4" fill="#32b5e4"/>
<path d="M213.7 166.1L215.8 168.8L218.9 168.7L216.8 166" fill="#54d7db"/>
<path d="M201.2 157.4L203.3 160.3L206.4 160.5L204.3 157.7" fill="#6cead2"/>
<path d="M361.1 215.2L363.4 217.4L366.3 216.4L364.1 214.2" fill="#641af1"/>
<path d="M231.4 175.9L233.5 178.4L236.6 178L234.5 175.4" fill="#38bbe3"/>
<path d="M366.3 216.4L368.6 218.5L371.6 217.5L369.3 215.4" fill="#6714f1"/>
<path d="M171.9 128.7L173.9 132.2L177.2 133.5L175.1 130.1" fill="#b1f8aa"/>
<path d="M295.8 199.7L298 202L301 201.2L298.8 198.9" fill="#4661ef"/>
<path d="M162.4 116.5L164.5 120.4L167.7 121.4L165.7 117.4" fill="#cde692"/>
<path d="M301 201.2L303.2 203.5L306.2 202.7L304 200.5" fill="#4959ef"/>
<path d="M290.6 198.1L292.8 200.4L295.8 199.7L293.7 197.4" fill="#4466ef"/>
<path d="M306.2 202.7L308.4 205L311.4 204.2L309.2 201.9" fill="#4b53f0"/>
<path d="M285.4 196.5L287.6 198.8L290.6 198.1L288.5 195.8" fill="#416fee"/>
<path d="M311.4 204.2L313.6 206.5L316.6 205.7L314.4 203.4" fill="#4d4df0"/>
<path d="M280.2 194.8L282.4 197.2L285.4 196.5L283.3 194.2" fill="#3e77ed"/>
<path d="M371.6 217.5L373.8 219.7L376.8 218.7L374.5 216.5" fill="#6811f1"/>
<path d="M316.6 205.7L318.8 207.9L321.8 207.1L319.6 204.8" fill="#5048f0"/>
<path d="M275 193.1L277.2 195.5L280.2 194.8L278.1 192.5" fill="#3c7eed"/>
<path d="M226.2 173.7L228.3 176.3L231.4 175.9L229.3 173.3" fill="#3fc3e1"/>
<path d="M321.8 207.1L324 209.3L327 208.4L324.8 206.2" fill="#5242f1"/>
<path d="M208.5 163.3L210.6 166L213.7 166.1L211.6 163.4" fill="#5ee0d8"/>
<path d="M269.9 191.4L272 193.8L275 193.1L272.9 190.8" fill="#3a84ec"/>
<path d="M376.8 218.7L379 220.9L382 219.8L379.7 217.7" fill="#6b0cf1"/>
<path d="M327 208.4L329.2 210.7L332.2 209.8L330 207.5" fill="#543cf1"/>
<path d="M188.6 147.5L190.7 150.5L193.9 151.2L191.8 148.2" fill="#86f8c6"/>
<path d="M264.7 189.6L266.8 192L269.9 191.4L267.7 189" fill="#388beb"/>
<path d="M332.2 209.8L334.4 212L337.4 211.1L335.2 208.9" fill="#5737f1"/>
<path d="M181.3 140.1L183.4 143.3L186.6 144.5L184.5 141.3" fill="#98fbbb"/>
<path d="M259.5 187.8L261.6 190.2L264.7 189.6L262.5 187.2" fill="#3595ea"/>
<path d="M382 219.8L384.2 222L387.2 221L384.9 218.8" fill="#6c09f1"/>
<path d="M195.9 154.1L198 157L201.2 157.4L199.1 154.6" fill="#76f0ce"/>
<path d="M337.4 211.1L339.6 213.3L342.6 212.4L340.4 210.2" fill="#5931f1"/>
<path d="M221 171.4L223.1 174L226.2 173.7L224.1 171.1" fill="#49cddf"/>
<path d="M254.3 186.1L256.4 188.5L259.5 187.8L257.4 185.4" fill="#339ce9"/>
<path d="M342.6 212.4L344.8 214.6L347.8 213.7L345.5 211.5" fill="#5c2bf1"/>
<path d="M249.1 184.3L251.2 186.7L254.3 186.1L252.2 183.6" fill="#31a3e8"/>
<path d="M164.5 120.4L166.6 124.2L169.8 125.1L167.7 121.4" fill="#c6ec98"/>
<path d="M347.8 213.7L350 215.9L353 214.9L350.7 212.7" fill="#5f25f1"/>
<path d="M155.1 108.5L157.1 112.6L160.3 112.4L158.3 108" fill="#e1d07f"/>
<path d="M243.9 182.4L246 184.9L249.1 184.3L247 181.8" fill="#2faae6"/>
<path d="M173.9 132.2L176 135.5L179.2 136.9L177.2 133.5" fill="#abfaae"/>
<path d="M203.3 160.3L205.3 163L208.5 163.3L206.4 160.5" fill="#67e7d4"/>
<path d="M353 214.9L355.2 217.1L358.2 216.2L355.9 213.9" fill="#6120f1"/>
<path d="M215.8 168.8L217.9 171.5L221 171.4L218.9 168.7" fill="#50d4dc"/>
<path d="M238.7 180.5L240.8 183L243.9 182.4L241.8 179.9" fill="#2eb1e5"/>
<path d="M358.2 216.2L360.4 218.3L363.4 217.4L361.1 215.2" fill="#631df1"/>
<path d="M233.5 178.4L235.6 181L238.7 180.5L236.6 178" fill="#36b9e3"/>
<path d="M363.4 217.4L365.6 219.6L368.6 218.5L366.3 216.4" fill="#6517f1"/>
<path d="M157.1 112.6L159.2 116.6L162.4 116.5L160.3 112.4" fill="#d9da87"/>
<path d="M190.7 150.5L192.8 153.5L195.9 154.1L193.9 151.2" fill="#81f6c8"/>
<path d="M368.6 218.5L370.9 220.7L373.8 219.7L371.6 217.5" fill="#6811f1"/>
<path d="M298 202L300.1 204.3L303.2 203.5L301 201.2" fill="#475eef"/>
<path d="M292.8 200.4L294.9 202.7L298 202L295.8 199.7" fill="#4564ef"/>
<path d="M166.6 124.2L168.6 127.8L171.9 128.7L169.8 125.1" fill="#bff19e"/>
<path d="M183.4 143.3L185.4 146.4L188.6 147.5L186.6 144.5" fill="#94fbbe"/>
<path d="M303.2 203.5L305.3 205.8L308.4 205L306.2 202.7" fill="#4a56f0"/>
<path d="M228.3 176.3L230.4 178.8L233.5 178.4L231.4 175.9" fill="#3cbfe2"/>
<path d="M287.6 198.8L289.7 201.1L292.8 200.4L290.6 198.1" fill="#426cee"/>
<path d="M210.6 166L212.6 168.7L215.8 168.8L213.7 166.1" fill="#59dcd9"/>
<path d="M308.4 205L310.6 207.3L313.6 206.5L311.4 204.2" fill="#4c50f0"/>
<path d="M282.4 197.2L284.5 199.5L287.6 198.8L285.4 196.5" fill="#4071ee"/>
<path d="M313.6 206.5L315.8 208.8L318.8 207.9L316.6 205.7" fill="#4f4af0"/>
<path d="M277.2 195.5L279.3 197.8L282.4 197.2L280.2 194.8" fill="#3e79ed"/>
<path d="M318.8 207.9L321 210.2L324 209.3L321.8 207.1" fill="#5145f0"/>
<path d="M373.8 219.7L376.1 221.9L379 220.9L376.8 218.7" fill="#690ef1"/>
<path d="M272 193.8L274.1 196.1L277.2 195.5L275 193.1" fill="#3b81ec"/>
<path d="M198 157L200.1 159.8L203.3 160.3L201.2 157.4" fill="#73eecf"/>
<path d="M324 209.3L326.2 211.6L329.2 210.7L327 208.4" fill="#543cf1"/>
<path d="M266.8 192L268.9 194.4L272 193.8L269.9 191.4" fill="#3989eb"/>
<path d="M329.2 210.7L331.4 212.9L334.4 212L332.2 209.8" fill="#5737f1"/>
<path d="M223.1 174L225.2 176.5L228.3 176.3L226.2 173.7" fill="#45c9e0"/>
<path d="M379 220.9L381.3 223.1L384.2 222L382 219.8" fill="#6c09f1"/>
<path d="M176 135.5L178.1 138.8L181.3 140.1L179.2 136.9" fill="#a6fbb2"/>
<path d="M261.6 190.2L263.7 192.6L266.8 192L264.7 189.6" fill="#3690ea"/>
<path d="M334.4 212L336.6 214.3L339.6 213.3L337.4 211.1" fill="#5834f1"/>
<path d="M256.4 188.5L258.5 190.9L261.6 190.2L259.5 187.8" fill="#3498e9"/>
<path d="M159.2 116.6L161.3 120.4L164.5 120.4L162.4 116.5" fill="#d2e18d"/>
<path d="M339.6 213.3L341.8 215.6L344.8 214.6L342.6 212.4" fill="#5b2ef1"/>
<path d="M251.2 186.7L253.3 189.2L256.4 188.5L254.3 186.1" fill="#329fe8"/>
<path d="M205.3 163L207.4 165.8L210.6 166L208.5 163.3" fill="#64e4d6"/>
<path d="M344.8 214.6L347 216.8L350 215.9L347.8 213.7" fill="#5d28f1"/>
<path d="M246 184.9L248.1 187.3L251.2 186.7L249.1 184.3" fill="#30a6e7"/>
<path d="M217.9 171.5L219.9 174.1L223.1 174L221 171.4" fill="#4cd0dd"/>
<path d="M350 215.9L352.2 218.1L355.2 217.1L353 214.9" fill="#6022f1"/>
<path d="M168.6 127.8L170.7 131.2L173.9 132.2L171.9 128.7" fill="#b9f4a3"/>
<path d="M240.8 183L242.9 185.5L246 184.9L243.9 182.4" fill="#2face6"/>
<path d="M355.2 217.1L357.5 219.3L360.4 218.3L358.2 216.2" fill="#631df1"/>
<path d="M185.4 146.4L187.5 149.4L190.7 150.5L188.6 147.5" fill="#8efac2"/>
<path d="M235.6 181L237.7 183.5L240.8 183L238.7 180.5" fill="#32b5e4"/>
<path d="M192.8 153.5L194.8 156.3L198 157L195.9 154.1" fill="#7ef4ca"/>
<path d="M151.8 108.3L153.9 112.3L157.1 112.6L155.1 108.5" fill="#e4cd7c"/>
<path d="M360.4 218.3L362.7 220.5L365.6 219.6L363.4 217.4" fill="#641af1"/>
<path d="M161.3 120.4L163.3 124L166.6 124.2L164.5 120.4" fill="#cbe793"/>
<path d="M212.6 168.7L214.7 171.4L217.9 171.5L215.8 168.8" fill="#56d8db"/>
<path d="M365.6 219.6L367.9 221.7L370.9 220.7L368.6 218.5" fill="#6714f1"/>
<path d="M230.4 178.8L232.5 181.4L235.6 181L233.5 178.4" fill="#3abde3"/>
<path d="M178.1 138.8L180.1 141.9L183.4 143.3L181.3 140.1" fill="#a1fbb5"/>
<path d="M200.1 159.8L202.1 162.6L205.3 163L203.3 160.3" fill="#6eebd2"/>
<path d="M294.9 202.7L297.1 205L300.1 204.3L298 202" fill="#4661ef"/>
<path d="M300.1 204.3L302.3 206.6L305.3 205.8L303.2 203.5" fill="#485bef"/>
<path d="M289.7 201.1L291.9 203.5L294.9 202.7L292.8 200.4" fill="#4369ee"/>
<path d="M305.3 205.8L307.5 208.1L310.6 207.3L308.4 205" fill="#4b53f0"/>
<path d="M370.9 220.7L373.1 222.9L376.1 221.9L373.8 219.7" fill="#6811f1"/>
<path d="M284.5 199.5L286.7 201.8L289.7 201.1L287.6 198.8" fill="#416fee"/>
<path d="M310.6 207.3L312.7 209.6L315.8 208.8L313.6 206.5" fill="#4d4df0"/>
<path d="M279.3 197.8L281.5 200.2L284.5 199.5L282.4 197.2" fill="#3e77ed"/>
<path d="M315.8 208.8L318 211L321 210.2L318.8 207.9" fill="#5048f0"/>
<path d="M274.1 196.1L276.3 198.5L279.3 197.8L277.2 195.5" fill="#3c7eed"/>
<path d="M321 210.2L323.2 212.4L326.2 211.6L324 209.3" fill="#5242f1"/>
<path d="M225.2 176.5L227.2 179.1L230.4 178.8L228.3 176.3" fill="#41c5e1"/>
<path d="M376.1 221.9L378.4 224.1L381.3 223.1L379 220.9" fill="#6b0cf1"/>
<path d="M268.9 194.4L271.1 196.7L274.1 196.1L272 193.8" fill="#3986ec"/>
<path d="M326.2 211.6L328.4 213.8L331.4 212.9L329.2 210.7" fill="#5639f1"/>
<path d="M153.9 112.3L156 116.1L159.2 116.6L157.1 112.6" fill="#ddd583"/>
<path d="M170.7 131.2L172.8 134.6L176 135.5L173.9 132.2" fill="#b4f7a7"/>
<path d="M263.7 192.6L265.9 195L268.9 194.4L266.8 192" fill="#378eeb"/>
<path d="M331.4 212.9L333.6 215.2L336.6 214.3L334.4 212" fill="#5834f1"/>
<path d="M258.5 190.9L260.6 193.3L263.7 192.6L261.6 190.2" fill="#3595ea"/>
<path d="M207.4 165.8L209.5 168.5L212.6 168.7L210.6 166" fill="#60e1d7"/>
<path d="M336.6 214.3L338.8 216.5L341.8 215.6L339.6 213.3" fill="#5931f1"/>
<path d="M253.3 189.2L255.4 191.6L258.5 190.9L256.4 188.5" fill="#349ae9"/>
<path d="M341.8 215.6L344 217.8L347 216.8L344.8 214.6" fill="#5c2bf1"/>
<path d="M163.3 124L165.4 127.4L168.6 127.8L166.6 124.2" fill="#c4ed99"/>
<path d="M219.9 174.1L222 176.7L225.2 176.5L223.1 174" fill="#49cddf"/>
<path d="M248.1 187.3L250.2 189.8L253.3 189.2L251.2 186.7" fill="#31a3e8"/>
<path d="M187.5 149.4L189.5 152.3L192.8 153.5L190.7 150.5" fill="#8bf9c3"/>
<path d="M347 216.8L349.3 219L352.2 218.1L350 215.9" fill="#5f25f1"/>
<path d="M242.9 185.5L245 187.9L248.1 187.3L246 184.9" fill="#2faae6"/>
<path d="M194.8 156.3L196.9 159.2L200.1 159.8L198 157" fill="#79f2cc"/>
<path d="M352.2 218.1L354.5 220.3L357.5 219.3L355.2 217.1" fill="#6120f1"/>
<path d="M180.1 141.9L182.2 145L185.4 146.4L183.4 143.3" fill="#9dfcb8"/>
<path d="M156 116.1L158 119.7L161.3 120.4L159.2 116.6" fill="#d6dd89"/>
<path d="M237.7 183.5L239.8 186L242.9 185.5L240.8 183" fill="#2eb1e5"/>
<path d="M357.5 219.3L359.7 221.5L362.7 220.5L360.4 218.3" fill="#631df1"/>
<path d="M214.7 171.4L216.8 174L219.9 174.1L217.9 171.5" fill="#52d5dc"/>
<path d="M202.1 162.6L204.2 165.3L207.4 165.8L205.3 163" fill="#6ae9d3"/>
<path d="M362.7 220.5L364.9 222.7L367.9 221.7L365.6 219.6" fill="#6517f1"/>
<path d="M172.8 134.6L174.8 137.8L178.1 138.8L176 135.5" fill="#aef9ac"/>
<path d="M232.5 181.4L234.6 183.9L237.7 183.5L235.6 181" fill="#36b9e3"/>
<path d="M367.9 221.7L370.2 223.9L373.1 222.9L370.9 220.7" fill="#6811f1"/>
<path d="M297.1 205L299.3 207.3L302.3 206.6L300.1 204.3" fill="#475eef"/>
<path d="M291.9 203.5L294.1 205.8L297.1 205L294.9 202.7" fill="#4564ef"/>
<path d="M302.3 206.6L304.5 208.9L307.5 208.1L305.3 205.8" fill="#4a56f0"/>
<path d="M165.4 127.4L167.5 130.8L170.7 131.2L168.6 127.8" fill="#bff19e"/>
<path d="M286.7 201.8L288.9 204.2L291.9 203.5L289.7 201.1" fill="#426cee"/>
<path d="M307.5 208.1L309.7 210.4L312.7 209.6L310.6 207.3" fill="#4c50f0"/>
<path d="M227.2 179.1L229.3 181.6L232.5 181.4L230.4 178.8" fill="#3dc1e2"/>
<path d="M281.5 200.2L283.6 202.5L286.7 201.8L284.5 199.5" fill="#3f74ee"/>
<path d="M312.7 209.6L314.9 211.8L318 211L315.8 208.8" fill="#4f4af0"/>
<path d="M373.1 222.9L375.4 225.1L378.4 224.1L376.1 221.9" fill="#690ef1"/>
<path d="M318 211L320.2 213.3L323.2 212.4L321 210.2" fill="#5145f0"/>
<path d="M276.3 198.5L278.4 200.8L281.5 200.2L279.3 197.8" fill="#3e79ed"/>
<path d="M323.2 212.4L325.4 214.7L328.4 213.8L326.2 211.6" fill="#533ff1"/>
<path d="M271.1 196.7L273.2 199.1L276.3 198.5L274.1 196.1" fill="#3b81ec"/>
<path d="M209.5 168.5L211.5 171.1L214.7 171.4L212.6 168.7" fill="#5ddfd8"/>
<path d="M148.5 107.1L150.6 111L153.9 112.3L151.8 108.3" fill="#eac375"/>
<path d="M328.4 213.8L330.6 216L333.6 215.2L331.4 212.9" fill="#5737f1"/>
<path d="M158 119.7L160.1 123.2L163.3 124L161.3 120.4" fill="#d1e28e"/>
<path d="M265.9 195L268 197.4L271.1 196.7L268.9 194.4" fill="#3989eb"/>
<path d="M260.6 193.3L262.8 195.7L265.9 195L263.7 192.6" fill="#3690ea"/>
<path d="M333.6 215.2L335.8 217.4L338.8 216.5L336.6 214.3" fill="#5834f1"/>
<path d="M189.5 152.3L191.6 155.2L194.8 156.3L192.8 153.5" fill="#86f8c6"/>
<path d="M222 176.7L224.1 179.2L227.2 179.1L225.2 176.5" fill="#45c9e0"/>
<path d="M255.4 191.6L257.6 194L260.6 193.3L258.5 190.9" fill="#3498e9"/>
<path d="M338.8 216.5L341 218.7L344 217.8L341.8 215.6" fill="#5b2ef1"/>
<path d="M182.2 145L184.2 148L187.5 149.4L185.4 146.4" fill="#97fbbc"/>
<path d="M196.9 159.2L199 161.9L202.1 162.6L200.1 159.8" fill="#76f0ce"/>
<path d="M250.2 189.8L252.3 192.2L255.4 191.6L253.3 189.2" fill="#329fe8"/>
<path d="M344 217.8L346.3 220L349.3 219L347 216.8" fill="#5d28f1"/>
<path d="M245 187.9L247.1 190.4L250.2 189.8L248.1 187.3" fill="#30a6e7"/>
<path d="M174.8 137.8L176.9 140.9L180.1 141.9L178.1 138.8" fill="#a9fab0"/>
<path d="M349.3 219L351.5 221.3L354.5 220.3L352.2 218.1" fill="#6022f1"/>
<path d="M239.8 186L241.9 188.4L245 187.9L242.9 185.5" fill="#2face6"/>
<path d="M354.5 220.3L356.7 222.5L359.7 221.5L357.5 219.3" fill="#631df1"/>
<path d="M167.5 130.8L169.5 134L172.8 134.6L170.7 131.2" fill="#b9f4a3"/>
<path d="M216.8 174L218.9 176.6L222 176.7L219.9 174.1" fill="#4ed2dd"/>
<path d="M204.2 165.3L206.3 168L209.5 168.5L207.4 165.8" fill="#67e7d4"/>
<path d="M150.6 111L152.7 114.8L156 116.1L153.9 112.3" fill="#e4cd7c"/>
<path d="M359.7 221.5L362 223.7L364.9 222.7L362.7 220.5" fill="#641af1"/>
<path d="M234.6 183.9L236.7 186.4L239.8 186L237.7 183.5" fill="#32b5e4"/>
<path d="M160.1 123.2L162.1 126.6L165.4 127.4L163.3 124" fill="#cae895"/>
<path d="M364.9 222.7L367.2 224.9L370.2 223.9L367.9 221.7" fill="#6714f1"/>
<path d="M229.3 181.6L231.4 184.2L234.6 183.9L232.5 181.4" fill="#3abde3"/>
<path d="M370.2 223.9L372.4 226.1L375.4 225.1L373.1 222.9" fill="#690ef1"/>
<path d="M299.3 207.3L301.5 209.6L304.5 208.9L302.3 206.6" fill="#485bef"/>
<path d="M294.1 205.8L296.2 208.1L299.3 207.3L297.1 205" fill="#4661ef"/>
<path d="M304.5 208.9L306.7 211.1L309.7 210.4L307.5 208.1" fill="#4b53f0"/>
<path d="M288.9 204.2L291 206.5L294.1 205.8L291.9 203.5" fill="#4369ee"/>
<path d="M309.7 210.4L311.9 212.6L314.9 211.8L312.7 209.6" fill="#4d4df0"/>
<path d="M283.6 202.5L285.8 204.8L288.9 204.2L286.7 201.8" fill="#416fee"/>
<path d="M211.5 171.1L213.6 173.7L216.8 174L214.7 171.4" fill="#59dcd9"/>
<path d="M314.9 211.8L317.1 214.1L320.2 213.3L318 211" fill="#5048f0"/>
<path d="M278.4 200.8L280.6 203.2L283.6 202.5L281.5 200.2" fill="#3e77ed"/>
<path d="M191.6 155.2L193.7 158L196.9 159.2L194.8 156.3" fill="#81f6c8"/>
<path d="M320.2 213.3L322.4 215.5L325.4 214.7L323.2 212.4" fill="#5242f1"/>
<path d="M184.2 148L186.3 151L189.5 152.3L187.5 149.4" fill="#92fbbf"/>
<path d="M273.2 199.1L275.4 201.4L278.4 200.8L276.3 198.5" fill="#3c7eed"/>
<path d="M325.4 214.7L327.6 216.9L330.6 216L328.4 213.8" fill="#543cf1"/>
<path d="M152.7 114.8L154.7 118.3L158 119.7L156 116.1" fill="#ddd583"/>
<path d="M268 197.4L270.1 199.8L273.2 199.1L271.1 196.7" fill="#3986ec"/>
<path d="M199 161.9L201 164.7L204.2 165.3L202.1 162.6" fill="#71edd0"/>
<path d="M224.1 179.2L226.2 181.8L229.3 181.6L227.2 179.1" fill="#41c5e1"/>
<path d="M330.6 216L332.8 218.3L335.8 217.4L333.6 215.2" fill="#5834f1"/>
<path d="M176.9 140.9L178.9 144L182.2 145L180.1 141.9" fill="#a4fbb3"/>
<path d="M262.8 195.7L264.9 198.1L268 197.4L265.9 195" fill="#378eeb"/>
<path d="M257.6 194L259.7 196.4L262.8 195.7L260.6 193.3" fill="#3595ea"/>
<path d="M335.8 217.4L338 219.6L341 218.7L338.8 216.5" fill="#5931f1"/>
<path d="M169.5 134L171.6 137.2L174.8 137.8L172.8 134.6" fill="#b5f6a6"/>
<path d="M252.3 192.2L254.5 194.6L257.6 194L255.4 191.6" fill="#339ce9"/>
<path d="M341 218.7L343.3 220.9L346.3 220L344 217.8" fill="#5c2bf1"/>
<path d="M162.1 126.6L164.2 129.8L167.5 130.8L165.4 127.4" fill="#c6ec98"/>
<path d="M247.1 190.4L249.2 192.8L252.3 192.2L250.2 189.8" fill="#31a3e8"/>
<path d="M346.3 220L348.5 222.2L351.5 221.3L349.3 219" fill="#5f25f1"/>
<path d="M206.3 168L208.4 170.7L211.5 171.1L209.5 168.5" fill="#62e3d6"/>
<path d="M218.9 176.6L221 179.1L224.1 179.2L222 176.7" fill="#4bcede"/>
<path d="M241.9 188.4L244 190.9L247.1 190.4L245 187.9" fill="#2faae6"/>
<path d="M351.5 221.3L353.7 223.5L356.7 222.5L354.5 220.3" fill="#6120f1"/>
<path d="M356.7 222.5L359 224.7L362 223.7L359.7 221.5" fill="#641af1"/>
<path d="M236.7 186.4L238.8 188.8L241.9 188.4L239.8 186" fill="#2eb1e5"/>
<path d="M154.7 118.3L156.8 121.7L160.1 123.2L158 119.7" fill="#d7db88"/>
<path d="M362 223.7L364.2 225.9L367.2 224.9L364.9 222.7" fill="#6517f1"/>
<path d="M231.4 184.2L233.5 186.6L236.7 186.4L234.6 183.9" fill="#36b9e3"/>
<path d="M193.7 158L195.7 160.8L199 161.9L196.9 159.2" fill="#7ef4ca"/>
<path d="M367.2 224.9L369.5 227.1L372.4 226.1L370.2 223.9" fill="#6811f1"/>
<path d="M186.3 151L188.4 153.8L191.6 155.2L189.5 152.3" fill="#8ffac1"/>
<path d="M213.6 173.7L215.7 176.3L218.9 176.6L216.8 174" fill="#56d8db"/>
<path d="M145.2 104.8L147.2 108.7L150.6 111L148.5 107.1" fill="#f3b66b"/>
<path d="M178.9 144L181 147L184.2 148L182.2 145" fill="#a0fbb6"/>
<path d="M296.2 208.1L298.4 210.4L301.5 209.6L299.3 207.3" fill="#475eef"/>
<path d="M171.6 137.2L173.6 140.2L176.9 140.9L174.8 137.8" fill="#b0f8ab"/>
<path d="M301.5 209.6L303.6 211.9L306.7 211.1L304.5 208.9" fill="#4959ef"/>
<path d="M291 206.5L293.2 208.8L296.2 208.1L294.1 205.8" fill="#4466ef"/>
<path d="M306.7 211.1L308.9 213.4L311.9 212.6L309.7 210.4" fill="#4c50f0"/>
<path d="M285.8 204.8L288 207.1L291 206.5L288.9 204.2" fill="#426cee"/>
<path d="M311.9 212.6L314.1 214.9L317.1 214.1L314.9 211.8" fill="#4f4af0"/>
<path d="M201 164.7L203.1 167.4L206.3 168L204.2 165.3" fill="#6eebd2"/>
<path d="M280.6 203.2L282.7 205.5L285.8 204.8L283.6 202.5" fill="#3f74ee"/>
<path d="M317.1 214.1L319.3 216.3L322.4 215.5L320.2 213.3" fill="#5145f0"/>
<path d="M164.2 129.8L166.3 133L169.5 134L167.5 130.8" fill="#c0f09d"/>
<path d="M275.4 201.4L277.5 203.8L280.6 203.2L278.4 200.8" fill="#3d7ced"/>
<path d="M322.4 215.5L324.6 217.8L327.6 216.9L325.4 214.7" fill="#533ff1"/>
<path d="M226.2 181.8L228.3 184.3L231.4 184.2L229.3 181.6" fill="#3fc3e1"/>
<path d="M270.1 199.8L272.3 202.1L275.4 201.4L273.2 199.1" fill="#3a84ec"/>
<path d="M327.6 216.9L329.8 219.1L332.8 218.3L330.6 216" fill="#5639f1"/>
<path d="M264.9 198.1L267 200.4L270.1 199.8L268 197.4" fill="#3989eb"/>
<path d="M332.8 218.3L335 220.5L338 219.6L335.8 217.4" fill="#5834f1"/>
<path d="M259.7 196.4L261.8 198.7L264.9 198.1L262.8 195.7" fill="#3690ea"/>
<path d="M254.5 194.6L256.6 197L259.7 196.4L257.6 194" fill="#3498e9"/>
<path d="M338 219.6L340.3 221.8L343.3 220.9L341 218.7" fill="#5b2ef1"/>
<path d="M156.8 121.7L158.8 125L162.1 126.6L160.1 123.2" fill="#d2e18d"/>
<path d="M208.4 170.7L210.5 173.3L213.6 173.7L211.5 171.1" fill="#5ee0d8"/>
<path d="M249.2 192.8L251.4 195.2L254.5 194.6L252.3 192.2" fill="#329fe8"/>
<path d="M343.3 220.9L345.5 223.1L348.5 222.2L346.3 220" fill="#5d28f1"/>
<path d="M221 179.1L223.1 181.7L226.2 181.8L224.1 179.2" fill="#47cbdf"/>
<path d="M147.2 108.7L149.3 112.3L152.7 114.8L150.6 111" fill="#edc072"/>
<path d="M244 190.9L246.1 193.3L249.2 192.8L247.1 190.4" fill="#30a6e7"/>
<path d="M348.5 222.2L350.8 224.4L353.7 223.5L351.5 221.3" fill="#6022f1"/>
<path d="M353.7 223.5L356 225.7L359 224.7L356.7 222.5" fill="#631df1"/>
<path d="M238.8 188.8L240.9 191.3L244 190.9L241.9 188.4" fill="#2eaee6"/>
<path d="M188.4 153.8L190.4 156.7L193.7 158L191.6 155.2" fill="#8bf9c3"/>
<path d="M359 224.7L361.2 226.9L364.2 225.9L362 223.7" fill="#641af1"/>
<path d="M181 147L183.1 149.9L186.3 151L184.2 148" fill="#9bfcb9"/>
<path d="M173.6 140.2L175.7 143.2L178.9 144L176.9 140.9" fill="#abfaae"/>
<path d="M195.7 160.8L197.8 163.5L201 164.7L199 161.9" fill="#79f2cc"/>
<path d="M166.3 133L168.3 136.1L171.6 137.2L169.5 134" fill="#bcf2a1"/>
<path d="M233.5 186.6L235.6 189.1L238.8 188.8L236.7 186.4" fill="#34b7e4"/>
<path d="M215.7 176.3L217.8 178.9L221 179.1L218.9 176.6" fill="#52d5dc"/>
<path d="M364.2 225.9L366.5 228.1L369.5 227.1L367.2 224.9" fill="#6714f1"/>
<path d="M203.1 167.4L205.2 170L208.4 170.7L206.3 168" fill="#6ae9d3"/>
<path d="M149.3 112.3L151.4 115.9L154.7 118.3L152.7 114.8" fill="#e6c979"/>
<path d="M298.4 210.4L300.6 212.6L303.6 211.9L301.5 209.6" fill="#485bef"/>
<path d="M293.2 208.8L295.4 211.1L298.4 210.4L296.2 208.1" fill="#4661ef"/>
<path d="M303.6 211.9L305.8 214.2L308.9 213.4L306.7 211.1" fill="#4b53f0"/>
<path d="M288 207.1L290.1 209.4L293.2 208.8L291 206.5" fill="#4369ee"/>
<path d="M158.8 125L160.9 128.2L164.2 129.8L162.1 126.6" fill="#cde692"/>
<path d="M308.9 213.4L311.1 215.7L314.1 214.9L311.9 212.6" fill="#4d4df0"/>
<path d="M228.3 184.3L230.4 186.8L233.5 186.6L231.4 184.2" fill="#3cbfe2"/>
<path d="M282.7 205.5L284.9 207.8L288 207.1L285.8 204.8" fill="#4071ee"/>
<path d="M314.1 214.9L316.3 217.2L319.3 216.3L317.1 214.1" fill="#5048f0"/>
<path d="M319.3 216.3L321.5 218.6L324.6 217.8L322.4 215.5" fill="#5242f1"/>
<path d="M277.5 203.8L279.7 206.1L282.7 205.5L280.6 203.2" fill="#3e79ed"/>
<path d="M272.3 202.1L274.4 204.4L277.5 203.8L275.4 201.4" fill="#3c7eed"/>
<path d="M324.6 217.8L326.8 220L329.8 219.1L327.6 216.9" fill="#543cf1"/>
<path d="M267 200.4L269.2 202.8L272.3 202.1L270.1 199.8" fill="#3986ec"/>
<path d="M329.8 219.1L332 221.4L335 220.5L332.8 218.3" fill="#5737f1"/>
<path d="M261.8 198.7L264 201.1L267 200.4L264.9 198.1" fill="#378eeb"/>
<path d="M210.5 173.3L212.5 175.9L215.7 176.3L213.6 173.7" fill="#5bddd9"/>
<path d="M256.6 197L258.7 199.4L261.8 198.7L259.7 196.4" fill="#3595ea"/>
<path d="M335 220.5L337.3 222.7L340.3 221.8L338 219.6" fill="#5931f1"/>
<path d="M251.4 195.2L253.5 197.6L256.6 197L254.5 194.6" fill="#339ce9"/>
<path d="M340.3 221.8L342.5 224.1L345.5 223.1L343.3 220.9" fill="#5c2bf1"/>
<path d="M223.1 181.7L225.2 184.2L228.3 184.3L226.2 181.8" fill="#45c9e0"/>
<path d="M345.5 223.1L347.8 225.4L350.8 224.4L348.5 222.2" fill="#5f25f1"/>
<path d="M246.1 193.3L248.2 195.7L251.4 195.2L249.2 192.8" fill="#31a3e8"/>
<path d="M175.7 143.2L177.8 146.2L181 147L178.9 144" fill="#a7fbb1"/>
<path d="M168.3 136.1L170.4 139.1L173.6 140.2L171.6 137.2" fill="#b7f5a5"/>
<path d="M183.1 149.9L185.1 152.8L188.4 153.8L186.3 151" fill="#97fbbc"/>
<path d="M190.4 156.7L192.5 159.5L195.7 160.8L193.7 158" fill="#88f8c5"/>
<path d="M350.8 224.4L353 226.6L356 225.7L353.7 223.5" fill="#6120f1"/>
<path d="M197.8 163.5L199.9 166.2L203.1 167.4L201 164.7" fill="#76f0ce"/>
<path d="M240.9 191.3L243 193.7L246.1 193.3L244 190.9" fill="#2faae6"/>
<path d="M151.4 115.9L153.4 119.3L156.8 121.7L154.7 118.3" fill="#e1d07f"/>
<path d="M356 225.7L358.3 227.9L361.2 226.9L359 224.7" fill="#641af1"/>
<path d="M160.9 128.2L163 131.3L166.3 133L164.2 129.8" fill="#c8ea96"/>
<path d="M217.8 178.9L219.9 181.4L223.1 181.7L221 179.1" fill="#4ed2dd"/>
<path d="M361.2 226.9L363.5 229.1L366.5 228.1L364.2 225.9" fill="#6517f1"/>
<path d="M235.6 189.1L237.8 191.6L240.9 191.3L238.8 188.8" fill="#30b3e5"/>
<path d="M205.2 170L207.3 172.7L210.5 173.3L208.4 170.7" fill="#67e7d4"/>
<path d="M230.4 186.8L232.5 189.2L235.6 189.1L233.5 186.6" fill="#38bbe3"/>
<path d="M300.6 212.6L302.8 214.9L305.8 214.2L303.6 211.9" fill="#4959ef"/>
<path d="M295.4 211.1L297.5 213.3L300.6 212.6L298.4 210.4" fill="#475eef"/>
<path d="M305.8 214.2L308 216.4L311.1 215.7L308.9 213.4" fill="#4c50f0"/>
<path d="M290.1 209.4L292.3 211.7L295.4 211.1L293.2 208.8" fill="#4466ef"/>
<path d="M311.1 215.7L313.3 217.9L316.3 217.2L314.1 214.9" fill="#4f4af0"/>
<path d="M284.9 207.8L287.1 210.1L290.1 209.4L288 207.1" fill="#416fee"/>
<path d="M316.3 217.2L318.5 219.4L321.5 218.6L319.3 216.3" fill="#5145f0"/>
<path d="M279.7 206.1L281.8 208.4L284.9 207.8L282.7 205.5" fill="#3f74ee"/>
<path d="M321.5 218.6L323.8 220.8L326.8 220L324.6 217.8" fill="#533ff1"/>
<path d="M274.4 204.4L276.6 206.8L279.7 206.1L277.5 203.8" fill="#3d7ced"/>
<path d="M141.7 101L143.8 104.9L147.2 108.7L145.2 104.8" fill="#ef9f5c"/>
<path d="M212.5 175.9L214.6 178.5L217.8 178.9L215.7 176.3" fill="#57dada"/>
<path d="M269.2 202.8L271.3 205.1L274.4 204.4L272.3 202.1" fill="#3a84ec"/>
<path d="M326.8 220L329 222.2L332 221.4L329.8 219.1" fill="#5639f1"/>
<path d="M264 201.1L266.1 203.5L269.2 202.8L267 200.4" fill="#388beb"/>
<path d="M153.4 119.3L155.5 122.6L158.8 125L156.8 121.7" fill="#dbd784"/>
<path d="M332 221.4L334.3 223.6L337.3 222.7L335 220.5" fill="#5834f1"/>
<path d="M177.8 146.2L179.8 149.1L183.1 149.9L181 147" fill="#a3fbb4"/>
<path d="M170.4 139.1L172.4 142.1L175.7 143.2L173.6 140.2" fill="#b2f7a9"/>
<path d="M258.7 199.4L260.9 201.8L264 201.1L261.8 198.7" fill="#3690ea"/>
<path d="M225.2 184.2L227.3 186.7L230.4 186.8L228.3 184.3" fill="#41c5e1"/>
<path d="M185.1 152.8L187.2 155.7L190.4 156.7L188.4 153.8" fill="#94fbbe"/>
<path d="M337.3 222.7L339.5 225L342.5 224.1L340.3 221.8" fill="#5b2ef1"/>
<path d="M253.5 197.6L255.6 200L258.7 199.4L256.6 197" fill="#3498e9"/>
<path d="M192.5 159.5L194.6 162.2L197.8 163.5L195.7 160.8" fill="#83f6c8"/>
<path d="M342.5 224.1L344.8 226.3L347.8 225.4L345.5 223.1" fill="#5d28f1"/>
<path d="M248.2 195.7L250.4 198.1L253.5 197.6L251.4 195.2" fill="#329fe8"/>
<path d="M163 131.3L165 134.4L168.3 136.1L166.3 133" fill="#c4ed99"/>
<path d="M199.9 166.2L202 168.9L205.2 170L203.1 167.4" fill="#73eecf"/>
<path d="M347.8 225.4L350 227.6L353 226.6L350.8 224.4" fill="#6022f1"/>
<path d="M243 193.7L245.1 196.1L248.2 195.7L246.1 193.3" fill="#30a8e7"/>
<path d="M353 226.6L355.3 228.8L358.3 227.9L356 225.7" fill="#631df1"/>
<path d="M143.8 104.9L145.9 108.7L149.3 112.3L147.2 108.7" fill="#f1aa64"/>
<path d="M219.9 181.4L222 184L225.2 184.2L223.1 181.7" fill="#4bcede"/>
<path d="M207.3 172.7L209.3 175.3L212.5 175.9L210.5 173.3" fill="#64e4d6"/>
<path d="M358.3 227.9L360.5 230.1L363.5 229.1L361.2 226.9" fill="#641af1"/>
<path d="M237.8 191.6L239.9 194L243 193.7L240.9 191.3" fill="#2eb1e5"/>
<path d="M155.5 122.6L157.6 125.8L160.9 128.2L158.8 125" fill="#d7db88"/>
<path d="M232.5 189.2L234.6 191.7L237.8 191.6L235.6 189.1" fill="#36b9e3"/>
<path d="M172.4 142.1L174.5 145L177.8 146.2L175.7 143.2" fill="#aef9ac"/>
<path d="M297.5 213.3L299.7 215.6L302.8 214.9L300.6 212.6" fill="#485bef"/>
<path d="M302.8 214.9L305 217.2L308 216.4L305.8 214.2" fill="#4a56f0"/>
<path d="M179.8 149.1L181.9 151.9L185.1 152.8L183.1 149.9" fill="#a0fbb6"/>
<path d="M292.3 211.7L294.5 214L297.5 213.3L295.4 211.1" fill="#4564ef"/>
<path d="M308 216.4L310.2 218.7L313.3 217.9L311.1 215.7" fill="#4d4df0"/>
<path d="M287.1 210.1L289.2 212.4L292.3 211.7L290.1 209.4" fill="#4369ee"/>
<path d="M313.3 217.9L315.5 220.2L318.5 219.4L316.3 217.2" fill="#5048f0"/>
<path d="M214.6 178.5L216.7 181L219.9 181.4L217.8 178.9" fill="#56d8db"/>
<path d="M281.8 208.4L284 210.7L287.1 210.1L284.9 207.8" fill="#4071ee"/>
<path d="M318.5 219.4L320.7 221.7L323.8 220.8L321.5 218.6" fill="#5242f1"/>
<path d="M187.2 155.7L189.3 158.4L192.5 159.5L190.4 156.7" fill="#8ffac1"/>
<path d="M276.6 206.8L278.7 209.1L281.8 208.4L279.7 206.1" fill="#3e79ed"/>
<path d="M323.8 220.8L326 223.1L329 222.2L326.8 220" fill="#543cf1"/>
<path d="M271.3 205.1L273.5 207.5L276.6 206.8L274.4 204.4" fill="#3b81ec"/>
<path d="M145.9 108.7L148 112.2L151.4 115.9L149.3 112.3" fill="#f3b66b"/>
<path d="M165 134.4L167.1 137.4L170.4 139.1L168.3 136.1" fill="#c0f09d"/>
<path d="M266.1 203.5L268.2 205.8L271.3 205.1L269.2 202.8" fill="#3986ec"/>
<path d="M194.6 162.2L196.7 164.9L199.9 166.2L197.8 163.5" fill="#80f5c9"/>
<path d="M329 222.2L331.2 224.5L334.3 223.6L332 221.4" fill="#5737f1"/>
<path d="M227.3 186.7L229.4 189.2L232.5 189.2L230.4 186.8" fill="#3dc1e2"/>
<path d="M260.9 201.8L263 204.1L266.1 203.5L264 201.1" fill="#378eeb"/>
<path d="M334.3 223.6L336.5 225.8L339.5 225L337.3 222.7" fill="#5931f1"/>
<path d="M255.6 200L257.8 202.4L260.9 201.8L258.7 199.4" fill="#3595ea"/>
<path d="M202 168.9L204 171.5L207.3 172.7L205.2 170" fill="#70ecd1"/>
<path d="M339.5 225L341.7 227.2L344.8 226.3L342.5 224.1" fill="#5c2bf1"/>
<path d="M250.4 198.1L252.5 200.5L255.6 200L253.5 197.6" fill="#339ce9"/>
<path d="M344.8 226.3L347 228.5L350 227.6L347.8 225.4" fill="#5f25f1"/>
<path d="M245.1 196.1L247.2 198.5L250.4 198.1L248.2 195.7" fill="#31a3e8"/>
<path d="M350 227.6L352.3 229.8L355.3 228.8L353 226.6" fill="#6120f1"/>
<path d="M209.3 175.3L211.4 177.8L214.6 178.5L212.5 175.9" fill="#60e1d7"/>
<path d="M222 184L224.1 186.5L227.3 186.7L225.2 184.2" fill="#47cbdf"/>
<path d="M157.6 125.8L159.6 128.9L163 131.3L160.9 128.2" fill="#d3df8c"/>
<path d="M355.3 228.8L357.5 231L360.5 230.1L358.3 227.9" fill="#641af1"/>
<path d="M239.9 194L242 196.4L245.1 196.1L243 193.7" fill="#2face6"/>
<path d="M148 112.2L150 115.7L153.4 119.3L151.4 115.9" fill="#eebe71"/>
<path d="M174.5 145L176.6 147.8L179.8 149.1L177.8 146.2" fill="#abfaae"/>
<path d="M181.9 151.9L184 154.7L187.2 155.7L185.1 152.8" fill="#9bfcb9"/>
<path d="M234.6 191.7L236.7 194.1L239.9 194L237.8 191.6" fill="#32b5e4"/>
<path d="M167.1 137.4L169.1 140.3L172.4 142.1L170.4 139.1" fill="#bcf2a1"/>
<path d="M189.3 158.4L191.3 161.2L194.6 162.2L192.5 159.5" fill="#8cf9c2"/>
<path d="M216.7 181L218.8 183.6L222 184L219.9 181.4" fill="#52d5dc"/>
<path d="M299.7 215.6L301.9 217.9L305 217.2L302.8 214.9" fill="#4959ef"/>
<path d="M294.5 214L296.7 216.3L299.7 215.6L297.5 213.3" fill="#4661ef"/>
<path d="M305 217.2L307.2 219.5L310.2 218.7L308 216.4" fill="#4b53f0"/>
<path d="M196.7 164.9L198.7 167.6L202 168.9L199.9 166.2" fill="#7df4cb"/>
<path d="M310.2 218.7L312.4 221L315.5 220.2L313.3 217.9" fill="#4f4af0"/>
<path d="M289.2 212.4L291.4 214.7L294.5 214L292.3 211.7" fill="#4466ef"/>
<path d="M315.5 220.2L317.7 222.4L320.7 221.7L318.5 219.4" fill="#5145f0"/>
<path d="M284 210.7L286.2 213L289.2 212.4L287.1 210.1" fill="#416fee"/>
<path d="M278.7 209.1L280.9 211.4L284 210.7L281.8 208.4" fill="#3e77ed"/>
<path d="M320.7 221.7L322.9 223.9L326 223.1L323.8 220.8" fill="#533ff1"/>
<path d="M273.5 207.5L275.7 209.8L278.7 209.1L276.6 206.8" fill="#3d7ced"/>
<path d="M229.4 189.2L231.5 191.6L234.6 191.7L232.5 189.2" fill="#3cbfe2"/>
<path d="M268.2 205.8L270.4 208.2L273.5 207.5L271.3 205.1" fill="#3a84ec"/>
<path d="M326 223.1L328.2 225.3L331.2 224.5L329 222.2" fill="#5639f1"/>
<path d="M204 171.5L206.1 174.1L209.3 175.3L207.3 172.7" fill="#6cead2"/>
<path d="M263 204.1L265.1 206.5L268.2 205.8L266.1 203.5" fill="#388beb"/>
<path d="M331.2 224.5L333.5 226.7L336.5 225.8L334.3 223.6" fill="#5834f1"/>
<path d="M257.8 202.4L259.9 204.7L263 204.1L260.9 201.8" fill="#3693ea"/>
<path d="M159.6 128.9L161.7 131.9L165 134.4L163 131.3" fill="#cee591"/>
<path d="M336.5 225.8L338.7 228.1L341.7 227.2L339.5 225" fill="#5b2ef1"/>
<path d="M252.5 200.5L254.6 202.9L257.8 202.4L255.6 200" fill="#349ae9"/>
<path d="M341.7 227.2L344 229.4L347 228.5L344.8 226.3" fill="#5d28f1"/>
<path d="M150 115.7L152.1 119L155.5 122.6L153.4 119.3" fill="#e9c576"/>
<path d="M247.2 198.5L249.4 200.9L252.5 200.5L250.4 198.1" fill="#32a1e8"/>
<path d="M347 228.5L349.3 230.7L352.3 229.8L350 227.6" fill="#6022f1"/>
<path d="M211.4 177.8L213.5 180.4L216.7 181L214.6 178.5" fill="#5ddfd8"/>
<path d="M224.1 186.5L226.2 188.9L229.4 189.2L227.3 186.7" fill="#45c9e0"/>
<path d="M352.3 229.8L354.5 232L357.5 231L355.3 228.8" fill="#631df1"/>
<path d="M176.6 147.8L178.6 150.6L181.9 151.9L179.8 149.1" fill="#a7fbb1"/>
<path d="M242 196.4L244.1 198.8L247.2 198.5L245.1 196.1" fill="#2faae6"/>
<path d="M184 154.7L186 157.5L189.3 158.4L187.2 155.7" fill="#98fbbb"/>
<path d="M169.1 140.3L171.2 143.2L174.5 145L172.4 142.1" fill="#b8f5a4"/>
<path d="M191.3 161.2L193.4 163.9L196.7 164.9L194.6 162.2" fill="#89f9c4"/>
<path d="M236.7 194.1L238.9 196.6L242 196.4L239.9 194" fill="#30b3e5"/>
<path d="M218.8 183.6L220.9 186.1L224.1 186.5L222 184" fill="#4ed2dd"/>
<path d="M198.7 167.6L200.8 170.2L204 171.5L202 168.9" fill="#79f2cc"/>
<path d="M152.1 119L154.1 122.2L157.6 125.8L155.5 122.6" fill="#e5cb7a"/>
<path d="M161.7 131.9L163.7 134.9L167.1 137.4L165 134.4" fill="#cae895"/>
<path d="M301.9 217.9L304.1 220.2L307.2 219.5L305 217.2" fill="#4a56f0"/>
<path d="M296.7 216.3L298.9 218.6L301.9 217.9L299.7 215.6" fill="#475eef"/>
<path d="M307.2 219.5L309.4 221.7L312.4 221L310.2 218.7" fill="#4c50f0"/>
<path d="M291.4 214.7L293.6 217L296.7 216.3L294.5 214" fill="#4564ef"/>
<path d="M312.4 221L314.6 223.2L317.7 222.4L315.5 220.2" fill="#5048f0"/>
<path d="M206.1 174.1L208.2 176.7L211.4 177.8L209.3 175.3" fill="#69e8d4"/>
<path d="M286.2 213L288.3 215.3L291.4 214.7L289.2 212.4" fill="#426cee"/>
<path d="M231.5 191.6L233.6 194.1L236.7 194.1L234.6 191.7" fill="#38bbe3"/>
<path d="M317.7 222.4L319.9 224.7L322.9 223.9L320.7 221.7" fill="#5242f1"/>
<path d="M280.9 211.4L283.1 213.7L286.2 213L284 210.7" fill="#3f74ee"/>
<path d="M275.7 209.8L277.8 212.1L280.9 211.4L278.7 209.1" fill="#3e79ed"/>
<path d="M322.9 223.9L325.2 226.1L328.2 225.3L326 223.1" fill="#543cf1"/>
<path d="M270.4 208.2L272.6 210.5L275.7 209.8L273.5 207.5" fill="#3b81ec"/>
<path d="M265.1 206.5L267.3 208.8L270.4 208.2L268.2 205.8" fill="#3989eb"/>
<path d="M328.2 225.3L330.4 227.6L333.5 226.7L331.2 224.5" fill="#5737f1"/>
<path d="M259.9 204.7L262 207.1L265.1 206.5L263 204.1" fill="#378eeb"/>
<path d="M333.5 226.7L335.7 228.9L338.7 228.1L336.5 225.8" fill="#5931f1"/>
<path d="M254.6 202.9L256.8 205.3L259.9 204.7L257.8 202.4" fill="#3595ea"/>
<path d="M338.7 228.1L341 230.3L344 229.4L341.7 227.2" fill="#5c2bf1"/>
<path d="M213.5 180.4L215.6 182.9L218.8 183.6L216.7 181" fill="#59dcd9"/>
<path d="M178.6 150.6L180.7 153.4L184 154.7L181.9 151.9" fill="#a4fbb3"/>
<path d="M344 229.4L346.2 231.6L349.3 230.7L347 228.5" fill="#5f25f1"/>
<path d="M249.4 200.9L251.5 203.3L254.6 202.9L252.5 200.5" fill="#329fe8"/>
<path d="M226.2 188.9L228.3 191.4L231.5 191.6L229.4 189.2" fill="#41c5e1"/>
<path d="M186 157.5L188.1 160.2L191.3 161.2L189.3 158.4" fill="#94fbbe"/>
<path d="M171.2 143.2L173.3 146L176.6 147.8L174.5 145" fill="#b4f7a7"/>
<path d="M349.3 230.7L351.5 232.9L354.5 232L352.3 229.8" fill="#6120f1"/>
<path d="M244.1 198.8L246.2 201.2L249.4 200.9L247.2 198.5" fill="#30a6e7"/>
<path d="M193.4 163.9L195.5 166.6L198.7 167.6L196.7 164.9" fill="#86f8c6"/>
<path d="M154.1 122.2L156.2 125.4L159.6 128.9L157.6 125.8" fill="#dfd280"/>
<path d="M238.9 196.6L241 199L244.1 198.8L242 196.4" fill="#2eaee6"/>
<path d="M200.8 170.2L202.9 172.8L206.1 174.1L204 171.5" fill="#76f0ce"/>
<path d="M163.7 134.9L165.8 137.8L169.1 140.3L167.1 137.4" fill="#c7eb97"/>
<path d="M220.9 186.1L223 188.5L226.2 188.9L224.1 186.5" fill="#4cd0dd"/>
<path d="M208.2 176.7L210.3 179.3L213.5 180.4L211.4 177.8" fill="#65e5d5"/>
<path d="M233.6 194.1L235.7 196.5L238.9 196.6L236.7 194.1" fill="#36b9e3"/>
<path d="M298.9 218.6L301.1 220.9L304.1 220.2L301.9 217.9" fill="#485bef"/>
<path d="M304.1 220.2L306.3 222.4L309.4 221.7L307.2 219.5" fill="#4b53f0"/>
<path d="M293.6 217L295.8 219.3L298.9 218.6L296.7 216.3" fill="#4661ef"/>
<path d="M309.4 221.7L311.6 224L314.6 223.2L312.4 221" fill="#4d4df0"/>
<path d="M288.3 215.3L290.5 217.6L293.6 217L291.4 214.7" fill="#4369ee"/>
<path d="M314.6 223.2L316.9 225.5L319.9 224.7L317.7 222.4" fill="#5048f0"/>
<path d="M283.1 213.7L285.3 216L288.3 215.3L286.2 213" fill="#4071ee"/>
<path d="M319.9 224.7L322.1 226.9L325.2 226.1L322.9 223.9" fill="#533ff1"/>
<path d="M277.8 212.1L280 214.4L283.1 213.7L280.9 211.4" fill="#3e77ed"/>
<path d="M272.6 210.5L274.7 212.8L277.8 212.1L275.7 209.8" fill="#3c7eed"/>
<path d="M325.2 226.1L327.4 228.4L330.4 227.6L328.2 225.3" fill="#5639f1"/>
<path d="M267.3 208.8L269.5 211.2L272.6 210.5L270.4 208.2" fill="#3a84ec"/>
<path d="M262 207.1L264.2 209.4L267.3 208.8L265.1 206.5" fill="#388beb"/>
<path d="M330.4 227.6L332.7 229.8L335.7 228.9L333.5 226.7" fill="#5834f1"/>
<path d="M180.7 153.4L182.8 156.1L186 157.5L184 154.7" fill="#a0fbb6"/>
<path d="M335.7 228.9L338 231.2L341 230.3L338.7 228.1" fill="#5b2ef1"/>
<path d="M256.8 205.3L258.9 207.6L262 207.1L259.9 204.7" fill="#3693ea"/>
<path d="M215.6 182.9L217.7 185.4L220.9 186.1L218.8 183.6" fill="#56d8db"/>
<path d="M173.3 146L175.3 148.8L178.6 150.6L176.6 147.8" fill="#b1f8aa"/>
<path d="M188.1 160.2L190.2 162.9L193.4 163.9L191.3 161.2" fill="#91fac0"/>
<path d="M341 230.3L343.2 232.5L346.2 231.6L344 229.4" fill="#5d28f1"/>
<path d="M228.3 191.4L230.4 193.9L233.6 194.1L231.5 191.6" fill="#3fc3e1"/>
<path d="M251.5 203.3L253.7 205.7L256.8 205.3L254.6 202.9" fill="#349ae9"/>
<path d="M346.2 231.6L348.5 233.8L351.5 232.9L349.3 230.7" fill="#6022f1"/>
<path d="M156.2 125.4L158.3 128.4L161.7 131.9L159.6 128.9" fill="#dbd784"/>
<path d="M195.5 166.6L197.6 169.2L200.8 170.2L198.7 167.6" fill="#83f6c8"/>
<path d="M246.2 201.2L248.4 203.6L251.5 203.3L249.4 200.9" fill="#31a3e8"/>
<path d="M165.8 137.8L167.8 140.7L171.2 143.2L169.1 140.3" fill="#c3ee9b"/>
<path d="M202.9 172.8L205 175.4L208.2 176.7L206.1 174.1" fill="#73eecf"/>
<path d="M241 199L243.1 201.4L246.2 201.2L244.1 198.8" fill="#2face6"/>
<path d="M223 188.5L225.1 191L228.3 191.4L226.2 188.9" fill="#49cddf"/>
<path d="M210.3 179.3L212.4 181.8L215.6 182.9L213.5 180.4" fill="#62e3d6"/>
<path d="M235.7 196.5L237.8 198.9L241 199L238.9 196.6" fill="#32b5e4"/>
<path d="M301.1 220.9L303.3 223.1L306.3 222.4L304.1 220.2" fill="#4959ef"/>
<path d="M306.3 222.4L308.5 224.7L311.6 224L309.4 221.7" fill="#4c50f0"/>
<path d="M295.8 219.3L298 221.5L301.1 220.9L298.9 218.6" fill="#475eef"/>
<path d="M182.8 156.1L184.8 158.8L188.1 160.2L186 157.5" fill="#9dfcb8"/>
<path d="M311.6 224L313.8 226.2L316.9 225.5L314.6 223.2" fill="#4f4af0"/>
<path d="M290.5 217.6L292.7 219.9L295.8 219.3L293.6 217" fill="#4466ef"/>
<path d="M316.9 225.5L319.1 227.7L322.1 226.9L319.9 224.7" fill="#5145f0"/>
<path d="M285.3 216L287.4 218.3L290.5 217.6L288.3 215.3" fill="#426cee"/>
<path d="M175.3 148.8L177.4 151.5L180.7 153.4L178.6 150.6" fill="#adf9ad"/>
<path d="M280 214.4L282.2 216.7L285.3 216L283.1 213.7" fill="#3f74ee"/>
<path d="M274.7 212.8L276.9 215.1L280 214.4L277.8 212.1" fill="#3d7ced"/>
<path d="M322.1 226.9L324.4 229.2L327.4 228.4L325.2 226.1" fill="#543cf1"/>
<path d="M269.5 211.2L271.6 213.5L274.7 212.8L272.6 210.5" fill="#3b81ec"/>
<path d="M158.3 128.4L160.3 131.4L163.7 134.9L161.7 131.9" fill="#d7db88"/>
<path d="M190.2 162.9L192.3 165.5L195.5 166.6L193.4 163.9" fill="#8efac2"/>
<path d="M327.4 228.4L329.6 230.6L332.7 229.8L330.4 227.6" fill="#5737f1"/>
<path d="M264.2 209.4L266.4 211.8L269.5 211.2L267.3 208.8" fill="#3989eb"/>
<path d="M217.7 185.4L219.8 187.9L223 188.5L220.9 186.1" fill="#54d7db"/>
<path d="M332.7 229.8L334.9 232L338 231.2L335.7 228.9" fill="#5931f1"/>
<path d="M258.9 207.6L261.1 210L264.2 209.4L262 207.1" fill="#3690ea"/>
<path d="M230.4 193.9L232.5 196.3L235.7 196.5L233.6 194.1" fill="#3cbfe2"/>
<path d="M338 231.2L340.2 233.4L343.2 232.5L341 230.3" fill="#5c2bf1"/>
<path d="M253.7 205.7L255.8 208L258.9 207.6L256.8 205.3" fill="#3498e9"/>
<path d="M167.8 140.7L169.9 143.5L173.3 146L171.2 143.2" fill="#bff19e"/>
<path d="M197.6 169.2L199.7 171.8L202.9 172.8L200.8 170.2" fill="#80f5c9"/>
<path d="M343.2 232.5L345.5 234.7L348.5 233.8L346.2 231.6" fill="#5f25f1"/>
<path d="M248.4 203.6L250.5 206L253.7 205.7L251.5 203.3" fill="#32a1e8"/>
<path d="M205 175.4L207.1 178L210.3 179.3L208.2 176.7" fill="#70ecd1"/>
<path d="M243.1 201.4L245.2 203.8L248.4 203.6L246.2 201.2" fill="#2faae6"/>
<path d="M225.1 191L227.2 193.5L230.4 193.9L228.3 191.4" fill="#45c9e0"/>
<path d="M212.4 181.8L214.5 184.3L217.7 185.4L215.6 182.9" fill="#60e1d7"/>
<path d="M184.8 158.8L186.9 161.5L190.2 162.9L188.1 160.2" fill="#9afcba"/>
<path d="M160.3 131.4L162.4 134.3L165.8 137.8L163.7 134.9" fill="#d3df8c"/>
<path d="M237.8 198.9L240 201.3L243.1 201.4L241 199" fill="#30b3e5"/>
<path d="M177.4 151.5L179.5 154.2L182.8 156.1L180.7 153.4" fill="#aafaaf"/>
<path d="M192.3 165.5L194.3 168.1L197.6 169.2L195.5 166.6" fill="#8bf9c3"/>
<path d="M303.3 223.1L305.5 225.4L308.5 224.7L306.3 222.4" fill="#4a56f0"/>
<path d="M298 221.5L300.2 223.8L303.3 223.1L301.1 220.9" fill="#485bef"/>
<path d="M308.5 224.7L310.8 227L313.8 226.2L311.6 224" fill="#4d4df0"/>
<path d="M292.7 219.9L294.9 222.2L298 221.5L295.8 219.3" fill="#4564ef"/>
<path d="M313.8 226.2L316 228.5L319.1 227.7L316.9 225.5" fill="#5048f0"/>
<path d="M287.4 218.3L289.6 220.6L292.7 219.9L290.5 217.6" fill="#4369ee"/>
<path d="M282.2 216.7L284.4 219L287.4 218.3L285.3 216" fill="#4071ee"/>
<path d="M276.9 215.1L279.1 217.4L282.2 216.7L280 214.4" fill="#3e77ed"/>
<path d="M319.1 227.7L321.3 230L324.4 229.2L322.1 226.9" fill="#5242f1"/>
<path d="M219.8 187.9L221.9 190.4L225.1 191L223 188.5" fill="#50d4dc"/>
<path d="M271.6 213.5L273.8 215.8L276.9 215.1L274.7 212.8" fill="#3c7eed"/>
<path d="M324.4 229.2L326.6 231.4L329.6 230.6L327.4 228.4" fill="#5639f1"/>
<path d="M266.4 211.8L268.5 214.1L271.6 213.5L269.5 211.2" fill="#3986ec"/>
<path d="M169.9 143.5L172 146.3L175.3 148.8L173.3 146" fill="#bcf2a1"/>
<path d="M329.6 230.6L331.9 232.8L334.9 232L332.7 229.8" fill="#5834f1"/>
<path d="M261.1 210L263.2 212.3L266.4 211.8L264.2 209.4" fill="#378eeb"/>
<path d="M232.5 196.3L234.7 198.7L237.8 198.9L235.7 196.5" fill="#3abde3"/>
<path d="M199.7 171.8L201.8 174.4L205 175.4L202.9 172.8" fill="#7df4cb"/>
<path d="M334.9 232L337.2 234.2L340.2 233.4L338 231.2" fill="#5b2ef1"/>
<path d="M255.8 208L258 210.4L261.1 210L258.9 207.6" fill="#3595ea"/>
<path d="M340.2 233.4L342.5 235.6L345.5 234.7L343.2 232.5" fill="#5d28f1"/>
<path d="M250.5 206L252.7 208.4L255.8 208L253.7 205.7" fill="#339ce9"/>
<path d="M207.1 178L209.2 180.5L212.4 181.8L210.3 179.3" fill="#6cead2"/>
<path d="M227.2 193.5L229.4 195.9L232.5 196.3L230.4 193.9" fill="#43c7e0"/>
<path d="M245.2 203.8L247.4 206.2L250.5 206L248.4 203.6" fill="#30a6e7"/>
<path d="M214.5 184.3L216.6 186.8L219.8 187.9L217.7 185.4" fill="#5ddfd8"/>
<path d="M162.4 134.3L164.5 137.2L167.8 140.7L165.8 137.8" fill="#d1e28e"/>
<path d="M186.9 161.5L189 164.1L192.3 165.5L190.2 162.9" fill="#97fbbc"/>
<path d="M179.5 154.2L181.5 156.9L184.8 158.8L182.8 156.1" fill="#a7fbb1"/>
<path d="M240 201.3L242.1 203.7L245.2 203.8L243.1 201.4" fill="#2eb1e5"/>
<path d="M194.3 168.1L196.4 170.7L199.7 171.8L197.6 169.2" fill="#88f8c5"/>
<path d="M172 146.3L174.1 149L177.4 151.5L175.3 148.8" fill="#b8f5a4"/>
<path d="M221.9 190.4L224.1 192.9L227.2 193.5L225.1 191" fill="#4ed2dd"/>
<path d="M305.5 225.4L307.7 227.7L310.8 227L308.5 224.7" fill="#4b53f0"/>
<path d="M300.2 223.8L302.4 226.1L305.5 225.4L303.3 223.1" fill="#4959ef"/>
<path d="M310.8 227L313 229.2L316 228.5L313.8 226.2" fill="#4f4af0"/>
<path d="M294.9 222.2L297.1 224.5L300.2 223.8L298 221.5" fill="#4661ef"/>
<path d="M289.6 220.6L291.8 222.9L294.9 222.2L292.7 219.9" fill="#4466ef"/>
<path d="M316 228.5L318.3 230.7L321.3 230L319.1 227.7" fill="#5145f0"/>
<path d="M284.4 219L286.5 221.3L289.6 220.6L287.4 218.3" fill="#416fee"/>
<path d="M279.1 217.4L281.3 219.7L284.4 219L282.2 216.7" fill="#3f74ee"/>
<path d="M273.8 215.8L276 218.1L279.1 217.4L276.9 215.1" fill="#3d7ced"/>
<path d="M321.3 230L323.6 232.2L326.6 231.4L324.4 229.2" fill="#533ff1"/>
<path d="M201.8 174.4L203.9 177L207.1 178L205 175.4" fill="#79f2cc"/>
<path d="M268.5 214.1L270.7 216.4L273.8 215.8L271.6 213.5" fill="#3a84ec"/>
<path d="M326.6 231.4L328.8 233.7L331.9 232.8L329.6 230.6" fill="#5639f1"/>
<path d="M234.7 198.7L236.8 201.1L240 201.3L237.8 198.9" fill="#36b9e3"/>
<path d="M263.2 212.3L265.4 214.6L268.5 214.1L266.4 211.8" fill="#388beb"/>
<path d="M331.9 232.8L334.1 235.1L337.2 234.2L334.9 232" fill="#5834f1"/>
<path d="M337.2 234.2L339.4 236.5L342.5 235.6L340.2 233.4" fill="#5b2ef1"/>
<path d="M258 210.4L260.1 212.7L263.2 212.3L261.1 210" fill="#3693ea"/>
<path d="M209.2 180.5L211.3 183L214.5 184.3L212.4 181.8" fill="#6ae9d3"/>
<path d="M252.7 208.4L254.8 210.7L258 210.4L255.8 208" fill="#349ae9"/>
<path d="M164.5 137.2L166.5 140.1L169.9 143.5L167.8 140.7" fill="#cde692"/>
<path d="M229.4 195.9L231.5 198.3L234.7 198.7L232.5 196.3" fill="#41c5e1"/>
<path d="M247.4 206.2L249.5 208.5L252.7 208.4L250.5 206" fill="#31a3e8"/>
<path d="M216.6 186.8L218.7 189.3L221.9 190.4L219.8 187.9" fill="#59dcd9"/>
<path d="M181.5 156.9L183.6 159.6L186.9 161.5L184.8 158.8" fill="#a4fbb3"/>
<path d="M189 164.1L191.1 166.7L194.3 168.1L192.3 165.5" fill="#94fbbe"/>
<path d="M196.4 170.7L198.5 173.3L201.8 174.4L199.7 171.8" fill="#85f7c7"/>
<path d="M174.1 149L176.1 151.7L179.5 154.2L177.4 151.5" fill="#b5f6a6"/>
<path d="M242.1 203.7L244.2 206.1L247.4 206.2L245.2 203.8" fill="#2face6"/>
<path d="M224.1 192.9L226.2 195.3L229.4 195.9L227.2 193.5" fill="#4bcede"/>
<path d="M203.9 177L206 179.5L209.2 180.5L207.1 178" fill="#76f0ce"/>
<path d="M302.4 226.1L304.6 228.4L307.7 227.7L305.5 225.4" fill="#4a56f0"/>
<path d="M307.7 227.7L309.9 229.9L313 229.2L310.8 227" fill="#4c50f0"/>
<path d="M297.1 224.5L299.3 226.7L302.4 226.1L300.2 223.8" fill="#475eef"/>
<path d="M313 229.2L315.2 231.5L318.3 230.7L316 228.5" fill="#5048f0"/>
<path d="M286.5 221.3L288.7 223.6L291.8 222.9L289.6 220.6" fill="#426cee"/>
<path d="M291.8 222.9L294 225.2L297.1 224.5L294.9 222.2" fill="#4564ef"/>
<path d="M281.3 219.7L283.4 222L286.5 221.3L284.4 219" fill="#4071ee"/>
<path d="M276 218.1L278.2 220.4L281.3 219.7L279.1 217.4" fill="#3e79ed"/>
<path d="M318.3 230.7L320.5 233L323.6 232.2L321.3 230" fill="#5242f1"/>
<path d="M270.7 216.4L272.9 218.7L276 218.1L273.8 215.8" fill="#3b81ec"/>
<path d="M323.6 232.2L325.8 234.5L328.8 233.7L326.6 231.4" fill="#543cf1"/>
<path d="M236.8 201.1L238.9 203.5L242.1 203.7L240 201.3" fill="#34b7e4"/>
<path d="M265.4 214.6L267.6 217L270.7 216.4L268.5 214.1" fill="#3986ec"/>
<path d="M328.8 233.7L331.1 235.9L334.1 235.1L331.9 232.8" fill="#5737f1"/>
<path d="M334.1 235.1L336.4 237.3L339.4 236.5L337.2 234.2" fill="#5931f1"/>
<path d="M260.1 212.7L262.3 215.1L265.4 214.6L263.2 212.3" fill="#3690ea"/>
<path d="M211.3 183L213.4 185.5L216.6 186.8L214.5 184.3" fill="#67e7d4"/>
<path d="M166.5 140.1L168.6 142.9L172 146.3L169.9 143.5" fill="#cae895"/>
<path d="M254.8 210.7L257 213.1L260.1 212.7L258 210.4" fill="#3498e9"/>
<path d="M183.6 159.6L185.7 162.2L189 164.1L186.9 161.5" fill="#a1fbb5"/>
<path d="M231.5 198.3L233.6 200.7L236.8 201.1L234.7 198.7" fill="#3dc1e2"/>
<path d="M191.1 166.7L193.2 169.3L196.4 170.7L194.3 168.1" fill="#91fac0"/>
<path d="M218.7 189.3L220.9 191.7L224.1 192.9L221.9 190.4" fill="#57dada"/>
<path d="M249.5 208.5L251.7 210.9L254.8 210.7L252.7 208.4" fill="#32a1e8"/>
<path d="M176.1 151.7L178.2 154.4L181.5 156.9L179.5 154.2" fill="#b2f7a9"/>
<path d="M198.5 173.3L200.6 175.8L203.9 177L201.8 174.4" fill="#81f6c8"/>
<path d="M244.2 206.1L246.4 208.5L249.5 208.5L247.4 206.2" fill="#2faae6"/>
<path d="M226.2 195.3L228.3 197.7L231.5 198.3L229.4 195.9" fill="#49cddf"/>
<path d="M206 179.5L208.1 182L211.3 183L209.2 180.5" fill="#73eecf"/>
<path d="M304.6 228.4L306.8 230.6L309.9 229.9L307.7 227.7" fill="#4b53f0"/>
<path d="M309.9 229.9L312.1 232.2L315.2 231.5L313 229.2" fill="#4d4df0"/>
<path d="M299.3 226.7L301.5 229L304.6 228.4L302.4 226.1" fill="#485bef"/>
<path d="M283.4 222L285.6 224.3L288.7 223.6L286.5 221.3" fill="#416fee"/>
<path d="M288.7 223.6L290.9 225.9L294 225.2L291.8 222.9" fill="#4369ee"/>
<path d="M294 225.2L296.2 227.5L299.3 226.7L297.1 224.5" fill="#4661ef"/>
<path d="M278.2 220.4L280.3 222.7L283.4 222L281.3 219.7" fill="#3e77ed"/>
<path d="M315.2 231.5L317.4 233.7L320.5 233L318.3 230.7" fill="#5048f0"/>
<path d="M238.9 203.5L241.1 205.9L244.2 206.1L242.1 203.7" fill="#32b5e4"/>
<path d="M168.6 142.9L170.7 145.6L174.1 149L172 146.3" fill="#c6ec98"/>
<path d="M272.9 218.7L275 221L278.2 220.4L276 218.1" fill="#3d7ced"/>
<path d="M320.5 233L322.7 235.2L325.8 234.5L323.6 232.2" fill="#533ff1"/>
<path d="M325.8 234.5L328 236.7L331.1 235.9L328.8 233.7" fill="#5639f1"/>
<path d="M267.6 217L269.7 219.3L272.9 218.7L270.7 216.4" fill="#3a84ec"/>
<path d="M331.1 235.9L333.3 238.1L336.4 237.3L334.1 235.1" fill="#5834f1"/>
<path d="M213.4 185.5L215.5 188L218.7 189.3L216.6 186.8" fill="#64e4d6"/>
<path d="M262.3 215.1L264.4 217.4L267.6 217L265.4 214.6" fill="#388beb"/>
<path d="M185.7 162.2L187.8 164.8L191.1 166.7L189 164.1" fill="#9efcb7"/>
<path d="M257 213.1L259.1 215.4L262.3 215.1L260.1 212.7" fill="#3595ea"/>
<path d="M193.2 169.3L195.3 171.8L198.5 173.3L196.4 170.7" fill="#8efac2"/>
<path d="M233.6 200.7L235.8 203.1L238.9 203.5L236.8 201.1" fill="#3cbfe2"/>
<path d="M220.9 191.7L223 194.2L226.2 195.3L224.1 192.9" fill="#54d7db"/>
<path d="M178.2 154.4L180.3 157L183.6 159.6L181.5 156.9" fill="#b0f8ab"/>
<path d="M251.7 210.9L253.8 213.2L257 213.1L254.8 210.7" fill="#329fe8"/>
<path d="M200.6 175.8L202.7 178.4L206 179.5L203.9 177" fill="#80f5c9"/>
<path d="M246.4 208.5L248.5 210.9L251.7 210.9L249.5 208.5" fill="#30a8e7"/>
<path d="M208.1 182L210.2 184.5L213.4 185.5L211.3 183" fill="#71edd0"/>
<path d="M228.3 197.7L230.4 200.1L233.6 200.7L231.5 198.3" fill="#45c9e0"/>
<path d="M170.7 145.6L172.7 148.3L176.1 151.7L174.1 149" fill="#c3ee9b"/>
<path d="M241.1 205.9L243.2 208.3L246.4 208.5L244.2 206.1" fill="#2eb1e5"/>
<path d="M285.6 224.3L287.8 226.6L290.9 225.9L288.7 223.6" fill="#426cee"/>
<path d="M306.8 230.6L309.1 232.9L312.1 232.2L309.9 229.9" fill="#4c50f0"/>
<path d="M290.9 225.9L293.1 228.2L296.2 227.5L294 225.2" fill="#4466ef"/>
<path d="M280.3 222.7L282.5 225L285.6 224.3L283.4 222" fill="#3f74ee"/>
<path d="M301.5 229L303.8 231.3L306.8 230.6L304.6 228.4" fill="#4959ef"/>
<path d="M312.1 232.2L314.4 234.4L317.4 233.7L315.2 231.5" fill="#4f4af0"/>
<path d="M296.2 227.5L298.4 229.7L301.5 229L299.3 226.7" fill="#475eef"/>
<path d="M317.4 233.7L319.7 236L322.7 235.2L320.5 233" fill="#5145f0"/>
<path d="M275 221L277.2 223.4L280.3 222.7L278.2 220.4" fill="#3e79ed"/>
<path d="M132.8 82.4L135 86.6L138.7 96.3L136.6 92.3" fill="#e11d10"/>
<path d="M215.5 188L217.6 190.5L220.9 191.7L218.7 189.3" fill="#62e3d6"/>
<path d="M322.7 235.2L325 237.5L328 236.7L325.8 234.5" fill="#543cf1"/>
<path d="M269.7 219.3L271.9 221.6L275 221L272.9 218.7" fill="#3b81ec"/>
<path d="M328 236.7L330.3 238.9L333.3 238.1L331.1 235.9" fill="#5737f1"/>
<path d="M264.4 217.4L266.6 219.7L269.7 219.3L267.6 217" fill="#3989eb"/>
<path d="M187.8 164.8L189.9 167.4L193.2 169.3L191.1 166.7" fill="#9bfcb9"/>
<path d="M195.3 171.8L197.3 174.4L200.6 175.8L198.5 173.3" fill="#8bf9c3"/>
<path d="M259.1 215.4L261.3 217.7L264.4 217.4L262.3 215.1" fill="#3693ea"/>
<path d="M180.3 157L182.4 159.7L185.7 162.2L183.6 159.6" fill="#adf9ad"/>
<path d="M235.8 203.1L237.9 205.5L241.1 205.9L238.9 203.5" fill="#3abde3"/>
<path d="M223 194.2L225.1 196.6L228.3 197.7L226.2 195.3" fill="#52d5dc"/>
<path d="M202.7 178.4L204.8 180.9L208.1 182L206 179.5" fill="#7df4cb"/>
<path d="M253.8 213.2L256 215.6L259.1 215.4L257 213.1" fill="#349ae9"/>
<path d="M135 86.6L137.1 90.6L140.8 100.1L138.7 96.3" fill="#e32e1a"/>
<path d="M248.5 210.9L250.7 213.2L253.8 213.2L251.7 210.9" fill="#30a6e7"/>
<path d="M210.2 184.5L212.3 187L215.5 188L213.4 185.5" fill="#6eebd2"/>
<path d="M230.4 200.1L232.6 202.5L235.8 203.1L233.6 200.7" fill="#43c7e0"/>
<path d="M137.1 90.6L139.2 94.5L142.9 103.8L140.8 100.1" fill="#e43c22"/>
<path d="M243.2 208.3L245.4 210.6L248.5 210.9L246.4 208.5" fill="#2eaee6"/>
<path d="M217.6 190.5L219.7 192.9L223 194.2L220.9 191.7" fill="#5ee0d8"/>
<path d="M287.8 226.6L290 228.9L293.1 228.2L290.9 225.9" fill="#4369ee"/>
<path d="M282.5 225L284.7 227.3L287.8 226.6L285.6 224.3" fill="#4071ee"/>
<path d="M293.1 228.2L295.4 230.5L298.4 229.7L296.2 227.5" fill="#4564ef"/>
<path d="M309.1 232.9L311.3 235.1L314.4 234.4L312.1 232.2" fill="#4c50f0"/>
<path d="M303.8 231.3L306 233.5L309.1 232.9L306.8 230.6" fill="#4a56f0"/>
<path d="M298.4 229.7L300.7 232L303.8 231.3L301.5 229" fill="#475eef"/>
<path d="M277.2 223.4L279.4 225.7L282.5 225L280.3 222.7" fill="#3e77ed"/>
<path d="M314.4 234.4L316.6 236.7L319.7 236L317.4 233.7" fill="#5048f0"/>
<path d="M319.7 236L321.9 238.2L325 237.5L322.7 235.2" fill="#5242f1"/>
<path d="M189.9 167.4L192 169.9L195.3 171.8L193.2 169.3" fill="#98fbbb"/>
<path d="M271.9 221.6L274.1 223.9L277.2 223.4L275 221" fill="#3c7eed"/>
<path d="M325 237.5L327.2 239.7L330.3 238.9L328 236.7" fill="#543cf1"/>
<path d="M197.3 174.4L199.4 176.9L202.7 178.4L200.6 175.8" fill="#89f9c4"/>
<path d="M266.6 219.7L268.8 222.1L271.9 221.6L269.7 219.3" fill="#3986ec"/>
<path d="M182.4 159.7L184.4 162.3L187.8 164.8L185.7 162.2" fill="#aafaaf"/>
<path d="M261.3 217.7L263.5 220.1L266.6 219.7L264.4 217.4" fill="#3690ea"/>
<path d="M225.1 196.6L227.2 199L230.4 200.1L228.3 197.7" fill="#50d4dc"/>
<path d="M237.9 205.5L240 207.9L243.2 208.3L241.1 205.9" fill="#36b9e3"/>
<path d="M204.8 180.9L206.9 183.4L210.2 184.5L208.1 182" fill="#79f2cc"/>
<path d="M256 215.6L258.2 217.9L261.3 217.7L259.1 215.4" fill="#3498e9"/>
<path d="M139.2 94.5L141.3 98.1L145 107.3L142.9 103.8" fill="#e54828"/>
<path d="M212.3 187L214.4 189.5L217.6 190.5L215.5 188" fill="#6cead2"/>
<path d="M250.7 213.2L252.8 215.6L256 215.6L253.8 213.2" fill="#32a1e8"/>
<path d="M232.6 202.5L234.7 204.9L237.9 205.5L235.8 203.1" fill="#41c5e1"/>
<path d="M245.4 210.6L247.5 213L250.7 213.2L248.5 210.9" fill="#2face6"/>
<path d="M219.7 192.9L221.9 195.4L225.1 196.6L223 194.2" fill="#5ddfd8"/>
<path d="M192 169.9L194.1 172.5L197.3 174.4L195.3 171.8" fill="#95fbbd"/>
<path d="M284.7 227.3L286.9 229.6L290 228.9L287.8 226.6" fill="#416fee"/>
<path d="M290 228.9L292.2 231.2L295.4 230.5L293.1 228.2" fill="#4466ef"/>
<path d="M295.4 230.5L297.6 232.7L300.7 232L298.4 229.7" fill="#4661ef"/>
<path d="M279.4 225.7L281.6 227.9L284.7 227.3L282.5 225" fill="#3f74ee"/>
<path d="M199.4 176.9L201.5 179.4L204.8 180.9L202.7 178.4" fill="#86f8c6"/>
<path d="M300.7 232L302.9 234.3L306 233.5L303.8 231.3" fill="#485bef"/>
<path d="M311.3 235.1L313.5 237.4L316.6 236.7L314.4 234.4" fill="#4d4df0"/>
<path d="M306 233.5L308.2 235.8L311.3 235.1L309.1 232.9" fill="#4b53f0"/>
<path d="M141.3 98.1L143.4 101.7L147.1 110.7L145 107.3" fill="#e6532e"/>
<path d="M316.6 236.7L318.8 238.9L321.9 238.2L319.7 236" fill="#5145f0"/>
<path d="M184.4 162.3L186.5 164.8L189.9 167.4L187.8 164.8" fill="#a7fbb1"/>
<path d="M274.1 223.9L276.3 226.2L279.4 225.7L277.2 223.4" fill="#3d7ced"/>
<path d="M321.9 238.2L324.2 240.5L327.2 239.7L325 237.5" fill="#533ff1"/>
<path d="M268.8 222.1L271 224.4L274.1 223.9L271.9 221.6" fill="#3a84ec"/>
<path d="M227.2 199L229.4 201.4L232.6 202.5L230.4 200.1" fill="#4cd0dd"/>
<path d="M263.5 220.1L265.6 222.4L268.8 222.1L266.6 219.7" fill="#388beb"/>
<path d="M206.9 183.4L209 185.9L212.3 187L210.2 184.5" fill="#78f1cd"/>
<path d="M240 207.9L242.2 210.3L245.4 210.6L243.2 208.3" fill="#34b7e4"/>
<path d="M258.2 217.9L260.3 220.2L263.5 220.1L261.3 217.7" fill="#3595ea"/>
<path d="M214.4 189.5L216.5 191.9L219.7 192.9L217.6 190.5" fill="#69e8d4"/>
<path d="M252.8 215.6L255 217.9L258.2 217.9L256 215.6" fill="#329fe8"/>
<path d="M143.4 101.7L145.4 105.1L149.1 114L147.1 110.7" fill="#e75e35"/>
<path d="M234.7 204.9L236.8 207.3L240 207.9L237.9 205.5" fill="#3fc3e1"/>
<path d="M194.1 172.5L196.2 175L199.4 176.9L197.3 174.4" fill="#94fbbe"/>
<path d="M221.9 195.4L224 197.8L227.2 199L225.1 196.6" fill="#5bddd9"/>
<path d="M247.5 213L249.7 215.4L252.8 215.6L250.7 213.2" fill="#2faae6"/>
<path d="M201.5 179.4L203.7 181.9L206.9 183.4L204.8 180.9" fill="#83f6c8"/>
<path d="M186.5 164.8L188.6 167.4L192 169.9L189.9 167.4" fill="#a4fbb3"/>
<path d="M286.9 229.6L289.1 231.9L292.2 231.2L290 228.9" fill="#426cee"/>
<path d="M292.2 231.2L294.5 233.5L297.6 232.7L295.4 230.5" fill="#4564ef"/>
<path d="M281.6 227.9L283.8 230.2L286.9 229.6L284.7 227.3" fill="#4071ee"/>
<path d="M297.6 232.7L299.8 235L302.9 234.3L300.7 232" fill="#475eef"/>
<path d="M302.9 234.3L305.1 236.5L308.2 235.8L306 233.5" fill="#4959ef"/>
<path d="M308.2 235.8L310.4 238.1L313.5 237.4L311.3 235.1" fill="#4c50f0"/>
<path d="M313.5 237.4L315.8 239.6L318.8 238.9L316.6 236.7" fill="#4f4af0"/>
<path d="M276.3 226.2L278.5 228.5L281.6 227.9L279.4 225.7" fill="#3e79ed"/>
<path d="M318.8 238.9L321.1 241.2L324.2 240.5L321.9 238.2" fill="#5242f1"/>
<path d="M271 224.4L273.2 226.7L276.3 226.2L274.1 223.9" fill="#3b81ec"/>
<path d="M209 185.9L211.2 188.3L214.4 189.5L212.3 187" fill="#74efcf"/>
<path d="M229.4 201.4L231.5 203.8L234.7 204.9L232.6 202.5" fill="#4bcede"/>
<path d="M242.2 210.3L244.3 212.6L247.5 213L245.4 210.6" fill="#32b5e4"/>
<path d="M265.6 222.4L267.8 224.7L271 224.4L268.8 222.1" fill="#3989eb"/>
<path d="M145.4 105.1L147.5 108.4L151.2 117.2L149.1 114" fill="#e9693b"/>
<path d="M260.3 220.2L262.5 222.6L265.6 222.4L263.5 220.1" fill="#3693ea"/>
<path d="M216.5 191.9L218.6 194.3L221.9 195.4L219.7 192.9" fill="#67e7d4"/>
<path d="M255 217.9L257.2 220.2L260.3 220.2L258.2 217.9" fill="#339ce9"/>
<path d="M236.8 207.3L239 209.7L242.2 210.3L240 207.9" fill="#3cbfe2"/>
<path d="M196.2 175L198.3 177.5L201.5 179.4L199.4 176.9" fill="#91fac0"/>
<path d="M224 197.8L226.1 200.2L229.4 201.4L227.2 199" fill="#57dada"/>
<path d="M188.6 167.4L190.7 169.9L194.1 172.5L192 169.9" fill="#a3fbb4"/>
<path d="M203.7 181.9L205.8 184.4L209 185.9L206.9 183.4" fill="#81f6c8"/>
<path d="M249.7 215.4L251.8 217.7L255 217.9L252.8 215.6" fill="#30a8e7"/>
<path d="M147.5 108.4L149.6 111.6L153.3 120.4L151.2 117.2" fill="#ea7140"/>
<path d="M289.1 231.9L291.3 234.2L294.5 233.5L292.2 231.2" fill="#4369ee"/>
<path d="M294.5 233.5L296.7 235.7L299.8 235L297.6 232.7" fill="#4564ef"/>
<path d="M283.8 230.2L286 232.5L289.1 231.9L286.9 229.6" fill="#4071ee"/>
<path d="M299.8 235L302 237.3L305.1 236.5L302.9 234.3" fill="#485bef"/>
<path d="M305.1 236.5L307.3 238.8L310.4 238.1L308.2 235.8" fill="#4a56f0"/>
<path d="M278.5 228.5L280.7 230.8L283.8 230.2L281.6 227.9" fill="#3e77ed"/>
<path d="M310.4 238.1L312.7 240.3L315.8 239.6L313.5 237.4" fill="#4d4df0"/>
<path d="M315.8 239.6L318 241.9L321.1 241.2L318.8 238.9" fill="#5048f0"/>
<path d="M211.2 188.3L213.3 190.8L216.5 191.9L214.4 189.5" fill="#73eecf"/>
<path d="M273.2 226.7L275.4 229L278.5 228.5L276.3 226.2" fill="#3c7eed"/>
<path d="M231.5 203.8L233.6 206.2L236.8 207.3L234.7 204.9" fill="#49cddf"/>
<path d="M244.3 212.6L246.5 215L249.7 215.4L247.5 213" fill="#30b3e5"/>
<path d="M267.8 224.7L270 227L273.2 226.7L271 224.4" fill="#3986ec"/>
<path d="M262.5 222.6L264.7 224.9L267.8 224.7L265.6 222.4" fill="#3690ea"/>
<path d="M218.6 194.3L220.8 196.8L224 197.8L221.9 195.4" fill="#64e4d6"/>
<path d="M257.2 220.2L259.3 222.6L262.5 222.6L260.3 220.2" fill="#349ae9"/>
<path d="M239 209.7L241.1 212.1L244.3 212.6L242.2 210.3" fill="#3abde3"/>
<path d="M149.6 111.6L151.7 114.7L155.4 123.4L153.3 120.4" fill="#ea7945"/>
<path d="M198.3 177.5L200.4 180L203.7 181.9L201.5 179.4" fill="#8ffac1"/>
<path d="M190.7 169.9L192.8 172.4L196.2 175L194.1 172.5" fill="#a0fbb6"/>
<path d="M226.1 200.2L228.3 202.6L231.5 203.8L229.4 201.4" fill="#56d8db"/>
<path d="M205.8 184.4L207.9 186.8L211.2 188.3L209 185.9" fill="#7ef4ca"/>
<path d="M251.8 217.7L254 220L257.2 220.2L255 217.9" fill="#30a6e7"/>
<path d="M291.3 234.2L293.6 236.4L296.7 235.7L294.5 233.5" fill="#4466ef"/>
<path d="M286 232.5L288.2 234.8L291.3 234.2L289.1 231.9" fill="#416fee"/>
<path d="M296.7 235.7L298.9 238L302 237.3L299.8 235" fill="#4661ef"/>
<path d="M213.3 190.8L215.4 193.2L218.6 194.3L216.5 191.9" fill="#70ecd1"/>
<path d="M302 237.3L304.2 239.5L307.3 238.8L305.1 236.5" fill="#4959ef"/>
<path d="M280.7 230.8L282.9 233.1L286 232.5L283.8 230.2" fill="#3f74ee"/>
<path d="M307.3 238.8L309.6 241.1L312.7 240.3L310.4 238.1" fill="#4b53f0"/>
<path d="M312.7 240.3L314.9 242.6L318 241.9L315.8 239.6" fill="#4d4df0"/>
<path d="M233.6 206.2L235.8 208.6L239 209.7L236.8 207.3" fill="#45c9e0"/>
<path d="M275.4 229L277.5 231.3L280.7 230.8L278.5 228.5" fill="#3d7ced"/>
<path d="M246.5 215L248.7 217.3L251.8 217.7L249.7 215.4" fill="#2eb1e5"/>
<path d="M270 227L272.2 229.3L275.4 229L273.2 226.7" fill="#3a84ec"/>
<path d="M264.7 224.9L266.9 227.2L270 227L267.8 224.7" fill="#378eeb"/>
<path d="M220.8 196.8L222.9 199.2L226.1 200.2L224 197.8" fill="#62e3d6"/>
<path d="M151.7 114.7L153.8 117.8L157.5 126.4L155.4 123.4" fill="#eb8149"/>
<path d="M259.3 222.6L261.5 224.9L264.7 224.9L262.5 222.6" fill="#3498e9"/>
<path d="M241.1 212.1L243.3 214.4L246.5 215L244.3 212.6" fill="#38bbe3"/>
<path d="M200.4 180L202.5 182.4L205.8 184.4L203.7 181.9" fill="#8cf9c2"/>
<path d="M192.8 172.4L194.9 175L198.3 177.5L196.2 175" fill="#9dfcb8"/>
<path d="M207.9 186.8L210 189.3L213.3 190.8L211.2 188.3" fill="#7df4cb"/>
<path d="M228.3 202.6L230.4 205L233.6 206.2L231.5 203.8" fill="#54d7db"/>
<path d="M254 220L256.2 222.4L259.3 222.6L257.2 220.2" fill="#32a1e8"/>
<path d="M215.4 193.2L217.5 195.6L220.8 196.8L218.6 194.3" fill="#6eebd2"/>
<path d="M293.6 236.4L295.8 238.7L298.9 238L296.7 235.7" fill="#4564ef"/>
<path d="M288.2 234.8L290.4 237.1L293.6 236.4L291.3 234.2" fill="#426cee"/>
<path d="M298.9 238L301.1 240.3L304.2 239.5L302 237.3" fill="#475eef"/>
<path d="M282.9 233.1L285.1 235.4L288.2 234.8L286 232.5" fill="#4071ee"/>
<path d="M304.2 239.5L306.5 241.8L309.6 241.1L307.3 238.8" fill="#4a56f0"/>
<path d="M235.8 208.6L237.9 211L241.1 212.1L239 209.7" fill="#43c7e0"/>
<path d="M309.6 241.1L311.8 243.3L314.9 242.6L312.7 240.3" fill="#4c50f0"/>
<path d="M277.5 231.3L279.8 233.6L282.9 233.1L280.7 230.8" fill="#3e79ed"/>
<path d="M153.8 117.8L155.9 120.7L159.5 129.3L157.5 126.4" fill="#ec894e"/>
<path d="M248.7 217.3L250.8 219.7L254 220L251.8 217.7" fill="#2face6"/>
<path d="M272.2 229.3L274.4 231.6L277.5 231.3L275.4 229" fill="#3b81ec"/>
<path d="M222.9 199.2L225 201.6L228.3 202.6L226.1 200.2" fill="#60e1d7"/>
<path d="M266.9 227.2L269.1 229.5L272.2 229.3L270 227" fill="#388beb"/>
<path d="M202.5 182.4L204.6 184.9L207.9 186.8L205.8 184.4" fill="#89f9c4"/>
<path d="M243.3 214.4L245.5 216.8L248.7 217.3L246.5 215" fill="#36b9e3"/>
<path d="M261.5 224.9L263.7 227.2L266.9 227.2L264.7 224.9" fill="#3595ea"/>
<path d="M194.9 175L197 177.4L200.4 180L198.3 177.5" fill="#9bfcb9"/>
<path d="M210 189.3L212.1 191.7L215.4 193.2L213.3 190.8" fill="#7bf3cc"/>
<path d="M230.4 205L232.6 207.4L235.8 208.6L233.6 206.2" fill="#50d4dc"/>
<path d="M256.2 222.4L258.4 224.7L261.5 224.9L259.3 222.6" fill="#329fe8"/>
<path d="M155.9 120.7L158 123.7L161.6 132.2L159.5 129.3" fill="#ed9053"/>
<path d="M217.5 195.6L219.7 198L222.9 199.2L220.8 196.8" fill="#6cead2"/>
<path d="M295.8 238.7L298 241L301.1 240.3L298.9 238" fill="#4661ef"/>
<path d="M290.4 237.1L292.7 239.4L295.8 238.7L293.6 236.4" fill="#4369ee"/>
<path d="M237.9 211L240.1 213.3L243.3 214.4L241.1 212.1" fill="#41c5e1"/>
<path d="M301.1 240.3L303.4 242.6L306.5 241.8L304.2 239.5" fill="#485bef"/>
<path d="M285.1 235.4L287.3 237.7L290.4 237.1L288.2 234.8" fill="#416fee"/>
<path d="M306.5 241.8L308.7 244.1L311.8 243.3L309.6 241.1" fill="#4a56f0"/>
<path d="M279.8 233.6L282 235.9L285.1 235.4L282.9 233.1" fill="#3e77ed"/>
<path d="M250.8 219.7L253 222L256.2 222.4L254 220" fill="#2faae6"/>
<path d="M274.4 231.6L276.6 233.9L279.8 233.6L277.5 231.3" fill="#3b81ec"/>
<path d="M225 201.6L227.2 204L230.4 205L228.3 202.6" fill="#5ddfd8"/>
<path d="M269.1 229.5L271.3 231.8L274.4 231.6L272.2 229.3" fill="#3989eb"/>
<path d="M204.6 184.9L206.7 187.3L210 189.3L207.9 186.8" fill="#88f8c5"/>
<path d="M197 177.4L199.2 179.9L202.5 182.4L200.4 180" fill="#98fbbb"/>
<path d="M245.5 216.8L247.6 219.1L250.8 219.7L248.7 217.3" fill="#34b7e4"/>
<path d="M263.7 227.2L265.9 229.5L269.1 229.5L266.9 227.2" fill="#3693ea"/>
<path d="M170 143.2L172 145.9L175.6 151.9L173.5 149.2" fill="#dfd280"/>
<path d="M212.1 191.7L214.3 194.1L217.5 195.6L215.4 193.2" fill="#78f1cd"/>
<path d="M232.6 207.4L234.7 209.7L237.9 211L235.8 208.6" fill="#4ed2dd"/>
<path d="M158 123.7L160 126.6L163.7 135L161.6 132.2" fill="#ee9857"/>
<path d="M258.4 224.7L260.5 227L263.7 227.2L261.5 224.9" fill="#339ce9"/>
<path d="M219.7 198L221.8 200.4L225 201.6L222.9 199.2" fill="#69e8d4"/>
<path d="M240.1 213.3L242.3 215.7L245.5 216.8L243.3 214.4" fill="#3fc3e1"/>
<path d="M292.7 239.4L294.9 241.7L298 241L295.8 238.7" fill="#4466ef"/>
<path d="M298 241L300.3 243.3L303.4 242.6L301.1 240.3" fill="#475eef"/>
<path d="M303.4 242.6L305.6 244.8L308.7 244.1L306.5 241.8" fill="#4959ef"/>
<path d="M287.3 237.7L289.5 240L292.7 239.4L290.4 237.1" fill="#416fee"/>
<path d="M282 235.9L284.2 238.2L287.3 237.7L285.1 235.4" fill="#3f74ee"/>
<path d="M253 222L255.2 224.4L258.4 224.7L256.2 222.4" fill="#30a8e7"/>
<path d="M276.6 233.9L278.8 236.2L282 235.9L279.8 233.6" fill="#3c7eed"/>
<path d="M227.2 204L229.3 206.4L232.6 207.4L230.4 205" fill="#5bddd9"/>
<path d="M271.3 231.8L273.5 234.1L276.6 233.9L274.4 231.6" fill="#3986ec"/>
<path d="M206.7 187.3L208.8 189.8L212.1 191.7L210 189.3" fill="#86f8c6"/>
<path d="M199.2 179.9L201.3 182.4L204.6 184.9L202.5 182.4" fill="#97fbbc"/>
<path d="M172 145.9L174.1 148.6L177.6 154.5L175.6 151.9" fill="#ddd583"/>
<path d="M160 126.6L162.1 129.4L165.8 137.8L163.7 135" fill="#ef9c5b"/>
<path d="M247.6 219.1L249.8 221.5L253 222L250.8 219.7" fill="#32b5e4"/>
<path d="M265.9 229.5L268.1 231.8L271.3 231.8L269.1 229.5" fill="#3690ea"/>
<path d="M214.3 194.1L216.4 196.5L219.7 198L217.5 195.6" fill="#76f0ce"/>
<path d="M234.7 209.7L236.9 212.1L240.1 213.3L237.9 211" fill="#4cd0dd"/>
<path d="M260.5 227L262.7 229.3L265.9 229.5L263.7 227.2" fill="#349ae9"/>
<path d="M221.8 200.4L223.9 202.8L227.2 204L225 201.6" fill="#67e7d4"/>
<path d="M242.3 215.7L244.4 218L247.6 219.1L245.5 216.8" fill="#3dc1e2"/>
<path d="M294.9 241.7L297.1 243.9L300.3 243.3L298 241" fill="#4564ef"/>
<path d="M300.3 243.3L302.5 245.5L305.6 244.8L303.4 242.6" fill="#475eef"/>
<path d="M289.5 240L291.8 242.2L294.9 241.7L292.7 239.4" fill="#426cee"/>
<path d="M255.2 224.4L257.4 226.7L260.5 227L258.4 224.7" fill="#30a6e7"/>
<path d="M284.2 238.2L286.4 240.4L289.5 240L287.3 237.7" fill="#3f74ee"/>
<path d="M278.8 236.2L281 238.5L284.2 238.2L282 235.9" fill="#3d7ced"/>
<path d="M229.3 206.4L231.5 208.7L234.7 209.7L232.6 207.4" fill="#59dcd9"/>
<path d="M162.1 129.4L164.2 132.2L167.9 140.5L165.8 137.8" fill="#f0a15e"/>
<path d="M174.1 148.6L176.2 151.2L179.7 157.1L177.6 154.5" fill="#dad885"/>
<path d="M273.5 234.1L275.7 236.4L278.8 236.2L276.6 233.9" fill="#3a84ec"/>
<path d="M208.8 189.8L211 192.2L214.3 194.1L212.1 191.7" fill="#83f6c8"/>
<path d="M201.3 182.4L203.4 184.8L206.7 187.3L204.6 184.9" fill="#94fbbe"/>
<path d="M249.8 221.5L252 223.8L255.2 224.4L253 222" fill="#30b3e5"/>
<path d="M216.4 196.5L218.5 198.9L221.8 200.4L219.7 198" fill="#74efcf"/>
<path d="M268.1 231.8L270.3 234.1L273.5 234.1L271.3 231.8" fill="#378eeb"/>
<path d="M236.9 212.1L239 214.5L242.3 215.7L240.1 213.3" fill="#4bcede"/>
<path d="M262.7 229.3L264.9 231.7L268.1 231.8L265.9 229.5" fill="#3498e9"/>
<path d="M223.9 202.8L226.1 205.2L229.3 206.4L227.2 204" fill="#65e5d5"/>
<path d="M244.4 218L246.6 220.4L249.8 221.5L247.6 219.1" fill="#3cbfe2"/>
<path d="M297.1 243.9L299.4 246.2L302.5 245.5L300.3 243.3" fill="#4661ef"/>
<path d="M291.8 242.2L294 244.5L297.1 243.9L294.9 241.7" fill="#4369ee"/>
<path d="M257.4 226.7L259.6 229L262.7 229.3L260.5 227" fill="#31a3e8"/>
<path d="M164.2 132.2L166.3 134.9L170 143.2L167.9 140.5" fill="#f1a862"/>
<path d="M286.4 240.4L288.6 242.7L291.8 242.2L289.5 240" fill="#4071ee"/>
<path d="M231.5 208.7L233.7 211.1L236.9 212.1L234.7 209.7" fill="#57dada"/>
<path d="M176.2 151.2L178.3 153.8L181.8 159.7L179.7 157.1" fill="#d7db88"/>
<path d="M281 238.5L283.3 240.8L286.4 240.4L284.2 238.2" fill="#3e79ed"/>
<path d="M211 192.2L213.1 194.6L216.4 196.5L214.3 194.1" fill="#81f6c8"/>
<path d="M203.4 184.8L205.5 187.2L208.8 189.8L206.7 187.3" fill="#92fbbf"/>
<path d="M275.7 236.4L277.9 238.7L281 238.5L278.8 236.2" fill="#3b81ec"/>
<path d="M218.5 198.9L220.7 201.3L223.9 202.8L221.8 200.4" fill="#71edd0"/>
<path d="M252 223.8L254.2 226.1L257.4 226.7L255.2 224.4" fill="#2eb1e5"/>
<path d="M270.3 234.1L272.5 236.4L275.7 236.4L273.5 234.1" fill="#388beb"/>
<path d="M239 214.5L241.2 216.8L244.4 218L242.3 215.7" fill="#49cddf"/>
<path d="M226.1 205.2L228.2 207.6L231.5 208.7L229.3 206.4" fill="#64e4d6"/>
<path d="M264.9 231.7L267.1 234L270.3 234.1L268.1 231.8" fill="#3498e9"/>
<path d="M246.6 220.4L248.8 222.7L252 223.8L249.8 221.5" fill="#3abde3"/>
<path d="M166.3 134.9L168.4 137.6L172 145.9L170 143.2" fill="#f1ad65"/>
<path d="M259.6 229L261.8 231.3L264.9 231.7L262.7 229.3" fill="#32a1e8"/>
<path d="M294 244.5L296.2 246.8L299.4 246.2L297.1 243.9" fill="#4466ef"/>
<path d="M178.3 153.8L180.5 156.4L183.9 162.2L181.8 159.7" fill="#d5de8a"/>
<path d="M288.6 242.7L290.9 245L294 244.5L291.8 242.2" fill="#416fee"/>
<path d="M233.7 211.1L235.8 213.5L239 214.5L236.9 212.1" fill="#56d8db"/>
<path d="M283.3 240.8L285.5 243.1L288.6 242.7L286.4 240.4" fill="#3e77ed"/>
<path d="M205.5 187.2L207.7 189.7L211 192.2L208.8 189.8" fill="#91fac0"/>
<path d="M213.1 194.6L215.3 197L218.5 198.9L216.4 196.5" fill="#80f5c9"/>
<path d="M277.9 238.7L280.1 241L283.3 240.8L281 238.5" fill="#3c7eed"/>
<path d="M220.7 201.3L222.8 203.7L226.1 205.2L223.9 202.8" fill="#70ecd1"/>
<path d="M254.2 226.1L256.4 228.4L259.6 229L257.4 226.7" fill="#2eaee6"/>
<path d="M272.5 236.4L274.7 238.7L277.9 238.7L275.7 236.4" fill="#3989eb"/>
<path d="M241.2 216.8L243.4 219.2L246.6 220.4L244.4 218" fill="#47cbdf"/>
<path d="M228.2 207.6L230.4 210L233.7 211.1L231.5 208.7" fill="#60e1d7"/>
<path d="M267.1 234L269.3 236.3L272.5 236.4L270.3 234.1" fill="#3595ea"/>
<path d="M168.4 137.6L170.5 140.3L174.1 148.6L172 145.9" fill="#f2b168"/>
<path d="M248.8 222.7L251 225L254.2 226.1L252 223.8" fill="#38bbe3"/>
<path d="M180.5 156.4L182.6 158.9L186 164.8L183.9 162.2" fill="#d3df8c"/>
<path d="M261.8 231.3L264 233.6L267.1 234L264.9 231.7" fill="#329fe8"/>
<path d="M235.8 213.5L238 215.8L241.2 216.8L239 214.5" fill="#54d7db"/>
<path d="M290.9 245L293.1 247.3L296.2 246.8L294 244.5" fill="#426cee"/>
<path d="M207.7 189.7L209.8 192.1L213.1 194.6L211 192.2" fill="#8efac2"/>
<path d="M215.3 197L217.4 199.4L220.7 201.3L218.5 198.9" fill="#7df4cb"/>
<path d="M285.5 243.1L287.7 245.4L290.9 245L288.6 242.7" fill="#3f74ee"/>
<path d="M280.1 241L282.3 243.3L285.5 243.1L283.3 240.8" fill="#3d7ced"/>
<path d="M222.8 203.7L225 206.1L228.2 207.6L226.1 205.2" fill="#6eebd2"/>
<path d="M256.4 228.4L258.6 230.8L261.8 231.3L259.6 229" fill="#2face6"/>
<path d="M243.4 219.2L245.6 221.5L248.8 222.7L246.6 220.4" fill="#45c9e0"/>
<path d="M274.7 238.7L276.9 241L280.1 241L277.9 238.7" fill="#3986ec"/>
<path d="M170.5 140.3L172.6 142.9L176.2 151.2L174.1 148.6" fill="#f3b66b"/>
<path d="M230.4 210L232.6 212.3L235.8 213.5L233.7 211.1" fill="#5ee0d8"/>
<path d="M269.3 236.3L271.6 238.6L274.7 238.7L272.5 236.4" fill="#3693ea"/>
<path d="M182.6 158.9L184.7 161.4L188.2 167.3L186 164.8" fill="#d1e28e"/>
<path d="M251 225L253.2 227.4L256.4 228.4L254.2 226.1" fill="#36b9e3"/>
<path d="M264 233.6L266.2 235.9L269.3 236.3L267.1 234" fill="#339ce9"/>
<path d="M238 215.8L240.2 218.2L243.4 219.2L241.2 216.8" fill="#50d4dc"/>
<path d="M209.8 192.1L211.9 194.5L215.3 197L213.1 194.6" fill="#8cf9c2"/>
<path d="M217.4 199.4L219.5 201.8L222.8 203.7L220.7 201.3" fill="#7bf3cc"/>
<path d="M287.7 245.4L290 247.7L293.1 247.3L290.9 245" fill="#4071ee"/>
<path d="M225 206.1L227.1 208.5L230.4 210L228.2 207.6" fill="#6cead2"/>
<path d="M282.3 243.3L284.6 245.6L287.7 245.4L285.5 243.1" fill="#3d7ced"/>
<path d="M258.6 230.8L260.8 233.1L264 233.6L261.8 231.3" fill="#2faae6"/>
<path d="M245.6 221.5L247.8 223.8L251 225L248.8 222.7" fill="#43c7e0"/>
<path d="M276.9 241L279.2 243.3L282.3 243.3L280.1 241" fill="#3a84ec"/>
<path d="M172.6 142.9L174.8 145.5L178.3 153.8L176.2 151.2" fill="#f1ba6e"/>
<path d="M232.6 212.3L234.7 214.7L238 215.8L235.8 213.5" fill="#5ddfd8"/>
<path d="M271.6 238.6L273.8 240.9L276.9 241L274.7 238.7" fill="#3690ea"/>
<path d="M184.7 161.4L186.8 164L190.3 169.8L188.2 167.3" fill="#cee591"/>
<path d="M253.2 227.4L255.4 229.7L258.6 230.8L256.4 228.4" fill="#34b7e4"/>
<path d="M266.2 235.9L268.4 238.3L271.6 238.6L269.3 236.3" fill="#339ce9"/>
<path d="M240.2 218.2L242.3 220.5L245.6 221.5L243.4 219.2" fill="#4ed2dd"/>
<path d="M211.9 194.5L214.1 196.9L217.4 199.4L215.3 197" fill="#8bf9c3"/>
<path d="M219.5 201.8L221.7 204.2L225 206.1L222.8 203.7" fill="#79f2cc"/>
<path d="M227.1 208.5L229.3 210.8L232.6 212.3L230.4 210" fill="#6ae9d3"/>
<path d="M284.6 245.6L286.8 247.9L290 247.7L287.7 245.4" fill="#3e79ed"/>
<path d="M174.8 145.5L176.9 148.1L180.5 156.4L178.3 153.8" fill="#f0bc6f"/>
<path d="M260.8 233.1L263 235.4L266.2 235.9L264 233.6" fill="#30a8e7"/>
<path d="M247.8 223.8L249.9 226.2L253.2 227.4L251 225" fill="#41c5e1"/>
<path d="M279.2 243.3L281.4 245.6L284.6 245.6L282.3 243.3" fill="#3a84ec"/>
<path d="M234.7 214.7L236.9 217L240.2 218.2L238 215.8" fill="#5bddd9"/>
<path d="M186.8 164L188.9 166.4L192.4 172.3L190.3 169.8" fill="#cde692"/>
<path d="M273.8 240.9L276 243.2L279.2 243.3L276.9 241" fill="#378eeb"/>
<path d="M255.4 229.7L257.6 232L260.8 233.1L258.6 230.8" fill="#32b5e4"/>
<path d="M214.1 196.9L216.2 199.3L219.5 201.8L217.4 199.4" fill="#89f9c4"/>
<path d="M242.3 220.5L244.5 222.9L247.8 223.8L245.6 221.5" fill="#4cd0dd"/>
<path d="M268.4 238.3L270.6 240.6L273.8 240.9L271.6 238.6" fill="#349ae9"/>
<path d="M221.7 204.2L223.9 206.5L227.1 208.5L225 206.1" fill="#78f1cd"/>
<path d="M229.3 210.8L231.5 213.2L234.7 214.7L232.6 212.3" fill="#69e8d4"/>
<path d="M176.9 148.1L179 150.7L182.6 158.9L180.5 156.4" fill="#edc072"/>
<path d="M263 235.4L265.2 237.7L268.4 238.3L266.2 235.9" fill="#30a6e7"/>
<path d="M249.9 226.2L252.1 228.5L255.4 229.7L253.2 227.4" fill="#3fc3e1"/>
<path d="M281.4 245.6L283.6 247.9L286.8 247.9L284.6 245.6" fill="#3b81ec"/>
<path d="M188.9 166.4L191.1 168.9L194.5 174.8L192.4 172.3" fill="#cae895"/>
<path d="M236.9 217L239.1 219.4L242.3 220.5L240.2 218.2" fill="#59dcd9"/>
<path d="M276 243.2L278.2 245.5L281.4 245.6L279.2 243.3" fill="#388beb"/>
<path d="M257.6 232L259.8 234.3L263 235.4L260.8 233.1" fill="#30b3e5"/>
<path d="M216.2 199.3L218.4 201.7L221.7 204.2L219.5 201.8" fill="#86f8c6"/>
<path d="M244.5 222.9L246.7 225.2L249.9 226.2L247.8 223.8" fill="#4bcede"/>
<path d="M223.9 206.5L226 208.9L229.3 210.8L227.1 208.5" fill="#76f0ce"/>
<path d="M270.6 240.6L272.8 242.9L276 243.2L273.8 240.9" fill="#3498e9"/>
<path d="M179 150.7L181.1 153.2L184.7 161.4L182.6 158.9" fill="#eac375"/>
<path d="M231.5 213.2L233.7 215.5L236.9 217L234.7 214.7" fill="#65e5d5"/>
<path d="M265.2 237.7L267.4 240L270.6 240.6L268.4 238.3" fill="#31a3e8"/>
<path d="M252.1 228.5L254.3 230.8L257.6 232L255.4 229.7" fill="#3dc1e2"/>
<path d="M191.1 168.9L193.2 171.4L196.6 177.2L194.5 174.8" fill="#c8ea96"/>
<path d="M239.1 219.4L241.3 221.7L244.5 222.9L242.3 220.5" fill="#57dada"/>
<path d="M278.2 245.5L280.5 247.8L283.6 247.9L281.4 245.6" fill="#3989eb"/>
<path d="M259.8 234.3L262 236.7L265.2 237.7L263 235.4" fill="#2eb1e5"/>
<path d="M218.4 201.7L220.6 204L223.9 206.5L221.7 204.2" fill="#85f7c7"/>
<path d="M226 208.9L228.2 211.2L231.5 213.2L229.3 210.8" fill="#74efcf"/>
<path d="M246.7 225.2L248.9 227.5L252.1 228.5L249.9 226.2" fill="#49cddf"/>
<path d="M272.8 242.9L275 245.2L278.2 245.5L276 243.2" fill="#3595ea"/>
<path d="M181.1 153.2L183.2 155.8L186.8 164L184.7 161.4" fill="#e9c576"/>
<path d="M233.7 215.5L235.8 217.9L239.1 219.4L236.9 217" fill="#64e4d6"/>
<path d="M267.4 240L269.6 242.3L272.8 242.9L270.6 240.6" fill="#32a1e8"/>
<path d="M254.3 230.8L256.6 233.1L259.8 234.3L257.6 232" fill="#3cbfe2"/>
<path d="M193.2 171.4L195.3 173.8L198.8 179.7L196.6 177.2" fill="#c6ec98"/>
<path d="M241.3 221.7L243.5 224L246.7 225.2L244.5 222.9" fill="#56d8db"/>
<path d="M262 236.7L264.2 239L267.4 240L265.2 237.7" fill="#2eaee6"/>
<path d="M220.6 204L222.7 206.4L226 208.9L223.9 206.5" fill="#83f6c8"/>
<path d="M228.2 211.2L230.4 213.6L233.7 215.5L231.5 213.2" fill="#73eecf"/>
<path d="M183.2 155.8L185.4 158.3L188.9 166.4L186.8 164" fill="#e6c979"/>
<path d="M248.9 227.5L251.1 229.8L254.3 230.8L252.1 228.5" fill="#49cddf"/>
<path d="M275 245.2L277.3 247.5L280.5 247.8L278.2 245.5" fill="#3693ea"/>
<path d="M235.8 217.9L238 220.2L241.3 221.7L239.1 219.4" fill="#62e3d6"/>
<path d="M195.3 173.8L197.5 176.3L200.9 182.1L198.8 179.7" fill="#c4ed99"/>
<path d="M269.6 242.3L271.9 244.6L275 245.2L272.8 242.9" fill="#329fe8"/>
<path d="M256.6 233.1L258.8 235.5L262 236.7L259.8 234.3" fill="#3abde3"/>
<path d="M243.5 224L245.7 226.4L248.9 227.5L246.7 225.2" fill="#54d7db"/>
<path d="M264.2 239L266.4 241.3L269.6 242.3L267.4 240" fill="#2face6"/>
<path d="M222.7 206.4L224.9 208.8L228.2 211.2L226 208.9" fill="#81f6c8"/>
<path d="M185.4 158.3L187.5 160.8L191.1 168.9L188.9 166.4" fill="#e4cd7c"/>
<path d="M230.4 213.6L232.6 215.9L235.8 217.9L233.7 215.5" fill="#71edd0"/>
<path d="M251.1 229.8L253.3 232.2L256.6 233.1L254.3 230.8" fill="#47cbdf"/>
<path d="M238 220.2L240.2 222.6L243.5 224L241.3 221.7" fill="#60e1d7"/>
<path d="M197.5 176.3L199.6 178.7L203.1 184.5L200.9 182.1" fill="#c3ee9b"/>
<path d="M271.9 244.6L274.1 246.9L277.3 247.5L275 245.2" fill="#339ce9"/>
<path d="M258.8 235.5L261 237.8L264.2 239L262 236.7" fill="#38bbe3"/>
<path d="M245.7 226.4L247.9 228.7L251.1 229.8L248.9 227.5" fill="#52d5dc"/>
<path d="M187.5 160.8L189.6 163.2L193.2 171.4L191.1 168.9" fill="#e2ce7d"/>
<path d="M224.9 208.8L227.1 211.1L230.4 213.6L228.2 211.2" fill="#80f5c9"/>
<path d="M266.4 241.3L268.7 243.6L271.9 244.6L269.6 242.3" fill="#2faae6"/>
<path d="M232.6 215.9L234.8 218.3L238 220.2L235.8 217.9" fill="#70ecd1"/>
<path d="M253.3 232.2L255.5 234.5L258.8 235.5L256.6 233.1" fill="#45c9e0"/>
<path d="M240.2 222.6L242.4 224.9L245.7 226.4L243.5 224" fill="#5ee0d8"/>
<path d="M199.6 178.7L201.8 181.1L205.2 186.9L203.1 184.5" fill="#c0f09d"/>
<path d="M261 237.8L263.2 240.1L266.4 241.3L264.2 239" fill="#36b9e3"/>
<path d="M247.9 228.7L250.1 231L253.3 232.2L251.1 229.8" fill="#50d4dc"/>
<path d="M189.6 163.2L191.8 165.7L195.3 173.8L193.2 171.4" fill="#e1d07f"/>
<path d="M227.1 211.1L229.3 213.5L232.6 215.9L230.4 213.6" fill="#7ef4ca"/>
<path d="M268.7 243.6L270.9 245.9L274.1 246.9L271.9 244.6" fill="#2faae6"/>
<path d="M234.8 218.3L236.9 220.6L240.2 222.6L238 220.2" fill="#6eebd2"/>
<path d="M255.5 234.5L257.8 236.8L261 237.8L258.8 235.5" fill="#43c7e0"/>
<path d="M242.4 224.9L244.6 227.2L247.9 228.7L245.7 226.4" fill="#5ee0d8"/>
<path d="M201.8 181.1L203.9 183.5L207.4 189.3L205.2 186.9" fill="#bff19e"/>
<path d="M263.2 240.1L265.4 242.4L268.7 243.6L266.4 241.3" fill="#34b7e4"/>
<path d="M250.1 231L252.3 233.4L255.5 234.5L253.3 232.2" fill="#4ed2dd"/>
<path d="M191.8 165.7L193.9 168.2L197.5 176.3L195.3 173.8" fill="#ded381"/>
<path d="M229.3 213.5L231.5 215.8L234.8 218.3L232.6 215.9" fill="#7df4cb"/>
<path d="M236.9 220.6L239.1 223L242.4 224.9L240.2 222.6" fill="#6cead2"/>
<path d="M257.8 236.8L260 239.1L263.2 240.1L261 237.8" fill="#41c5e1"/>
<path d="M244.6 227.2L246.8 229.6L250.1 231L247.9 228.7" fill="#5ddfd8"/>
<path d="M203.9 183.5L206.1 185.9L209.5 191.7L207.4 189.3" fill="#bef19f"/>
<path d="M265.4 242.4L267.7 244.7L270.9 245.9L268.7 243.6" fill="#32b5e4"/>
<path d="M252.3 233.4L254.5 235.7L257.8 236.8L255.5 234.5" fill="#4cd0dd"/>
<path d="M193.9 168.2L196.1 170.6L199.6 178.7L197.5 176.3" fill="#ddd583"/>
<path d="M231.5 215.8L233.6 218.2L236.9 220.6L234.8 218.3" fill="#7bf3cc"/>
<path d="M239.1 223L241.3 225.3L244.6 227.2L242.4 224.9" fill="#6ae9d3"/>
<path d="M260 239.1L262.2 241.4L265.4 242.4L263.2 240.1" fill="#3fc3e1"/>
<path d="M206.1 185.9L208.2 188.3L211.7 194.1L209.5 191.7" fill="#bcf2a1"/>
<path d="M246.8 229.6L249 231.9L252.3 233.4L250.1 231" fill="#5bddd9"/>
<path d="M254.5 235.7L256.7 238L260 239.1L257.8 236.8" fill="#4cd0dd"/>
<path d="M196.1 170.6L198.2 173L201.8 181.1L199.6 178.7" fill="#dbd784"/>
<path d="M233.6 218.2L235.8 220.5L239.1 223L236.9 220.6" fill="#79f2cc"/>
<path d="M241.3 225.3L243.6 227.6L246.8 229.6L244.6 227.2" fill="#69e8d4"/>
<path d="M262.2 241.4L264.5 243.8L267.7 244.7L265.4 242.4" fill="#3dc1e2"/>
<path d="M208.2 188.3L210.4 190.7L213.8 196.5L211.7 194.1" fill="#bbf3a2"/>
<path d="M249 231.9L251.3 234.2L254.5 235.7L252.3 233.4" fill="#59dcd9"/>
<path d="M198.2 173L200.4 175.4L203.9 183.5L201.8 181.1" fill="#d9da87"/>
<path d="M256.7 238L259 240.3L262.2 241.4L260 239.1" fill="#4bcede"/>
<path d="M235.8 220.5L238.1 222.8L241.3 225.3L239.1 223" fill="#78f1cd"/>
<path d="M243.6 227.6L245.8 230L249 231.9L246.8 229.6" fill="#67e7d4"/>
<path d="M210.4 190.7L212.6 193.1L216 198.9L213.8 196.5" fill="#b9f4a3"/>
<path d="M251.3 234.2L253.5 236.5L256.7 238L254.5 235.7" fill="#57dada"/>
<path d="M200.4 175.4L202.6 177.8L206.1 185.9L203.9 183.5" fill="#d7db88"/>
<path d="M259 240.3L261.2 242.6L264.5 243.8L262.2 241.4" fill="#49cddf"/>
<path d="M238.1 222.8L240.3 225.2L243.6 227.6L241.3 225.3" fill="#76f0ce"/>
<path d="M245.8 230L248 232.3L251.3 234.2L249 231.9" fill="#65e5d5"/>
<path d="M212.6 193.1L214.8 195.5L218.2 201.2L216 198.9" fill="#b7f5a5"/>
<path d="M253.5 236.5L255.7 238.8L259 240.3L256.7 238" fill="#56d8db"/>
<path d="M202.6 177.8L204.7 180.2L208.2 188.3L206.1 185.9" fill="#d6dd89"/>
<path d="M240.3 225.2L242.5 227.5L245.8 230L243.6 227.6" fill="#74efcf"/>
<path d="M248 232.3L250.2 234.6L253.5 236.5L251.3 234.2" fill="#64e4d6"/>
<path d="M214.8 195.5L217 197.8L220.4 203.6L218.2 201.2" fill="#b5f6a6"/>
<path d="M255.7 238.8L258 241.2L261.2 242.6L259 240.3" fill="#54d7db"/>
<path d="M204.7 180.2L206.9 182.6L210.4 190.7L208.2 188.3" fill="#d5de8a"/>
<path d="M242.5 227.5L244.7 229.8L248 232.3L245.8 230" fill="#73eecf"/>
<path d="M250.2 234.6L252.5 236.9L255.7 238.8L253.5 236.5" fill="#62e3d6"/>
<path d="M217 197.8L219.2 200.2L222.6 206L220.4 203.6" fill="#b4f7a7"/>
<path d="M206.9 182.6L209.1 185L212.6 193.1L210.4 190.7" fill="#d3df8c"/>
<path d="M244.7 229.8L246.9 232.2L250.2 234.6L248 232.3" fill="#71edd0"/>
<path d="M252.5 236.9L254.7 239.3L258 241.2L255.7 238.8" fill="#60e1d7"/>
<path d="M219.2 200.2L221.4 202.6L224.8 208.3L222.6 206" fill="#b2f7a9"/>
<path d="M209.1 185L211.3 187.4L214.8 195.5L212.6 193.1" fill="#d1e28e"/>
<path d="M246.9 232.2L249.2 234.5L252.5 236.9L250.2 234.6" fill="#71edd0"/>
<path d="M221.4 202.6L223.6 204.9L227 210.7L224.8 208.3" fill="#b1f8aa"/>
<path d="M211.3 187.4L213.5 189.7L217 197.8L214.8 195.5" fill="#cfe390"/>
<path d="M249.2 234.5L251.4 236.8L254.7 239.3L252.5 236.9" fill="#70ecd1"/>
<path d="M223.6 204.9L225.8 207.3L229.2 213L227 210.7" fill="#b0f8ab"/>
<path d="M213.5 189.7L215.7 192.1L219.2 200.2L217 197.8" fill="#cee591"/>
<path d="M225.8 207.3L228 209.6L231.4 215.4L229.2 213" fill="#aef9ac"/>
<path d="M215.7 192.1L217.9 194.5L221.4 202.6L219.2 200.2" fill="#cde692"/>
<path d="M228 209.6L230.2 211.9L233.6 217.7L231.4 215.4" fill="#adf9ad"/>
<path d="M217.9 194.5L220.1 196.8L223.6 204.9L221.4 202.6" fill="#cbe793"/>
<path d="M230.2 211.9L232.4 214.3L235.8 220L233.6 217.7" fill="#adf9ad"/>
<path d="M220.1 196.8L222.3 199.2L225.8 207.3L223.6 204.9" fill="#cae895"/>
<path d="M232.4 214.3L234.7 216.6L238 222.4L235.8 220" fill="#abfaae"/>
<path d="M222.3 199.2L224.5 201.5L228 209.6L225.8 207.3" fill="#c8ea96"/>
<path d="M234.7 216.6L236.9 219L240.3 224.7L238 222.4" fill="#aafaaf"/>
<path d="M224.5 201.5L226.7 203.9L230.2 211.9L228 209.6" fill="#c7eb97"/>
<path d="M236.9 219L239.1 221.3L242.5 227L240.3 224.7" fill="#a9fab0"/>
<path d="M226.7 203.9L229 206.2L232.4 214.3L230.2 211.9" fill="#c7eb97"/>
<path d="M239.1 221.3L241.4 223.6L244.8 229.4L242.5 227" fill="#a7fbb1"/>
<path d="M229 206.2L231.2 208.5L234.7 216.6L232.4 214.3" fill="#c6ec98"/>
<path d="M231.2 208.5L233.5 210.9L236.9 219L234.7 216.6" fill="#c4ed99"/>
<path d="M233.5 210.9L235.7 213.2L239.1 221.3L236.9 219" fill="#c3ee9b"/>
<path d="M235.7 213.2L238 215.5L241.4 223.6L239.1 221.3" fill="#c2ef9c"/>
</g>
<g id="dots3d">
<circle cx="130.94" cy="82.34" r="1.3" fill="#55342d" fill-opacity="0.90"/>
<circle cx="132.46" cy="84.44" r="1.3" fill="#55342d" fill-opacity="0.90"/>
<circle cx="134.1" cy="87.09" r="1.3" fill="#55342d" fill-opacity="0.90"/>
<circle cx="135.91" cy="91.23" r="1.3" fill="#5c362e" fill-opacity="0.90"/>
<circle cx="137.91" cy="97.15" r="1.3" fill="#6a3b30" fill-opacity="0.90"/>
<circle cx="139.92" cy="101.17" r="1.3" fill="#854433" fill-opacity="0.90"/>
<circle cx="141.93" cy="102.5" r="1.3" fill="#7e4132" fill-opacity="0.90"/>
<circle cx="144.22" cy="107.09" r="1.3" fill="#af5338" fill-opacity="0.90"/>
<circle cx="146.57" cy="110.06" r="1.3" fill="#c15e3d" fill-opacity="0.90"/>
<circle cx="149.01" cy="111.82" r="1.3" fill="#bb5a3b" fill-opacity="0.90"/>
<circle cx="151.77" cy="117.39" r="1.3" fill="#e97a47" fill-opacity="0.70"/>
<circle cx="154.68" cy="122.62" r="1.3" fill="#ec864c" fill-opacity="0.70"/>
<circle cx="157.7" cy="126.08" r="1.3" fill="#ed8a4d" fill-opacity="0.70"/>
<circle cx="160.9" cy="129.22" r="1.3" fill="#ed8c4e" fill-opacity="0.70"/>
<circle cx="164.33" cy="132.99" r="1.3" fill="#ee8f4f" fill-opacity="0.70"/>
<circle cx="168.08" cy="139.58" r="1.3" fill="#ed9c54" fill-opacity="0.70"/>
<circle cx="171.87" cy="140.45" r="1.3" fill="#ef9450" fill-opacity="0.70"/>
<circle cx="176.17" cy="148.7" r="1.3" fill="#e9a358" fill-opacity="0.70"/>
<circle cx="180.61" cy="153.14" r="1.3" fill="#e8a559" fill-opacity="0.70"/>
<circle cx="185.44" cy="160.27" r="1.3" fill="#e2ae5e" fill-opacity="0.70"/>
<circle cx="190.52" cy="165.21" r="1.3" fill="#e0af5f" fill-opacity="0.70"/>
<circle cx="195.95" cy="170.64" r="1.3" fill="#d7ac5e" fill-opacity="0.70"/>
<circle cx="201.83" cy="178.75" r="1.3" fill="#ae9e58" fill-opacity="0.70"/>
<circle cx="208.06" cy="185.04" r="1.3" fill="#a29a57" fill-opacity="0.70"/>
<circle cx="214.74" cy="191.69" r="1.3" fill="#979655" fill-opacity="0.70"/>
<circle cx="221.93" cy="200.92" r="1.3" fill="#8b9657" fill-opacity="0.70"/>
<circle cx="229.59" cy="207.82" r="1.3" fill="#8a9657" fill-opacity="0.70"/>
<circle cx="237.85" cy="216.89" r="1.3" fill="#839659" fill-opacity="0.70"/>
<circle cx="158.8" cy="108.86" r="1.3" fill="#ad9e58" fill-opacity="0.90"/>
<circle cx="160.41" cy="113.37" r="1.3" fill="#909656" fill-opacity="0.90"/>
<circle cx="162.09" cy="117.67" r="1.3" fill="#849659" fill-opacity="0.90"/>
<circle cx="163.83" cy="120.67" r="1.3" fill="#7e965a" fill-opacity="0.90"/>
<circle cx="165.63" cy="122.81" r="1.3" fill="#7d965b" fill-opacity="0.90"/>
<circle cx="167.51" cy="124.05" r="1.3" fill="#7d965a" fill-opacity="0.10"/>
<circle cx="169.66" cy="129.11" r="1.3" fill="#7b9a62" fill-opacity="0.10"/>
<circle cx="171.91" cy="133.57" r="1.3" fill="#799e69" fill-opacity="0.90"/>
<circle cx="174.23" cy="136.16" r="1.3" fill="#799e6b" fill-opacity="0.10"/>
<circle cx="176.82" cy="142.61" r="1.3" fill="#71a175" fill-opacity="0.90"/>
<circle cx="179.45" cy="145.57" r="1.3" fill="#6fa277" fill-opacity="0.90"/>
<circle cx="182.28" cy="149.38" r="1.3" fill="#6ca27a" fill-opacity="0.90"/>
<circle cx="185.32" cy="154.3" r="1.3" fill="#66a480" fill-opacity="0.90"/>
<circle cx="188.44" cy="155.3" r="1.3" fill="#6aa37c" fill-opacity="0.10"/>
<circle cx="191.93" cy="161.71" r="1.3" fill="#62a484" fill-opacity="0.10"/>
<circle cx="195.59" cy="166.86" r="1.3" fill="#5ea488" fill-opacity="0.10"/>
<circle cx="199.49" cy="171.75" r="1.3" fill="#5aa28a" fill-opacity="0.10"/>
<circle cx="203.63" cy="176.13" r="1.3" fill="#58a28b" fill-opacity="0.10"/>
<circle cx="208.09" cy="182.63" r="1.3" fill="#529e8f" fill-opacity="0.90"/>
<circle cx="212.84" cy="188.51" r="1.3" fill="#4e9c91" fill-opacity="0.90"/>
<circle cx="217.87" cy="192.66" r="1.3" fill="#4e9d91" fill-opacity="0.10"/>
<circle cx="223.28" cy="199.01" r="1.3" fill="#4b9b93" fill-opacity="0.90"/>
<circle cx="229.09" cy="206.39" r="1.3" fill="#499896" fill-opacity="0.90"/>
<circle cx="235.29" cy="213.9" r="1.3" fill="#489599" fill-opacity="0.90"/>
<circle cx="241.93" cy="221.43" r="1.3" fill="#47939b" fill-opacity="0.90"/>
<circle cx="249.01" cy="225.3" r="1.3" fill="#489698" fill-opacity="0.10"/>
<circle cx="256.65" cy="236.11" r="1.3" fill="#458f9d" fill-opacity="0.10"/>
<circle cx="264.82" cy="243.52" r="1.3" fill="#458f9d" fill-opacity="0.10"/>
<circle cx="208.25" cy="108.94" r="1.3" fill="#71a175" fill-opacity="0.10"/>
<circle cx="209.74" cy="110.16" r="1.3" fill="#71a175" fill-opacity="0.10"/>
<circle cx="211.36" cy="113.19" r="1.3" fill="#6da279" fill-opacity="0.10"/>
<circle cx="213.15" cy="119.22" r="1.3" fill="#62a484" fill-opacity="0.10"/>
<circle cx="214.99" cy="123.01" r="1.3" fill="#5da488" fill-opacity="0.10"/>
<circle cx="216.93" cy="125.2" r="1.3" fill="#5ba389" fill-opacity="0.10"/>
<circle cx="219" cy="128.6" r="1.3" fill="#57a18c" fill-opacity="0.10"/>
<circle cx="221.25" cy="134.68" r="1.3" fill="#4d9c92" fill-opacity="0.90"/>
<circle cx="223.57" cy="136.61" r="1.3" fill="#4d9c92" fill-opacity="0.10"/>
<circle cx="226.07" cy="140.18" r="1.3" fill="#4b9a94" fill-opacity="0.10"/>
<circle cx="228.73" cy="144.07" r="1.3" fill="#499896" fill-opacity="0.10"/>
<circle cx="231.62" cy="152.12" r="1.3" fill="#458f9d" fill-opacity="0.90"/>
<circle cx="234.62" cy="154.63" r="1.3" fill="#458f9d" fill-opacity="0.90"/>
<circle cx="237.86" cy="161.31" r="1.3" fill="#42849f" fill-opacity="0.90"/>
<circle cx="241.25" cy="161.9" r="1.3" fill="#448a9e" fill-opacity="0.10"/>
<circle cx="244.91" cy="166.05" r="1.3" fill="#43879f" fill-opacity="0.10"/>
<circle cx="248.82" cy="172.41" r="1.3" fill="#407fa0" fill-opacity="0.90"/>
<circle cx="252.98" cy="175.08" r="1.3" fill="#4181a0" fill-opacity="0.10"/>
<circle cx="257.44" cy="183.95" r="1.3" fill="#3c72a2" fill-opacity="0.90"/>
<circle cx="262.19" cy="189.63" r="1.3" fill="#3a6ca2" fill-opacity="0.90"/>
<circle cx="267.27" cy="195.28" r="1.3" fill="#3966a1" fill-opacity="0.90"/>
<circle cx="272.69" cy="201.59" r="1.3" fill="#3760a1" fill-opacity="0.90"/>
<circle cx="278.5" cy="207.42" r="1.3" fill="#365da1" fill-opacity="0.90"/>
<circle cx="284.73" cy="212.7" r="1.3" fill="#365da1" fill-opacity="0.90"/>
<circle cx="291.39" cy="220.07" r="1.3" fill="#3556a1" fill-opacity="0.90"/>
<circle cx="298.54" cy="226.69" r="1.3" fill="#3454a0" fill-opacity="0.90"/>
<circle cx="306.15" cy="237.38" r="1.3" fill="#31489e" fill-opacity="0.90"/>
<circle cx="314.38" cy="244.2" r="1.3" fill="#31489e" fill-opacity="0.90"/>
<circle cx="285.92" cy="91" r="1.3" fill="#55a08d" fill-opacity="0.30"/>
<circle cx="287.43" cy="93.35" r="1.3" fill="#529f8f" fill-opacity="0.30"/>
<circle cx="289.05" cy="95.37" r="1.3" fill="#509e90" fill-opacity="0.30"/>
<circle cx="290.76" cy="98.96" r="1.3" fill="#4b9b93" fill-opacity="0.30"/>
<circle cx="292.59" cy="100.96" r="1.3" fill="#4b9a94" fill-opacity="0.30"/>
<circle cx="294.54" cy="104.46" r="1.3" fill="#499797" fill-opacity="0.30"/>
<circle cx="296.59" cy="108.91" r="1.3" fill="#47949a" fill-opacity="0.30"/>
<circle cx="298.74" cy="116.45" r="1.3" fill="#42869f" fill-opacity="0.90"/>
<circle cx="301.08" cy="120.74" r="1.3" fill="#407fa0" fill-opacity="0.90"/>
<circle cx="303.62" cy="121.38" r="1.3" fill="#41829f" fill-opacity="0.30"/>
<circle cx="306.35" cy="121.47" r="1.3" fill="#43889e" fill-opacity="0.30"/>
<circle cx="309.16" cy="127.95" r="1.3" fill="#3f7ca1" fill-opacity="0.30"/>
<circle cx="312.16" cy="133.9" r="1.3" fill="#3c71a2" fill-opacity="0.90"/>
<circle cx="315.44" cy="135.66" r="1.3" fill="#3c74a2" fill-opacity="0.30"/>
<circle cx="318.89" cy="140.61" r="1.3" fill="#3a6ca2" fill-opacity="0.30"/>
<circle cx="322.54" cy="146.9" r="1.3" fill="#375fa1" fill-opacity="0.90"/>
<circle cx="326.47" cy="151.67" r="1.3" fill="#3558a1" fill-opacity="0.90"/>
<circle cx="330.73" cy="154.43" r="1.3" fill="#365aa1" fill-opacity="0.30"/>
<circle cx="335.16" cy="161.9" r="1.3" fill="#324ba0" fill-opacity="0.90"/>
<circle cx="339.93" cy="168.46" r="1.3" fill="#31469d" fill-opacity="0.90"/>
<circle cx="345.11" cy="172.55" r="1.3" fill="#31469d" fill-opacity="0.90"/>
<circle cx="350.55" cy="179.93" r="1.3" fill="#2f409b" fill-opacity="0.90"/>
<circle cx="356.49" cy="184.41" r="1.3" fill="#2f419b" fill-opacity="0.90"/>
<circle cx="362.73" cy="192.23" r="1.3" fill="#2e3b98" fill-opacity="0.90"/>
<circle cx="369.5" cy="198.16" r="1.3" fill="#2e3a98" fill-opacity="0.90"/>
<circle cx="376.81" cy="203.59" r="1.3" fill="#2e3b98" fill-opacity="0.30"/>
<circle cx="384.55" cy="211.49" r="1.3" fill="#2d3896" fill-opacity="0.90"/>
<circle cx="392.78" cy="221.26" r="1.3" fill="#2d3796" fill-opacity="0.90"/>
</g>
<line x1="119.31" y1="201.1" x2="236.12" y2="310.75" stroke="#2e2e2e" stroke-width="1.15" />
<line x1="236.12" y1="310.75" x2="411.52" y2="232.16" stroke="#2e2e2e" stroke-width="1.15" />
<line x1="411.52" y1="232.16" x2="419.38" y2="99.08" stroke="#2e2e2e" stroke-width="1.15" />
<line x1="125.42" y1="204.35" x2="121.71" y2="205.84" stroke="#2e2e2e" stroke-width="0.9"/>
<line x1="145.99" y1="223.65" x2="142.29" y2="225.16" stroke="#2e2e2e" stroke-width="0.9"/>
<line x1="167.17" y1="243.52" x2="163.47" y2="245.06" stroke="#2e2e2e" stroke-width="0.9"/>
<line x1="188.98" y1="263.98" x2="185.3" y2="265.56" stroke="#2e2e2e" stroke-width="0.9"/>
<line x1="211.46" y1="285.08" x2="207.8" y2="286.68" stroke="#2e2e2e" stroke-width="0.9"/>
<line x1="267.21" y1="294.81" x2="270.17" y2="297.5" stroke="#2e2e2e" stroke-width="0.9"/>
<line x1="299.48" y1="280.37" x2="302.48" y2="283.01" stroke="#2e2e2e" stroke-width="0.9"/>
<line x1="331.09" y1="266.22" x2="334.13" y2="268.82" stroke="#2e2e2e" stroke-width="0.9"/>
<line x1="362.06" y1="252.35" x2="365.14" y2="254.91" stroke="#2e2e2e" stroke-width="0.9"/>
<line x1="392.42" y1="238.76" x2="395.53" y2="241.28" stroke="#2e2e2e" stroke-width="0.9"/>
<line x1="410.14" y1="227.65" x2="413.28" y2="230.14" stroke="#2e2e2e" stroke-width="0.9"/>
<line x1="411.26" y1="208.55" x2="414.41" y2="211.01" stroke="#2e2e2e" stroke-width="0.9"/>
<line x1="412.4" y1="189.15" x2="415.57" y2="191.59" stroke="#2e2e2e" stroke-width="0.9"/>
<line x1="413.56" y1="169.45" x2="416.75" y2="171.86" stroke="#2e2e2e" stroke-width="0.9"/>
<line x1="414.73" y1="149.44" x2="417.94" y2="151.83" stroke="#2e2e2e" stroke-width="0.9"/>
<line x1="415.92" y1="129.11" x2="419.15" y2="131.48" stroke="#2e2e2e" stroke-width="0.9"/>
<line x1="417.13" y1="108.47" x2="420.38" y2="110.8" stroke="#2e2e2e" stroke-width="0.9"/>
<g font-family="'DejaVu Sans','Liberation Sans',sans-serif" font-size="5.9" fill="#222" stroke="#222" stroke-width="0.15" text-anchor="middle">
<text x="116.3" y="217.92">2</text>
<text x="137.6" y="237.82">4</text>
<text x="158.2" y="258.12">6</text>
<text x="180.3" y="278.72">8</text>
<text x="202.9" y="300.52">10</text>
<text x="274.7" y="310.52">0.05</text>
<text x="306.5" y="295.72">0.10</text>
<text x="337.9" y="281.72">0.15</text>
<text x="368.5" y="267.92">0.20</text>
<text x="398.6" y="254.32">0.25</text>
<text x="431.1" y="115.32">0.545</text>
<text x="430" y="135.52">0.540</text>
<text x="428.7" y="156.12">0.535</text>
<text x="427.5" y="176.12">0.530</text>
<text x="426.2" y="195.42">0.525</text>
<text x="425" y="215.02">0.520</text>
<text x="423.7" y="233.52">0.515</text>
</g>
<g font-family="'DejaVu Sans','Liberation Sans',sans-serif" font-size="9.7" fill="#222" stroke="#222" stroke-width="0.2" text-anchor="middle">
<text transform="translate(160.2 270.3) rotate(43.1)" y="3.49">Traing Tokens (Billions)</text>
<text transform="translate(336.6 291.6) rotate(-24.1)" y="3.49">Model Size (Billions)</text>
<text transform="translate(440.8 179) rotate(-90)" y="3.49">Val Loss</text>
</g>
</g>
<g id="plot2d">
<clipPath id="clip2d"><rect x="606.5" y="48.3" width="389.79999999999995" height="249.0"/></clipPath>
<g stroke="#b8b8b8" stroke-width="1">
<line x1="693.5" y1="48.3" x2="693.5" y2="297.3" stroke="#a0a0a0" stroke-width="0.8"/>
<line x1="794.5" y1="48.3" x2="794.5" y2="297.3" stroke="#a0a0a0" stroke-width="0.8"/>
<line x1="894.5" y1="48.3" x2="894.5" y2="297.3" stroke="#a0a0a0" stroke-width="0.8"/>
<line x1="606.5" y1="280.2" x2="996.3" y2="280.2" stroke="#b4b4b4" stroke-width="1.0"/>
<line x1="606.5" y1="236.19" x2="996.3" y2="236.19" stroke="#b4b4b4" stroke-width="1.0"/>
<line x1="606.5" y1="193.04" x2="996.3" y2="193.04" stroke="#b4b4b4" stroke-width="1.0"/>
<line x1="606.5" y1="150.71" x2="996.3" y2="150.71" stroke="#b4b4b4" stroke-width="1.0"/>
<line x1="606.5" y1="109.18" x2="996.3" y2="109.18" stroke="#b4b4b4" stroke-width="1.0"/>
<line x1="606.5" y1="68.4" x2="996.3" y2="68.4" stroke="#b4b4b4" stroke-width="1.0"/>
</g>
<g clip-path="url(#clip2d)" fill="none">
<polyline points="606.5,62.8 611.43,65.53 616.37,68.22 621.3,70.87 626.24,73.46 631.17,76.01 636.11,78.52 641.04,80.98 645.97,83.4 650.91,85.77 655.84,88.11 660.78,90.4 665.71,92.65 670.64,94.86 675.58,97.03 680.51,99.17 685.45,101.26 690.38,103.32 695.32,105.34 700.25,107.33 705.18,109.28 710.12,111.19 715.05,113.08 719.99,114.92 724.92,116.74 729.85,118.52 734.79,120.27 739.72,121.99 744.66,123.67 749.59,125.33 754.53,126.96 759.46,128.55 764.39,130.12 769.33,131.66 774.26,133.18 779.2,134.66 784.13,136.12 789.06,137.55 794,138.96 798.93,140.34 803.87,141.7 808.8,143.03 813.74,144.33 818.67,145.62 823.6,146.88 828.54,148.11 833.47,149.33 838.41,150.52 843.34,151.69 848.27,152.84 853.21,153.97 858.14,155.08 863.08,156.16 868.01,157.23 872.95,158.28 877.88,159.31 882.81,160.32 887.75,161.31 892.68,162.29 897.62,163.24 902.55,164.18 907.48,165.1 912.42,166.01 917.35,166.89 922.29,167.76 927.22,168.62 932.16,169.46 937.09,170.28 942.02,171.09 946.96,171.89 951.89,172.67 956.83,173.43 961.76,174.18 966.69,174.92 971.63,175.64 976.56,176.35 981.5,177.05 986.43,177.74 991.37,178.41 996.3,179.07" stroke="#e6ebce" stroke-width="1.1"/>
<polyline points="606.5,102.67 611.43,105.45 616.37,108.19 621.3,110.88 626.24,113.53 631.17,116.12 636.11,118.68 641.04,121.18 645.97,123.64 650.91,126.06 655.84,128.44 660.78,130.77 665.71,133.07 670.64,135.32 675.58,137.53 680.51,139.7 685.45,141.84 690.38,143.93 695.32,145.99 700.25,148.01 705.18,150 710.12,151.95 715.05,153.87 719.99,155.75 724.92,157.6 729.85,159.41 734.79,161.19 739.72,162.94 744.66,164.66 749.59,166.35 754.53,168.01 759.46,169.63 764.39,171.23 769.33,172.8 774.26,174.34 779.2,175.86 784.13,177.34 789.06,178.8 794,180.23 798.93,181.64 803.87,183.02 808.8,184.38 813.74,185.71 818.67,187.02 823.6,188.3 828.54,189.56 833.47,190.8 838.41,192.01 843.34,193.2 848.27,194.38 853.21,195.53 858.14,196.65 863.08,197.76 868.01,198.85 872.95,199.92 877.88,200.97 882.81,202 887.75,203.01 892.68,204 897.62,204.97 902.55,205.93 907.48,206.87 912.42,207.79 917.35,208.69 922.29,209.58 927.22,210.45 932.16,211.31 937.09,212.15 942.02,212.97 946.96,213.78 951.89,214.58 956.83,215.36 961.76,216.12 966.69,216.87 971.63,217.61 976.56,218.34 981.5,219.05 986.43,219.74 991.37,220.43 996.3,221.1" stroke="#acd1c3" stroke-width="1.1"/>
<polyline points="606.5,122.36 611.43,125.17 616.37,127.94 621.3,130.65 626.24,133.32 631.17,135.94 636.11,138.51 641.04,141.04 645.97,143.53 650.91,145.97 655.84,148.37 660.78,150.72 665.71,153.03 670.64,155.31 675.58,157.54 680.51,159.73 685.45,161.88 690.38,164 695.32,166.08 700.25,168.12 705.18,170.12 710.12,172.09 715.05,174.02 719.99,175.92 724.92,177.79 729.85,179.62 734.79,181.42 739.72,183.18 744.66,184.92 749.59,186.62 754.53,188.29 759.46,189.93 764.39,191.55 769.33,193.13 774.26,194.69 779.2,196.21 784.13,197.71 789.06,199.18 794,200.63 798.93,202.05 803.87,203.44 808.8,204.81 813.74,206.16 818.67,207.48 823.6,208.77 828.54,210.04 833.47,211.29 838.41,212.52 843.34,213.72 848.27,214.9 853.21,216.06 858.14,217.2 863.08,218.32 868.01,219.42 872.95,220.5 877.88,221.56 882.81,222.6 887.75,223.62 892.68,224.62 897.62,225.6 902.55,226.57 907.48,227.51 912.42,228.44 917.35,229.36 922.29,230.25 927.22,231.13 932.16,232 937.09,232.84 942.02,233.68 946.96,234.49 951.89,235.29 956.83,236.08 961.76,236.85 966.69,237.61 971.63,238.36 976.56,239.09 981.5,239.81 986.43,240.51 991.37,241.2 996.3,241.88" stroke="#7ab3c9" stroke-width="1.1"/>
<polyline points="606.5,135.73 611.43,138.56 616.37,141.34 621.3,144.07 626.24,146.75 631.17,149.39 636.11,151.98 641.04,154.53 645.97,157.02 650.91,159.48 655.84,161.89 660.78,164.26 665.71,166.59 670.64,168.88 675.58,171.12 680.51,173.33 685.45,175.49 690.38,177.62 695.32,179.71 700.25,181.77 705.18,183.78 710.12,185.76 715.05,187.71 719.99,189.62 724.92,191.49 729.85,193.34 734.79,195.15 739.72,196.92 744.66,198.67 749.59,200.38 754.53,202.07 759.46,203.72 764.39,205.34 769.33,206.93 774.26,208.5 779.2,210.04 784.13,211.54 789.06,213.03 794,214.48 798.93,215.91 803.87,217.31 808.8,218.69 813.74,220.04 818.67,221.37 823.6,222.67 828.54,223.95 833.47,225.21 838.41,226.44 843.34,227.66 848.27,228.84 853.21,230.01 858.14,231.16 863.08,232.28 868.01,233.39 872.95,234.47 877.88,235.54 882.81,236.58 887.75,237.61 892.68,238.62 897.62,239.61 902.55,240.58 907.48,241.53 912.42,242.47 917.35,243.39 922.29,244.29 927.22,245.17 932.16,246.04 937.09,246.9 942.02,247.73 946.96,248.56 951.89,249.36 956.83,250.16 961.76,250.93 966.69,251.7 971.63,252.45 976.56,253.18 981.5,253.9 986.43,254.61 991.37,255.31 996.3,255.99" stroke="#5a87b0" stroke-width="1.25"/>
<polyline points="606.5,149.96 611.43,152.81 616.37,155.6 621.3,158.35 626.24,161.05 631.17,163.71 636.11,166.31 641.04,168.87 645.97,171.39 650.91,173.86 655.84,176.29 660.78,178.67 665.71,181.02 670.64,183.32 675.58,185.58 680.51,187.8 685.45,189.98 690.38,192.12 695.32,194.22 700.25,196.29 705.18,198.32 710.12,200.31 715.05,202.27 719.99,204.2 724.92,206.08 729.85,207.94 734.79,209.76 739.72,211.55 744.66,213.31 749.59,215.03 754.53,216.72 759.46,218.39 764.39,220.02 769.33,221.63 774.26,223.2 779.2,224.75 784.13,226.27 789.06,227.76 794,229.22 798.93,230.66 803.87,232.07 808.8,233.46 813.74,234.82 818.67,236.16 823.6,237.47 828.54,238.76 833.47,240.02 838.41,241.27 843.34,242.48 848.27,243.68 853.21,244.86 858.14,246.01 863.08,247.14 868.01,248.26 872.95,249.35 877.88,250.42 882.81,251.47 887.75,252.51 892.68,253.52 897.62,254.52 902.55,255.5 907.48,256.46 912.42,257.4 917.35,258.32 922.29,259.23 927.22,260.12 932.16,261 937.09,261.86 942.02,262.7 946.96,263.53 951.89,264.34 956.83,265.14 961.76,265.92 966.69,266.69 971.63,267.44 976.56,268.18 981.5,268.91 986.43,269.62 991.37,270.32 996.3,271.01" stroke="#444d7a" stroke-width="1.35" stroke-dasharray="3.9 1.6"/>
<polyline points="606.5,154.16 611.43,157.01 616.37,159.81 621.3,162.57 626.24,165.27 631.17,167.93 636.11,170.54 641.04,173.11 645.97,175.63 650.91,178.1 655.84,180.54 660.78,182.93 665.71,185.27 670.64,187.58 675.58,189.84 680.51,192.07 685.45,194.25 690.38,196.4 695.32,198.51 700.25,200.58 705.18,202.61 710.12,204.61 715.05,206.57 719.99,208.5 724.92,210.39 729.85,212.25 734.79,214.07 739.72,215.86 744.66,217.62 749.59,219.35 754.53,221.05 759.46,222.72 764.39,224.35 769.33,225.96 774.26,227.54 779.2,229.09 784.13,230.61 789.06,232.11 794,233.57 798.93,235.01 803.87,236.43 808.8,237.82 813.74,239.18 818.67,240.52 823.6,241.84 828.54,243.13 833.47,244.4 838.41,245.64 843.34,246.86 848.27,248.06 853.21,249.24 858.14,250.4 863.08,251.53 868.01,252.65 872.95,253.74 877.88,254.81 882.81,255.87 887.75,256.9 892.68,257.92 897.62,258.92 902.55,259.9 907.48,260.86 912.42,261.8 917.35,262.73 922.29,263.64 927.22,264.53 932.16,265.41 937.09,266.27 942.02,267.12 946.96,267.94 951.89,268.76 956.83,269.56 961.76,270.34 966.69,271.11 971.63,271.87 976.56,272.61 981.5,273.34 986.43,274.05 991.37,274.76 996.3,275.44" stroke="#393f68" stroke-width="1.35" stroke-dasharray="3.9 1.6"/>
</g>
<g fill="#e7ecd0">
<circle cx="650" cy="89.75" r="1.3"/>
<circle cx="654.44" cy="90.6" r="1.3"/>
<circle cx="658.89" cy="91.9" r="1.3"/>
<circle cx="663.33" cy="94.6" r="1.3"/>
<circle cx="667.78" cy="99" r="1.3"/>
<circle cx="672.22" cy="101.4" r="1.3"/>
<circle cx="676.66" cy="101" r="1.3"/>
<circle cx="681.11" cy="103.75" r="1.3"/>
<circle cx="685.55" cy="104.75" r="1.3"/>
<circle cx="690" cy="104.4" r="1.3"/>
<circle cx="694.44" cy="107.75" r="1.3"/>
<circle cx="698.88" cy="110.6" r="1.3"/>
<circle cx="703.33" cy="111.5" r="1.3"/>
<circle cx="707.77" cy="111.9" r="1.3"/>
<circle cx="712.22" cy="112.75" r="1.3"/>
<circle cx="716.66" cy="116.25" r="1.3"/>
<circle cx="721.1" cy="113.75" r="1.3"/>
<circle cx="725.55" cy="118.46" r="1.3"/>
<circle cx="729.99" cy="119.07" r="1.3"/>
<circle cx="734.44" cy="122.14" r="1.3"/>
<circle cx="738.88" cy="122.69" r="1.3"/>
<circle cx="743.32" cy="123.42" r="1.3"/>
<circle cx="747.77" cy="126.52" r="1.3"/>
<circle cx="752.21" cy="127.4" r="1.3"/>
<circle cx="756.66" cy="128.25" r="1.3"/>
<circle cx="761.1" cy="131.28" r="1.3"/>
<circle cx="765.54" cy="131.48" r="1.3"/>
<circle cx="769.99" cy="133.37" r="1.3"/>
</g>
<g fill="#a6d1c0">
<circle cx="650" cy="126.6" r="1.3"/>
<circle cx="654.44" cy="130" r="1.3"/>
<circle cx="658.89" cy="133.1" r="1.3"/>
<circle cx="663.33" cy="134.75" r="1.3"/>
<circle cx="667.78" cy="135.4" r="1.3"/>
<circle cx="672.22" cy="135" r="1.3"/>
<circle cx="676.66" cy="138.5" r="1.3"/>
<circle cx="681.11" cy="141.25" r="1.3"/>
<circle cx="685.55" cy="141.9" r="1.3"/>
<circle cx="690" cy="146.5" r="1.3"/>
<circle cx="694.44" cy="147.25" r="1.3"/>
<circle cx="698.88" cy="148.75" r="1.3"/>
<circle cx="703.33" cy="151.25" r="1.3"/>
<circle cx="707.77" cy="149.4" r="1.3"/>
<circle cx="712.22" cy="153.1" r="1.3"/>
<circle cx="716.66" cy="155.25" r="1.3"/>
<circle cx="721.1" cy="156.9" r="1.3"/>
<circle cx="725.55" cy="157.75" r="1.3"/>
<circle cx="729.99" cy="160.6" r="1.3"/>
<circle cx="734.44" cy="162.5" r="1.3"/>
<circle cx="738.88" cy="162.25" r="1.3"/>
<circle cx="743.32" cy="164" r="1.3"/>
<circle cx="747.77" cy="166.5" r="1.3"/>
<circle cx="752.21" cy="168.75" r="1.3"/>
<circle cx="756.66" cy="170.6" r="1.3"/>
<circle cx="761.1" cy="168.1" r="1.3"/>
<circle cx="765.54" cy="172.5" r="1.3"/>
<circle cx="769.99" cy="172.75" r="1.3"/>
</g>
<g fill="#6fb5d4">
<circle cx="650" cy="146.25" r="1.3"/>
<circle cx="654.44" cy="146.25" r="1.3"/>
<circle cx="658.89" cy="148.1" r="1.3"/>
<circle cx="663.33" cy="153.1" r="1.3"/>
<circle cx="667.78" cy="155.6" r="1.3"/>
<circle cx="672.22" cy="156.25" r="1.3"/>
<circle cx="676.66" cy="158.1" r="1.3"/>
<circle cx="681.11" cy="162.75" r="1.3"/>
<circle cx="685.55" cy="162.75" r="1.3"/>
<circle cx="690" cy="164.4" r="1.3"/>
<circle cx="694.44" cy="166.25" r="1.3"/>
<circle cx="698.88" cy="172.5" r="1.3"/>
<circle cx="703.33" cy="172.5" r="1.3"/>
<circle cx="707.77" cy="176.9" r="1.3"/>
<circle cx="712.22" cy="174.4" r="1.3"/>
<circle cx="716.66" cy="175.6" r="1.3"/>
<circle cx="721.1" cy="179" r="1.3"/>
<circle cx="725.55" cy="178.1" r="1.3"/>
<circle cx="729.99" cy="183.75" r="1.3"/>
<circle cx="734.44" cy="185.6" r="1.3"/>
<circle cx="738.88" cy="187.1" r="1.3"/>
<circle cx="743.32" cy="189" r="1.3"/>
<circle cx="747.77" cy="190" r="1.3"/>
<circle cx="752.21" cy="190" r="1.3"/>
<circle cx="756.66" cy="191.9" r="1.3"/>
<circle cx="761.1" cy="192.5" r="1.3"/>
<circle cx="765.54" cy="197.1" r="1.3"/>
<circle cx="769.99" cy="196.9" r="1.3"/>
</g>
<g fill="#4a87c0">
<circle cx="650" cy="159.1" r="1.3"/>
<circle cx="654.44" cy="160.4" r="1.3"/>
<circle cx="658.89" cy="161.25" r="1.3"/>
<circle cx="663.33" cy="163.75" r="1.3"/>
<circle cx="667.78" cy="164.4" r="1.3"/>
<circle cx="672.22" cy="166.6" r="1.3"/>
<circle cx="676.66" cy="169.75" r="1.3"/>
<circle cx="681.11" cy="176.25" r="1.3"/>
<circle cx="685.55" cy="179" r="1.3"/>
<circle cx="690" cy="177.5" r="1.3"/>
<circle cx="694.44" cy="175.25" r="1.3"/>
<circle cx="698.88" cy="180" r="1.3"/>
<circle cx="703.33" cy="184" r="1.3"/>
<circle cx="707.77" cy="183.1" r="1.3"/>
<circle cx="712.22" cy="185.6" r="1.3"/>
<circle cx="716.66" cy="189.4" r="1.3"/>
<circle cx="721.1" cy="191.25" r="1.3"/>
<circle cx="725.55" cy="190.6" r="1.3"/>
<circle cx="729.99" cy="195" r="1.3"/>
<circle cx="734.44" cy="198.1" r="1.3"/>
<circle cx="738.88" cy="198.1" r="1.3"/>
<circle cx="743.32" cy="201.5" r="1.3"/>
<circle cx="747.77" cy="201.25" r="1.3"/>
<circle cx="752.21" cy="204.4" r="1.3"/>
<circle cx="756.66" cy="205" r="1.3"/>
<circle cx="761.1" cy="204.6" r="1.3"/>
<circle cx="765.54" cy="206.5" r="1.3"/>
<circle cx="769.99" cy="210" r="1.3"/>
</g>
<g fill="none" stroke-width="0.8" stroke-dasharray="1 1.2">
<path d="M606.5 224.63 H759.93 V297.3" stroke="#e7a3a1"/>
<path d="M606.5 264.61 H951.25 V297.3" stroke="#6b80a4"/>
</g>
<polygon points="759.93,220.13 763.3,222.08 763.3,225.98 759.93,227.93 756.55,225.98 756.55,222.08" fill="#37803a" fill-opacity="1"/>
<polygon points="759.93,220.33 760.8,223.03 763.64,223.03 761.34,224.69 762.22,227.39 759.93,225.72 757.63,227.39 758.51,224.69 756.22,223.03 759.05,223.03" fill="#d9797c" fill-opacity="0.8"/>
<polygon points="951.65,261.91 952.48,264.47 955.17,264.47 952.99,266.05 953.82,268.6 951.65,267.02 949.47,268.6 950.3,266.05 948.13,264.47 950.82,264.47" fill="#5f8cc4" fill-opacity="0.9"/>
<polygon points="951.65,256.9 954.94,258.8 954.94,262.6 951.65,264.5 948.36,262.6 948.36,258.8" fill="#f0a93a" fill-opacity="1"/>
<g font-family="'DejaVu Sans','Liberation Sans',sans-serif" font-size="6.8">
<text x="630.3" y="222.3" fill="#e2aaaa">5.1266e-01</text>
<text x="760.23" y="260.1" fill="#e2aaaa" text-anchor="end">1.0e+01</text>
<text x="788.8" y="262.6" fill="#86a2c8" font-size="8.1">5.0352e-01</text>
<text x="950.65" y="284.6" fill="#86a2c8" text-anchor="end" font-size="8.1">1.4e+02</text>
</g>
<rect x="606.5" y="48.3" width="389.79999999999995" height="249.0" fill="none" stroke="#3c3c3c" stroke-width="1.15"/>
<g font-family="'DejaVu Sans','Liberation Sans',sans-serif" font-size="10.7" fill="#1a1a1a" stroke="#1a1a1a" stroke-width="0.2">
<text x="603.6" y="284.1" text-anchor="end">5.0e-01</text>
<text x="603.6" y="240.1" text-anchor="end">5.1e-01</text>
<text x="603.6" y="196.95" text-anchor="end">5.2e-01</text>
<text x="603.6" y="154.62" text-anchor="end">5.3e-01</text>
<text x="603.6" y="113.08" text-anchor="end">5.4e-01</text>
<text x="603.6" y="72.31" text-anchor="end">5.5e-01</text>
<text x="693.5" y="307.81" text-anchor="middle">4.0e+00</text>
<text x="794" y="307.81" text-anchor="middle">1.6e+01</text>
<text x="894.5" y="307.81" text-anchor="middle">6.4e+01</text>
<text x="995" y="307.81" text-anchor="middle">2.6e+02</text>
<text x="801.4" y="321.11" text-anchor="middle">Training Tokens (Billions)</text>
<text transform="translate(554.3 176.4) rotate(-90)" y="3.91" text-anchor="middle">Loss</text>
</g>
<rect x="723.4" y="54.6" width="267.4" height="81.30000000000001" rx="2" fill="#fff" fill-opacity="0.8" stroke="#d4d4d4" stroke-width="0.8"/>
<g font-family="'DejaVu Sans','Liberation Sans',sans-serif" font-size="10.75" fill="#1a1a1a" stroke="#1a1a1a" stroke-width="0.2">
<line x1="727.3" y1="62.4" x2="749" y2="62.4" stroke="#e6ebce" stroke-width="1.1"/>
<text x="757.7" y="66.32">N=0.02B</text>
<line x1="727.3" y1="78.0" x2="749" y2="78.0" stroke="#acd1c3" stroke-width="1.1"/>
<text x="757.7" y="81.92">N=0.06B</text>
<line x1="727.3" y1="93.7" x2="749" y2="93.7" stroke="#7ab3c9" stroke-width="1.1"/>
<text x="757.7" y="97.62">N=0.13B</text>
<line x1="727.3" y1="109.4" x2="749" y2="109.4" stroke="#5a87b0" stroke-width="1.25"/>
<text x="757.7" y="113.32">N=0.26B</text>
<line x1="727.3" y1="125.1" x2="749" y2="125.1" stroke="#444d7a" stroke-width="1.35" stroke-dasharray="3.9 1.6"/>
<text x="757.7" y="129.02">N=0.72B</text>
<line x1="827.3" y1="62.4" x2="847.3" y2="62.4" stroke="#393f68" stroke-width="1.35" stroke-dasharray="3.9 1.6"/>
<text x="857.7" y="66.32">N=1.07B</text>
<text x="857.7" y="81.92">Predicted (1.07B Model)</text>
<text x="857.7" y="97.62">Predicted (0.72B Model)</text>
<text x="857.7" y="113.32">0.72B 5.85e+20 Flops</text>
<text x="857.7" y="129.02">1.07B 10B tokens</text>
</g>
<polygon points="838.1,74.4 838.98,77.09 841.81,77.09 839.52,78.76 840.39,81.46 838.1,79.79 835.81,81.46 836.68,78.76 834.39,77.09 837.22,77.09" fill="#d9797c" fill-opacity="1"/>
<polygon points="838.1,90.1 838.98,92.79 841.81,92.79 839.52,94.46 840.39,97.16 838.1,95.49 835.81,97.16 836.68,94.46 834.39,92.79 837.22,92.79" fill="#4f7fbf" fill-opacity="1"/>
<polygon points="838.1,105.6 841.39,107.5 841.39,111.3 838.1,113.2 834.81,111.3 834.81,107.5" fill="#f0a93a" fill-opacity="1"/>
<polygon points="838.1,121.3 841.39,123.2 841.39,127 838.1,128.9 834.81,127 834.81,123.2" fill="#2f7d32" fill-opacity="1"/>
</g>
</svg>
<div class="cap" style="left:60.2px;top:333px;">(a) Performance scaling curve fitted on four small model scales.</div>
<div class="cap" style="left:589.6px;top:333px;">(b) Performance scaling curve extrapolated to larger models.</div>
<div class="main">
<div>Figure 5.<span class="spl"></span> Loss scaling with optimal hyperparameters across varying model and compute scales.<span class="sp"></span> <b>Left</b>:<span class="sp"></span> Fitted loss curves under optimal</div>
<div>hyperparameters across four smaller models, each trained with varying numbers of tokens.<span class="sp"></span> <b>Right</b>:<span class="sp"></span> Extrapolated loss curves extended</div>
<div>to larger model sizes and compute budgets, offering predictions for any model size and traing tokens.<span class="sp"></span> The red pentagram indicates the</div>
<div>projected loss for a 1.07B model with 10B training tokens, while the blue pentagram marks the expected loss for a 0.72B model under a</div>
<div class="last">compute budget of <span class="m">5.85<span class="x">×</span>10<sup>20</sup></span>.<span class="sp"></span> Experimental results are shown as green and orange hexagons, validating the extrapolation accuracy.</div>
</div>
</body></html>
